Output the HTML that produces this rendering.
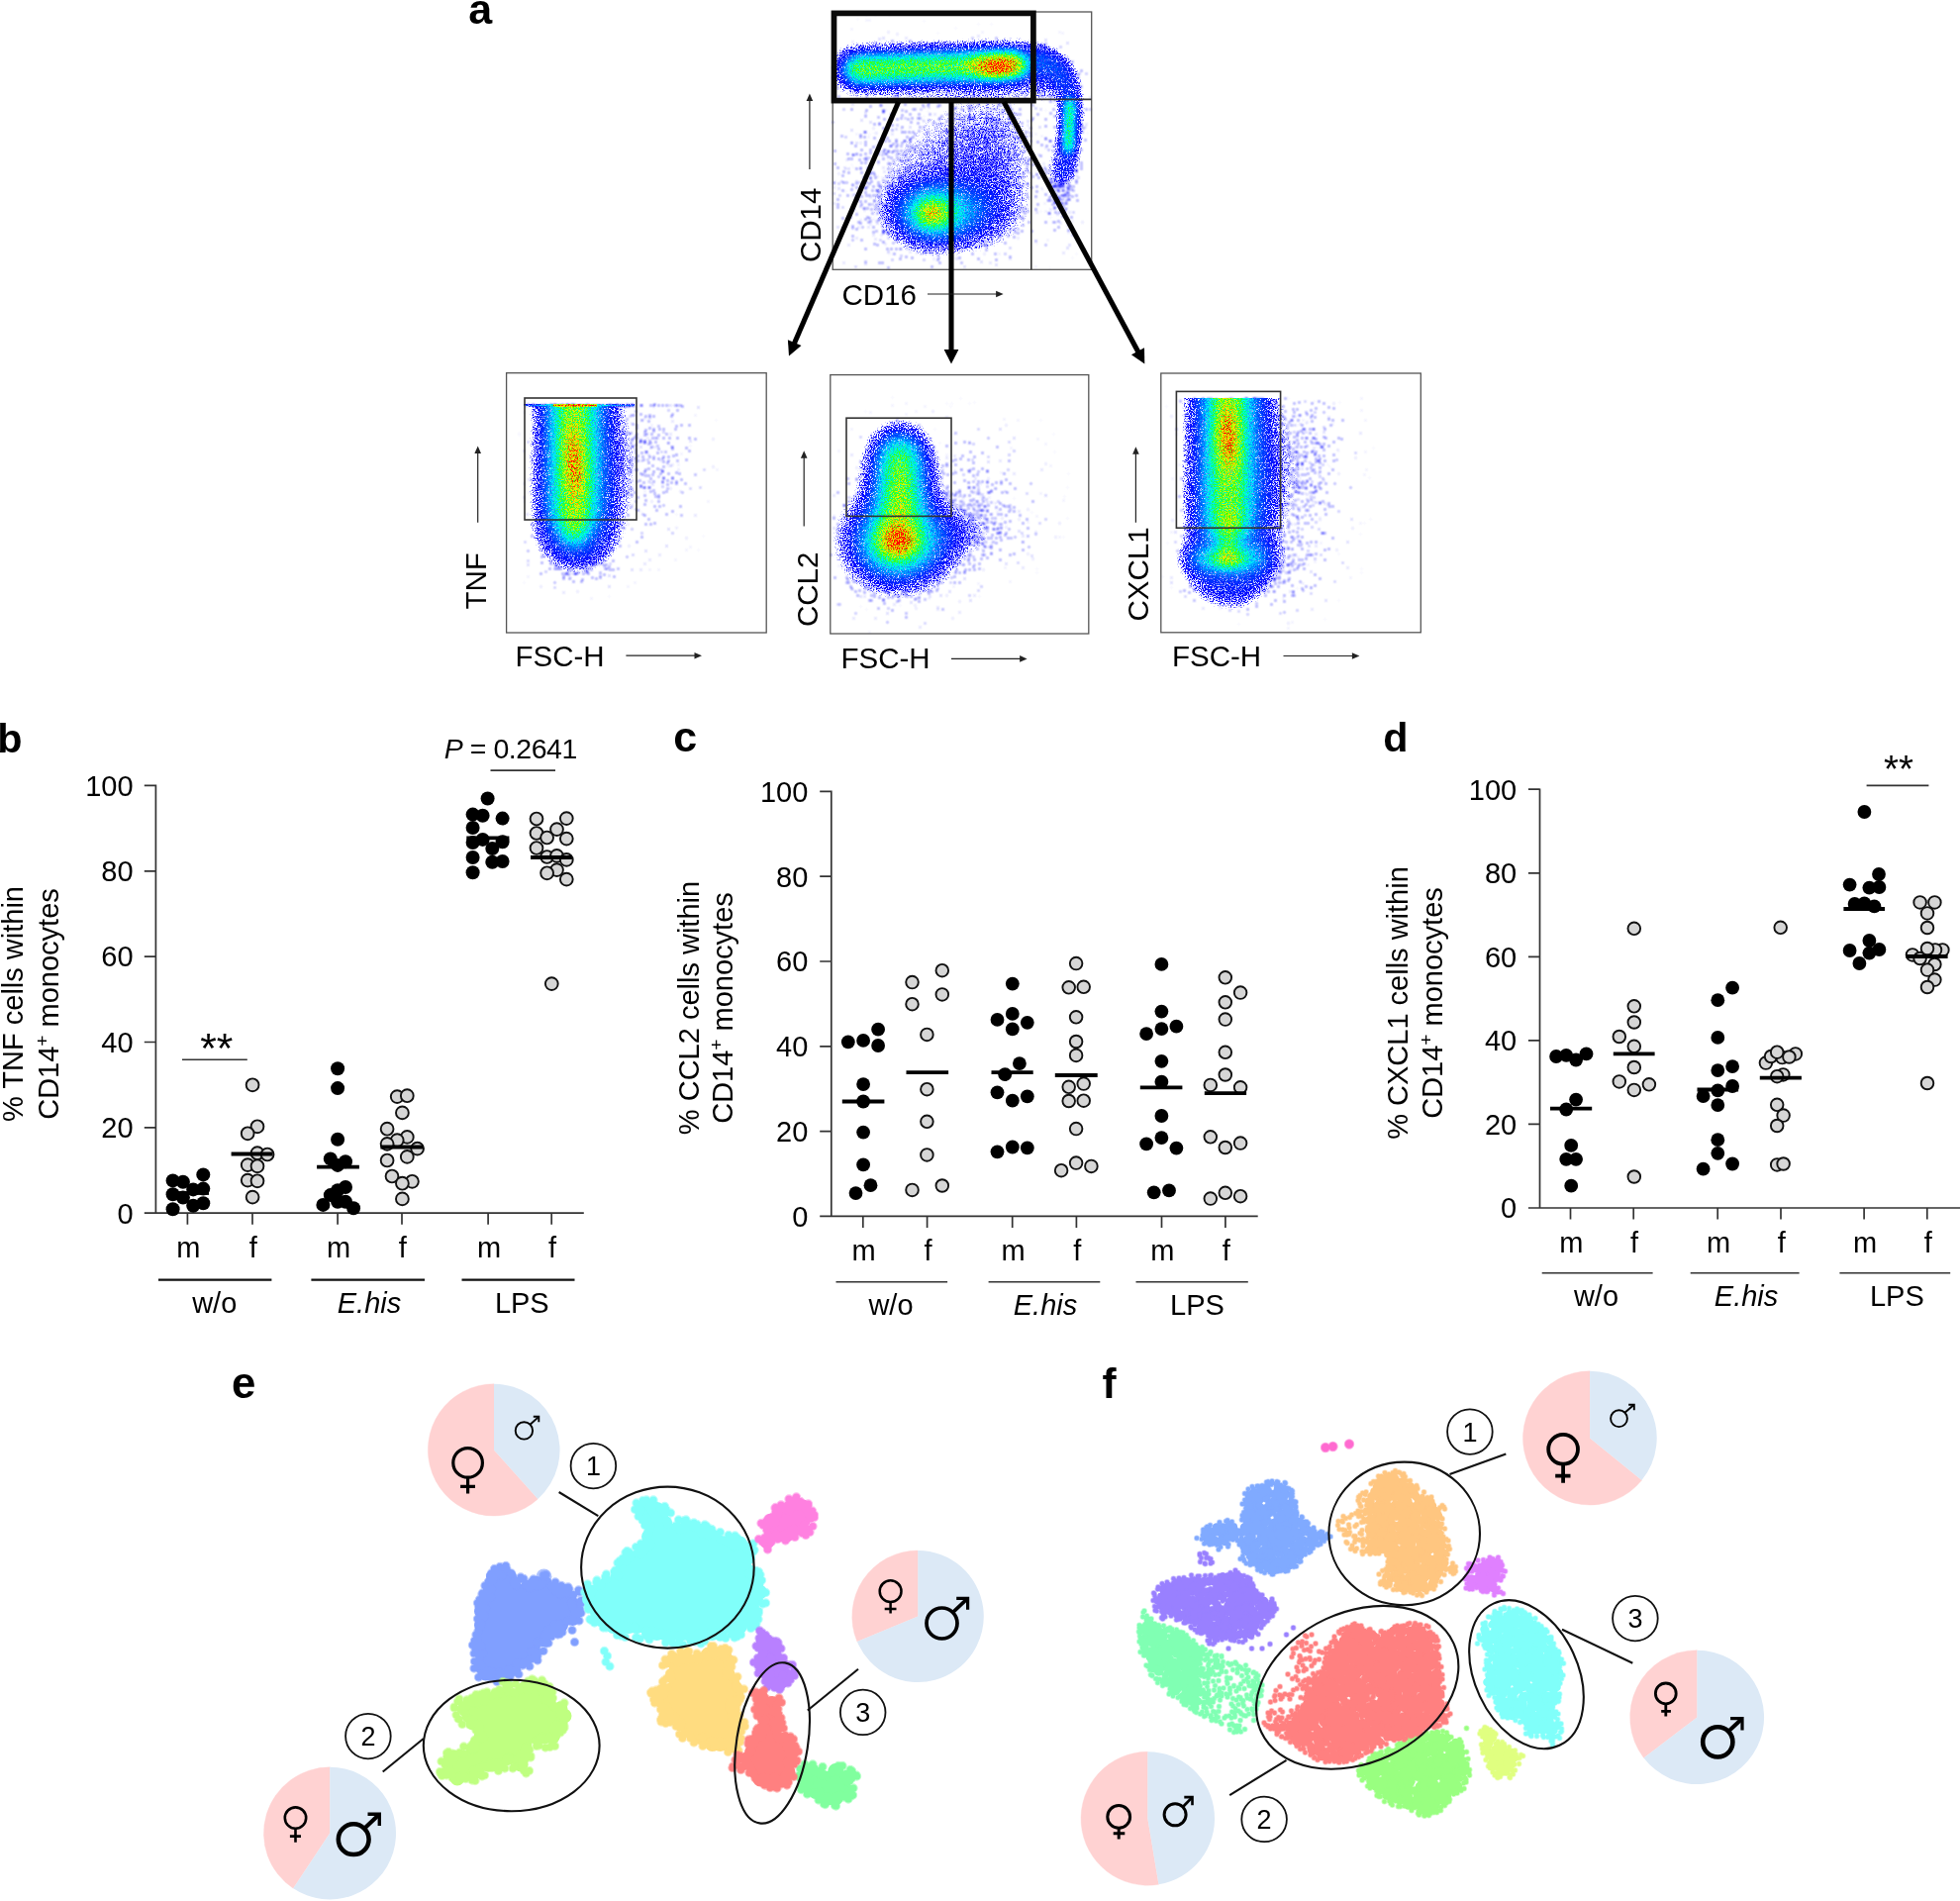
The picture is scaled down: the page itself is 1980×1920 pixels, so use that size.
<!DOCTYPE html>
<html lang="en"><head><meta charset="utf-8"><title>Figure</title>
<style>
html,body{margin:0;padding:0;background:#fff}
body{width:1980px;height:1920px;overflow:hidden}
svg{display:block}
text{font-family:"Liberation Sans", "DejaVu Sans", sans-serif;fill:#000}
.pl{font-weight:bold;font-size:41.3px}
.px{font-size:43px}
.t{font-size:29px}
.fl{font-size:29.5px}
.ax{stroke:#333;stroke-width:1.7;fill:none}
.md{stroke:#000;stroke-width:3.8;fill:none}
.k{fill:#000}
.g{fill:#d6d6d6;stroke:#111;stroke-width:1.9}
</style></head><body>
<svg width="1980" height="1920" viewBox="0 0 1980 1920">
<defs>
<radialGradient id="gg"><stop offset="0" stop-color="#fff" stop-opacity="1.000"/><stop offset=".1" stop-color="#fff" stop-opacity="0.956"/><stop offset=".2" stop-color="#fff" stop-opacity="0.835"/><stop offset=".3" stop-color="#fff" stop-opacity="0.667"/><stop offset=".4" stop-color="#fff" stop-opacity="0.487"/><stop offset=".5" stop-color="#fff" stop-opacity="0.325"/><stop offset=".6" stop-color="#fff" stop-opacity="0.198"/><stop offset=".7" stop-color="#fff" stop-opacity="0.110"/><stop offset=".8" stop-color="#fff" stop-opacity="0.056"/><stop offset=".9" stop-color="#fff" stop-opacity="0.026"/><stop offset="1" stop-color="#fff" stop-opacity="0.000"/></radialGradient>
<filter id="jet" filterUnits="userSpaceOnUse" x="500" y="0" width="950" height="650" color-interpolation-filters="sRGB"><feTurbulence type="fractalNoise" baseFrequency="0.83" numOctaves="2" seed="7" result="n"/><feComponentTransfer in="n" result="n2"><feFuncA type="linear" slope="3" intercept="-1"/></feComponentTransfer><feComposite in="SourceGraphic" in2="n2" operator="arithmetic" k1="0.5" k2="0.75" k3="0" k4="0" result="dC"/><feColorMatrix in="dC" type="matrix" values="0 0 0 1 0 0 0 0 1 0 0 0 0 1 0 0 0 0 0 1" result="g"/><feComponentTransfer in="g" result="col"><feFuncR type="table" tableValues="0 0 0 0 0 0 0.275 0.784 1 1 1"/><feFuncG type="table" tableValues="0 0 0.275 0.627 0.961 1 1 1 0.882 0.471 0"/><feFuncB type="table" tableValues="1 1 1 1 1 0.549 0 0 0 0 0"/></feComponentTransfer><feComposite in="SourceGraphic" in2="n2" operator="arithmetic" k1="1.5" k2="0.22" k3="0" k4="0" result="dA"/><feComponentTransfer in="dA" result="mask"><feFuncA type="table" tableValues="0 0 0 0 .5 1 1 1 1 1 1 1 1 1 1 1 1 1 1 1 1 1 1 1 1 1 1 1 1 1 1 1 1 1 1 1 1 1 1 1 1 1 1 1 1 1 1 1 1 1 1"/></feComponentTransfer><feComposite in="col" in2="mask" operator="in"/></filter>
<filter id="dots" filterUnits="userSpaceOnUse" x="500" y="0" width="950" height="650" color-interpolation-filters="sRGB"><feTurbulence type="fractalNoise" baseFrequency="0.78" numOctaves="1" seed="3" result="n"/><feComponentTransfer in="n" result="n2"><feFuncA type="linear" slope="2" intercept="-.5"/></feComponentTransfer><feComposite in="SourceGraphic" in2="n2" operator="arithmetic" k1="0" k2="1" k3="1" k4="-1" result="d"/><feColorMatrix in="d" type="matrix" values="0 0 0 0 .2 0 0 0 0 .2 0 0 0 0 1 0 0 0 25 0"/><feGaussianBlur stdDeviation="0.8"/><feComponentTransfer><feFuncA type="linear" slope="2.6"/></feComponentTransfer></filter>
<filter id="b2" filterUnits="userSpaceOnUse" x="500" y="0" width="950" height="650"><feGaussianBlur stdDeviation="2"/></filter><filter id="b3" filterUnits="userSpaceOnUse" x="500" y="0" width="950" height="650"><feGaussianBlur stdDeviation="3"/></filter><filter id="b4" filterUnits="userSpaceOnUse" x="500" y="0" width="950" height="650"><feGaussianBlur stdDeviation="4"/></filter><filter id="b6" filterUnits="userSpaceOnUse" x="500" y="0" width="950" height="650"><feGaussianBlur stdDeviation="6"/></filter><filter id="b9" filterUnits="userSpaceOnUse" x="500" y="0" width="950" height="650"><feGaussianBlur stdDeviation="9"/></filter><filter id="b12" filterUnits="userSpaceOnUse" x="500" y="0" width="950" height="650"><feGaussianBlur stdDeviation="12"/></filter><filter id="b16" filterUnits="userSpaceOnUse" x="500" y="0" width="950" height="650"><feGaussianBlur stdDeviation="16"/></filter>
<clipPath id="c0"><rect x="841.5" y="12.5" width="260.5" height="259"/></clipPath><clipPath id="c1"><rect x="512" y="408.6" width="261.5" height="230"/></clipPath><clipPath id="c2"><rect x="839.3" y="379" width="260" height="260.5"/></clipPath><clipPath id="c3"><rect x="1173.3" y="402.3" width="261.5" height="236"/></clipPath></defs>
<g filter="url(#dots)"><g opacity=".5"><g clip-path="url(#c0)"><ellipse cx="960" cy="165" rx="174" ry="150" fill="url(#gg)" fill-opacity=".36"/><ellipse cx="1005" cy="150" rx="90" ry="135" fill="url(#gg)" fill-opacity=".3"/><ellipse cx="948" cy="215" rx="135" ry="84" fill="url(#gg)" fill-opacity=".55"/><ellipse cx="880" cy="150" rx="90" ry="180" fill="url(#gg)" fill-opacity=".15"/><path d="M858 69L1040 65" stroke="#fff" stroke-width="36" stroke-opacity=".7" stroke-linecap="round" stroke-linejoin="round" fill="none" filter="url(#b6)"/><path d="M1046 58Q1088 68 1083 120T1072 195" stroke="#fff" stroke-width="22" stroke-opacity=".5" stroke-linecap="round" stroke-linejoin="round" fill="none" filter="url(#b6)"/><ellipse cx="1060" cy="76" rx="51" ry="51" fill="url(#gg)" fill-opacity=".42"/><ellipse cx="1070" cy="205" rx="30" ry="66" fill="url(#gg)" fill-opacity=".3"/></g><g clip-path="url(#c1)"><path d="M582 400V540" stroke="#fff" stroke-width="70" stroke-opacity=".6" stroke-linecap="round" stroke-linejoin="round" fill="none" filter="url(#b12)"/><ellipse cx="640" cy="470" rx="90" ry="135" fill="url(#gg)" fill-opacity=".3" transform="rotate(-10 640 470)"/><ellipse cx="672" cy="450" rx="75" ry="114" fill="url(#gg)" fill-opacity=".12"/><ellipse cx="586" cy="565" rx="72" ry="48" fill="url(#gg)" fill-opacity=".33"/><rect x="529" y="408.6" width="114" height="1.7" fill="#fff"/><rect x="643" y="408.6" width="48" height="1.5" fill="#fff" fill-opacity=".55"/></g><g clip-path="url(#c2)"><ellipse cx="912" cy="548" rx="120" ry="102" fill="url(#gg)" fill-opacity=".6"/><ellipse cx="909" cy="492" rx="78" ry="96" fill="url(#gg)" fill-opacity=".5"/><ellipse cx="975" cy="535" rx="108" ry="66" fill="url(#gg)" fill-opacity=".42" transform="rotate(-10 975 535)"/><ellipse cx="965" cy="480" rx="84" ry="90" fill="url(#gg)" fill-opacity=".15"/><ellipse cx="1010" cy="500" rx="90" ry="120" fill="url(#gg)" fill-opacity=".1"/><ellipse cx="905" cy="585" rx="90" ry="60" fill="url(#gg)" fill-opacity=".3"/></g><g clip-path="url(#c3)"><path d="M1243 395V566" stroke="#fff" stroke-width="78" stroke-opacity=".6" stroke-linecap="round" stroke-linejoin="round" fill="none" filter="url(#b12)"/><ellipse cx="1300" cy="470" rx="84" ry="180" fill="url(#gg)" fill-opacity=".35"/><ellipse cx="1330" cy="460" rx="75" ry="165" fill="url(#gg)" fill-opacity=".13"/><ellipse cx="1290" cy="570" rx="90" ry="75" fill="url(#gg)" fill-opacity=".3"/><ellipse cx="1240" cy="590" rx="90" ry="30" fill="url(#gg)" fill-opacity=".2"/></g></g></g>
<g filter="url(#jet)"><g clip-path="url(#c0)"><path d="M864 70L1030 65.5" stroke="#fff" stroke-width="46" stroke-opacity=".13" stroke-linecap="round" stroke-linejoin="round" fill="none" filter="url(#b9)"/><path d="M867 70L1025 65.5" stroke="#fff" stroke-width="25" stroke-opacity=".5" stroke-linecap="round" stroke-linejoin="round" fill="none" filter="url(#b6)"/><path d="M985 67L1020 65.5" stroke="#fff" stroke-width="14" stroke-opacity=".35" stroke-linecap="round" stroke-linejoin="round" fill="none" filter="url(#b6)"/><ellipse cx="1009" cy="67" rx="42" ry="21" fill="url(#gg)" fill-opacity=".85" transform="rotate(-3 1009 67)"/><ellipse cx="1060" cy="77" rx="42" ry="45" fill="url(#gg)" fill-opacity=".1"/><path d="M1050 58Q1086 68 1082 118T1074 175" stroke="#fff" stroke-width="21" stroke-opacity=".125" stroke-linecap="round" stroke-linejoin="round" fill="none" filter="url(#b6)"/><ellipse cx="960" cy="165" rx="174" ry="144" fill="url(#gg)" fill-opacity=".055"/><ellipse cx="1005" cy="150" rx="90" ry="135" fill="url(#gg)" fill-opacity=".04"/><path d="M1080.5 104L1079.5 150" stroke="#fff" stroke-width="7" stroke-opacity=".66" stroke-linecap="round" stroke-linejoin="round" fill="none" filter="url(#b4)"/><ellipse cx="956" cy="215" rx="111" ry="72" fill="url(#gg)" fill-opacity=".15"/><ellipse cx="943" cy="215" rx="57" ry="45" fill="url(#gg)" fill-opacity=".55"/><ellipse cx="941" cy="216" rx="24" ry="21" fill="url(#gg)" fill-opacity=".36"/><ellipse cx="980" cy="212" rx="66" ry="45" fill="url(#gg)" fill-opacity=".08"/></g><g clip-path="url(#c1)"><path d="M582 385V533" stroke="#fff" stroke-width="80" stroke-opacity=".135" stroke-linecap="round" stroke-linejoin="round" fill="none" filter="url(#b9)"/><ellipse cx="605" cy="475" rx="114" ry="156" fill="url(#gg)" fill-opacity=".06"/><path d="M580 385V517" stroke="#fff" stroke-width="44" stroke-opacity=".45" stroke-linecap="round" stroke-linejoin="round" fill="none" filter="url(#b9)"/><path d="M580 385V515" stroke="#fff" stroke-width="24" stroke-opacity=".16" stroke-linecap="round" stroke-linejoin="round" fill="none" filter="url(#b6)"/><ellipse cx="580" cy="468" rx="21" ry="78" fill="url(#gg)" fill-opacity=".6" transform="rotate(-3 580 468)"/><ellipse cx="580" cy="538" rx="30" ry="33" fill="url(#gg)" fill-opacity=".3"/><rect x="529" y="408.6" width="112" height="1.6" fill="#fff" fill-opacity=".2"/><rect x="559" y="408.6" width="44" height="1.8" fill="#fff"/></g><g clip-path="url(#c2)"><ellipse cx="908" cy="546" rx="105" ry="90" fill="url(#gg)" fill-opacity=".135"/><ellipse cx="909" cy="488" rx="75" ry="102" fill="url(#gg)" fill-opacity=".12"/><ellipse cx="962" cy="540" rx="102" ry="54" fill="url(#gg)" fill-opacity=".06" transform="rotate(-10 962 540)"/><ellipse cx="907" cy="548" rx="72" ry="63" fill="url(#gg)" fill-opacity=".62"/><ellipse cx="907" cy="545.5" rx="33" ry="30" fill="url(#gg)" fill-opacity=".75"/><ellipse cx="907" cy="545" rx="18" ry="18" fill="url(#gg)" fill-opacity=".4"/><path d="M909 459V520" stroke="#fff" stroke-width="34" stroke-opacity=".62" stroke-linecap="round" stroke-linejoin="round" fill="none" filter="url(#b12)"/><path d="M909 478V520" stroke="#fff" stroke-width="5" stroke-opacity=".15" stroke-linecap="round" stroke-linejoin="round" fill="none" filter="url(#b6)"/></g><g clip-path="url(#c3)"><path d="M1242 385V568" stroke="#fff" stroke-width="86" stroke-opacity=".135" stroke-linecap="round" stroke-linejoin="round" fill="none" filter="url(#b9)"/><ellipse cx="1282" cy="480" rx="102" ry="174" fill="url(#gg)" fill-opacity=".055"/><path d="M1241 385V528" stroke="#fff" stroke-width="44" stroke-opacity=".45" stroke-linecap="round" stroke-linejoin="round" fill="none" filter="url(#b9)"/><path d="M1241 385V522" stroke="#fff" stroke-width="24" stroke-opacity=".15" stroke-linecap="round" stroke-linejoin="round" fill="none" filter="url(#b6)"/><ellipse cx="1240.5" cy="441" rx="22.5" ry="66" fill="url(#gg)" fill-opacity=".66" transform="rotate(-2 1240.5 441)"/><path d="M1241 522V560" stroke="#fff" stroke-width="14" stroke-opacity=".25" stroke-linecap="round" stroke-linejoin="round" fill="none" filter="url(#b6)"/><ellipse cx="1241" cy="564" rx="66" ry="30" fill="url(#gg)" fill-opacity=".46"/><ellipse cx="1241" cy="565" rx="27" ry="18" fill="url(#gg)" fill-opacity=".22"/></g></g>
<g fill="none" stroke="#555" stroke-width="1.3"><rect x="841.2" y="12" width="261.5" height="260.3"/><rect x="511.6" y="376.7" width="262.6" height="262.3"/><rect x="838.8" y="378.6" width="261" height="261.4"/><rect x="1172.8" y="377" width="262.5" height="261.8"/></g>
<g fill="none" stroke="#333" stroke-width="1.6"><path d="M1041.8 103V272.3M1046 100.4H1102.7"/><rect x="530" y="402" width="113" height="123"/><rect x="855" y="422.2" width="106" height="99.2"/><rect x="1188.4" y="395.4" width="105.2" height="137.8"/></g>
<rect x="842.5" y="13.4" width="201.4" height="88.2" fill="none" stroke="#0a0a0a" stroke-width="5.7"/>
<path d="M907.6 103L801.9 348" stroke="#000" stroke-width="5.1" fill="none"/><path d="M797 359.5L795.9 343.3L809.5 349.1Z" fill="#000"/><path d="M961 103L961 355" stroke="#000" stroke-width="5.1" fill="none"/><path d="M961 367.5L953.6 353L968.4 353Z" fill="#000"/><path d="M1014.2 103L1150.4 356.5" stroke="#000" stroke-width="5.1" fill="none"/><path d="M1156.3 367.5L1142.9 358.2L1156 351.2Z" fill="#000"/>
<path d="M817.9 171L817.9 100.1" stroke="#222" stroke-width="1.2" fill="none"/><path d="M817.9 94.6L821.2 102.1L814.6 102.1Z" fill="#222"/><path d="M937 297L1008.1 297" stroke="#222" stroke-width="1.2" fill="none"/><path d="M1013.6 297L1006.1 300.3L1006.1 293.7Z" fill="#222"/><path d="M482.7 527.7L482.7 455.9" stroke="#222" stroke-width="1.2" fill="none"/><path d="M482.7 450.4L486 457.9L479.4 457.9Z" fill="#222"/><path d="M632.4 662.2L703.5 662.2" stroke="#222" stroke-width="1.2" fill="none"/><path d="M709 662.2L701.5 665.5L701.5 658.9Z" fill="#222"/><path d="M812.2 531.4L812.2 460.8" stroke="#222" stroke-width="1.2" fill="none"/><path d="M812.2 455.3L815.5 462.8L808.9 462.8Z" fill="#222"/><path d="M961 665.4L1032.1 665.4" stroke="#222" stroke-width="1.2" fill="none"/><path d="M1037.6 665.4L1030.1 668.7L1030.1 662.1Z" fill="#222"/><path d="M1147.4 527.7L1147.4 456.8" stroke="#222" stroke-width="1.2" fill="none"/><path d="M1147.4 451.3L1150.7 458.8L1144.1 458.8Z" fill="#222"/><path d="M1296.5 662.5L1367.9 662.5" stroke="#222" stroke-width="1.2" fill="none"/><path d="M1373.4 662.5L1365.9 665.8L1365.9 659.2Z" fill="#222"/>
<text class="pl px" x="473.2" y="24">a</text><text class="fl" transform="translate(829.3 265) rotate(-90)">CD14</text><text class="fl" x="850.5" y="308">CD16</text><text class="fl" transform="translate(490.5 615.5) rotate(-90)">TNF</text><text class="fl" x="520.5" y="673.2">FSC-H</text><text class="fl" transform="translate(826 633) rotate(-90)">CCL2</text><text class="fl" x="849.5" y="675.2">FSC-H</text><text class="fl" transform="translate(1159.6 627.5) rotate(-90)">CXCL1</text><text class="fl" x="1184" y="672.7">FSC-H</text>
<text class="pl" x="-2.7" y="760">b</text><path class="ax" d="M157.4 792.6V1225.2M145.8 1225.2H589.8M145.8 793.4H157.4M145.8 879.8H157.4M145.8 966.1H157.4M145.8 1052.5H157.4M145.8 1138.8H157.4M189.4 1225.2V1236.7M255 1225.2V1236.7M341.1 1225.2V1236.7M406 1225.2V1236.7M493.1 1225.2V1236.7M557.2 1225.2V1236.7"/><text class="t" text-anchor="end" x="134.6" y="803.7">100</text><text class="t" text-anchor="end" x="134.6" y="890.1">80</text><text class="t" text-anchor="end" x="134.6" y="976.4">60</text><text class="t" text-anchor="end" x="134.6" y="1062.8">40</text><text class="t" text-anchor="end" x="134.6" y="1149.1">20</text><text class="t" text-anchor="end" x="134.6" y="1235.5">0</text><text class="t" text-anchor="middle" x="190.3" y="1270">m</text><text class="t" text-anchor="middle" x="255.9" y="1270">f</text><text class="t" text-anchor="middle" x="342" y="1270">m</text><text class="t" text-anchor="middle" x="406.9" y="1270">f</text><text class="t" text-anchor="middle" x="494" y="1270">m</text><text class="t" text-anchor="middle" x="558.1" y="1270">f</text><path d="M160 1292.6H274.4M314.4 1292.6H429M466.5 1292.6H580.5" stroke="#111" stroke-width="2.4" fill="none"/><text class="t" text-anchor="middle" x="216.7" y="1325.5">w/o</text><text class="t" text-anchor="middle" x="373" y="1325.5"><tspan font-style="italic">E.his</tspan></text><text class="t" text-anchor="middle" x="527.3" y="1325.5">LPS</text><text class="t" text-anchor="middle" transform="translate(22.6 1014) rotate(-90)">% TNF cells within</text><text class="t" text-anchor="middle" transform="translate(58.8 1014) rotate(-90)">CD14<tspan font-size="19" dy="-10">+</tspan><tspan dy="10"> monocytes</tspan></text>
<circle class="k" cx="174.6" cy="1192.4" r="7"/><circle class="k" cx="184.9" cy="1193.8" r="7"/><circle class="k" cx="205.3" cy="1186.4" r="7"/><circle class="k" cx="174.6" cy="1206.3" r="7"/><circle class="k" cx="184.9" cy="1209.6" r="7"/><circle class="k" cx="195.2" cy="1201.4" r="7"/><circle class="k" cx="205.3" cy="1200.6" r="7"/><circle class="k" cx="195.2" cy="1217.8" r="7"/><circle class="k" cx="205.3" cy="1215.3" r="7"/><circle class="k" cx="174.6" cy="1221.3" r="7"/><circle class="g" cx="255.1" cy="1095.8" r="6.4"/><circle class="g" cx="260" cy="1137.8" r="6.4"/><circle class="g" cx="250.2" cy="1144.8" r="6.4"/><circle class="g" cx="260" cy="1164.7" r="6.4"/><circle class="g" cx="270.1" cy="1166" r="6.4"/><circle class="g" cx="250.2" cy="1176.6" r="6.4"/><circle class="g" cx="260" cy="1177.8" r="6.4"/><circle class="g" cx="250.2" cy="1192.1" r="6.4"/><circle class="g" cx="260" cy="1192.8" r="6.4"/><circle class="g" cx="255.1" cy="1209.1" r="6.4"/><circle class="k" cx="341.1" cy="1079.3" r="7"/><circle class="k" cx="341.1" cy="1099.1" r="7"/><circle class="k" cx="341.1" cy="1150.8" r="7"/><circle class="k" cx="333.8" cy="1170.4" r="7"/><circle class="k" cx="349" cy="1173.3" r="7"/><circle class="k" cx="341.1" cy="1176.9" r="7"/><circle class="k" cx="349" cy="1199" r="7"/><circle class="k" cx="341.1" cy="1202.2" r="7"/><circle class="k" cx="333.8" cy="1207.1" r="7"/><circle class="k" cx="341.1" cy="1213.7" r="7"/><circle class="k" cx="349" cy="1213.7" r="7"/><circle class="k" cx="326.4" cy="1216.9" r="7"/><circle class="k" cx="357.1" cy="1220.2" r="7"/><circle class="g" cx="401.2" cy="1107.6" r="6.4"/><circle class="g" cx="411.3" cy="1106.7" r="6.4"/><circle class="g" cx="406.4" cy="1123.9" r="6.4"/><circle class="g" cx="391.1" cy="1140.2" r="6.4"/><circle class="g" cx="411.3" cy="1148.4" r="6.4"/><circle class="g" cx="401.2" cy="1151.6" r="6.4"/><circle class="g" cx="391.1" cy="1155.4" r="6.4"/><circle class="g" cx="421.6" cy="1160.1" r="6.4"/><circle class="g" cx="411.3" cy="1168.4" r="6.4"/><circle class="g" cx="391.1" cy="1172" r="6.4"/><circle class="g" cx="396" cy="1188" r="6.4"/><circle class="g" cx="416.4" cy="1193.3" r="6.4"/><circle class="g" cx="406.4" cy="1195.2" r="6.4"/><circle class="g" cx="406.4" cy="1210.9" r="6.4"/><circle class="k" cx="492.6" cy="806.5" r="7"/><circle class="k" cx="477.6" cy="822.6" r="7"/><circle class="k" cx="487.6" cy="823.7" r="7"/><circle class="k" cx="507.6" cy="826.6" r="7"/><circle class="k" cx="477.6" cy="836" r="7"/><circle class="k" cx="487.6" cy="847.9" r="7"/><circle class="k" cx="507.6" cy="850.2" r="7"/><circle class="k" cx="477.6" cy="851" r="7"/><circle class="k" cx="497.3" cy="857" r="7"/><circle class="k" cx="477.6" cy="866" r="7"/><circle class="k" cx="497.3" cy="870.7" r="7"/><circle class="k" cx="507.6" cy="870" r="7"/><circle class="k" cx="477.6" cy="881.3" r="7"/><circle class="g" cx="542" cy="827" r="6.4"/><circle class="g" cx="572.3" cy="826.6" r="6.4"/><circle class="g" cx="562.5" cy="837.6" r="6.4"/><circle class="g" cx="542" cy="841.5" r="6.4"/><circle class="g" cx="552.6" cy="846" r="6.4"/><circle class="g" cx="572.3" cy="847.1" r="6.4"/><circle class="g" cx="542" cy="856.5" r="6.4"/><circle class="g" cx="552.6" cy="865.5" r="6.4"/><circle class="g" cx="562.5" cy="864.4" r="6.4"/><circle class="g" cx="572.3" cy="868.4" r="6.4"/><circle class="g" cx="562.5" cy="878.6" r="6.4"/><circle class="g" cx="552.6" cy="881.8" r="6.4"/><circle class="g" cx="572.3" cy="888.1" r="6.4"/><circle class="g" cx="557.3" cy="993.6" r="6.4"/>
<path class="md" d="M179.2 1205H211"/><path class="md" d="M233.6 1165.5H275.5"/><path class="md" d="M320.1 1178.6H362.9"/><path class="md" d="M384.4 1158.5H427.3"/><path class="md" d="M471.3 846.3H514.4"/><path class="md" d="M536 866H577.9"/><path d="M184 1070.3H249.8M495.5 778.1H561" stroke="#333" stroke-width="1.6" fill="none"/><text text-anchor="middle" x="218.7" y="1073.2" font-size="42.5">**</text><text x="448.7" y="766.3" font-size="28.5" letter-spacing="-.45"><tspan font-style="italic">P</tspan> = 0.2641</text>
<text class="pl px" x="680.3" y="759.3">c</text><path class="ax" d="M839.8 798.6V1228.4M828.2 1228.4H1270.7M828.2 799.4H839.8M828.2 885.2H839.8M828.2 971H839.8M828.2 1056.8H839.8M828.2 1142.6H839.8M871.8 1228.4V1239.9M936.6 1228.4V1239.9M1022.7 1228.4V1239.9M1087.4 1228.4V1239.9M1173.5 1228.4V1239.9M1237.9 1228.4V1239.9"/><text class="t" text-anchor="end" x="816.3" y="809.7">100</text><text class="t" text-anchor="end" x="816.3" y="895.5">80</text><text class="t" text-anchor="end" x="816.3" y="981.3">60</text><text class="t" text-anchor="end" x="816.3" y="1067.1">40</text><text class="t" text-anchor="end" x="816.3" y="1152.9">20</text><text class="t" text-anchor="end" x="816.3" y="1238.7">0</text><text class="t" text-anchor="middle" x="872.7" y="1272.8">m</text><text class="t" text-anchor="middle" x="937.5" y="1272.8">f</text><text class="t" text-anchor="middle" x="1023.6" y="1272.8">m</text><text class="t" text-anchor="middle" x="1088.3" y="1272.8">f</text><text class="t" text-anchor="middle" x="1174.4" y="1272.8">m</text><text class="t" text-anchor="middle" x="1238.8" y="1272.8">f</text><path d="M844.5 1294.7H957.1M998.6 1294.7H1111.3M1147.5 1294.7H1260.8" stroke="#333" stroke-width="1.5" fill="none"/><text class="t" text-anchor="middle" x="900" y="1328">w/o</text><text class="t" text-anchor="middle" x="1056" y="1328"><tspan font-style="italic">E.his</tspan></text><text class="t" text-anchor="middle" x="1209.5" y="1328">LPS</text><text class="t" text-anchor="middle" transform="translate(705.7 1018) rotate(-90)">% CCL2 cells within</text><text class="t" text-anchor="middle" transform="translate(740 1018) rotate(-90)">CD14<tspan font-size="19" dy="-10">+</tspan><tspan dy="10"> monocytes</tspan></text>
<circle class="k" cx="887.1" cy="1039.7" r="6.9"/><circle class="k" cx="856.8" cy="1052.3" r="6.9"/><circle class="k" cx="872.1" cy="1050.9" r="6.9"/><circle class="k" cx="887.1" cy="1056" r="6.9"/><circle class="k" cx="872.1" cy="1095.1" r="6.9"/><circle class="k" cx="872.1" cy="1112.5" r="6.9"/><circle class="k" cx="872.1" cy="1143.6" r="6.9"/><circle class="k" cx="872.1" cy="1176.4" r="6.9"/><circle class="k" cx="879.5" cy="1197.2" r="6.9"/><circle class="k" cx="864.5" cy="1205.1" r="6.9"/><circle class="g" cx="951.8" cy="980.2" r="6.3"/><circle class="g" cx="921.5" cy="992.1" r="6.3"/><circle class="g" cx="951.8" cy="1004.4" r="6.3"/><circle class="g" cx="921.5" cy="1014.2" r="6.3"/><circle class="g" cx="936.4" cy="1044.9" r="6.3"/><circle class="g" cx="936.4" cy="1100.2" r="6.3"/><circle class="g" cx="936.4" cy="1132.8" r="6.3"/><circle class="g" cx="936.4" cy="1166.4" r="6.3"/><circle class="g" cx="951.8" cy="1197.5" r="6.3"/><circle class="g" cx="921.5" cy="1201.9" r="6.3"/><circle class="k" cx="1022.8" cy="993.6" r="6.9"/><circle class="k" cx="1022.8" cy="1023.9" r="6.9"/><circle class="k" cx="1007.5" cy="1029.9" r="6.9"/><circle class="k" cx="1037.8" cy="1032.8" r="6.9"/><circle class="k" cx="1022.8" cy="1039.4" r="6.9"/><circle class="k" cx="1029.9" cy="1074.1" r="6.9"/><circle class="k" cx="1015.2" cy="1085.2" r="6.9"/><circle class="k" cx="1007.5" cy="1103.3" r="6.9"/><circle class="k" cx="1037.8" cy="1107.3" r="6.9"/><circle class="k" cx="1022.8" cy="1111.7" r="6.9"/><circle class="k" cx="1022.8" cy="1158.5" r="6.9"/><circle class="k" cx="1037.8" cy="1159.3" r="6.9"/><circle class="k" cx="1007.5" cy="1163.3" r="6.9"/><circle class="g" cx="1087.1" cy="973.1" r="6.3"/><circle class="g" cx="1079.7" cy="997.3" r="6.3"/><circle class="g" cx="1094.7" cy="996.8" r="6.3"/><circle class="g" cx="1087.1" cy="1027.3" r="6.3"/><circle class="g" cx="1087.1" cy="1052" r="6.3"/><circle class="g" cx="1087.1" cy="1065.9" r="6.3"/><circle class="g" cx="1094.7" cy="1094.6" r="6.3"/><circle class="g" cx="1079.7" cy="1097.8" r="6.3"/><circle class="g" cx="1079.7" cy="1112" r="6.3"/><circle class="g" cx="1094.7" cy="1111.7" r="6.3"/><circle class="g" cx="1087.1" cy="1140.1" r="6.3"/><circle class="g" cx="1087.1" cy="1174.6" r="6.3"/><circle class="g" cx="1102.4" cy="1177.9" r="6.3"/><circle class="g" cx="1072.1" cy="1182.2" r="6.3"/><circle class="k" cx="1173.4" cy="973.9" r="6.9"/><circle class="k" cx="1173.4" cy="1021.6" r="6.9"/><circle class="k" cx="1188.4" cy="1036.7" r="6.9"/><circle class="k" cx="1173.4" cy="1039.1" r="6.9"/><circle class="k" cx="1158.1" cy="1044.1" r="6.9"/><circle class="k" cx="1173.4" cy="1071.8" r="6.9"/><circle class="k" cx="1173.4" cy="1092.7" r="6.9"/><circle class="k" cx="1173.4" cy="1127" r="6.9"/><circle class="k" cx="1173.4" cy="1149.1" r="6.9"/><circle class="k" cx="1158.1" cy="1155.4" r="6.9"/><circle class="k" cx="1188.4" cy="1159.6" r="6.9"/><circle class="k" cx="1181" cy="1202.4" r="6.9"/><circle class="k" cx="1165.7" cy="1204.3" r="6.9"/><circle class="g" cx="1237.8" cy="987.3" r="6.3"/><circle class="g" cx="1253.1" cy="1002.6" r="6.3"/><circle class="g" cx="1237.8" cy="1012.3" r="6.3"/><circle class="g" cx="1237.8" cy="1029.6" r="6.3"/><circle class="g" cx="1237.8" cy="1062.8" r="6.3"/><circle class="g" cx="1237.8" cy="1085.5" r="6.3"/><circle class="g" cx="1222.8" cy="1095.9" r="6.3"/><circle class="g" cx="1253.1" cy="1098.3" r="6.3"/><circle class="g" cx="1222.8" cy="1148.3" r="6.3"/><circle class="g" cx="1253.1" cy="1154.6" r="6.3"/><circle class="g" cx="1237.8" cy="1159" r="6.3"/><circle class="g" cx="1237.8" cy="1204.8" r="6.3"/><circle class="g" cx="1253.1" cy="1208.2" r="6.3"/><circle class="g" cx="1222.8" cy="1210.6" r="6.3"/>
<path class="md" d="M850.8 1112.5H893.4"/><path class="md" d="M915.5 1083.1H958.1"/><path class="md" d="M1001.5 1083.1H1043.7"/><path class="md" d="M1065.8 1086H1108.7"/><path class="md" d="M1151.8 1098.3H1194.4"/><path class="md" d="M1216.8 1104.1H1259.1"/>
<text class="pl" x="1397.2" y="759.4">d</text><path class="ax" d="M1555.5 796.4V1220M1543.9 1220H1981M1543.9 797.2H1555.5M1543.9 881.8H1555.5M1543.9 966.3H1555.5M1543.9 1050.9H1555.5M1543.9 1135.4H1555.5M1586.5 1220V1231.5M1650.2 1220V1231.5M1735.2 1220V1231.5M1799 1220V1231.5M1883.1 1220V1231.5M1946.8 1220V1231.5"/><text class="t" text-anchor="end" x="1532.2" y="807.5">100</text><text class="t" text-anchor="end" x="1532.2" y="892.1">80</text><text class="t" text-anchor="end" x="1532.2" y="976.6">60</text><text class="t" text-anchor="end" x="1532.2" y="1061.2">40</text><text class="t" text-anchor="end" x="1532.2" y="1145.7">20</text><text class="t" text-anchor="end" x="1532.2" y="1230.3">0</text><text class="t" text-anchor="middle" x="1587.4" y="1265.2">m</text><text class="t" text-anchor="middle" x="1651.1" y="1265.2">f</text><text class="t" text-anchor="middle" x="1736.1" y="1265.2">m</text><text class="t" text-anchor="middle" x="1799.9" y="1265.2">f</text><text class="t" text-anchor="middle" x="1884" y="1265.2">m</text><text class="t" text-anchor="middle" x="1947.7" y="1265.2">f</text><path d="M1557.7 1285.8H1669.6M1707.7 1285.8H1817.6M1858.4 1285.8H1970.2" stroke="#333" stroke-width="1.5" fill="none"/><text class="t" text-anchor="middle" x="1612.5" y="1319.3">w/o</text><text class="t" text-anchor="middle" x="1764.1" y="1319.3"><tspan font-style="italic">E.his</tspan></text><text class="t" text-anchor="middle" x="1916.4" y="1319.3">LPS</text><text class="t" text-anchor="middle" transform="translate(1422.4 1013) rotate(-90)">% CXCL1 cells within</text><text class="t" text-anchor="middle" transform="translate(1457.3 1013) rotate(-90)">CD14<tspan font-size="19" dy="-10">+</tspan><tspan dy="10"> monocytes</tspan></text>
<circle class="k" cx="1572.1" cy="1067" r="6.9"/><circle class="k" cx="1582.2" cy="1065.8" r="6.9"/><circle class="k" cx="1592.1" cy="1070.5" r="6.9"/><circle class="k" cx="1602.5" cy="1064.4" r="6.9"/><circle class="k" cx="1592.1" cy="1110.6" r="6.9"/><circle class="k" cx="1582.2" cy="1120.5" r="6.9"/><circle class="k" cx="1587.2" cy="1156.9" r="6.9"/><circle class="k" cx="1582.2" cy="1170.8" r="6.9"/><circle class="k" cx="1592.1" cy="1170.8" r="6.9"/><circle class="k" cx="1587.2" cy="1197.7" r="6.9"/><circle class="g" cx="1650.8" cy="937.8" r="6.3"/><circle class="g" cx="1650.8" cy="1016.3" r="6.3"/><circle class="g" cx="1650.8" cy="1032.5" r="6.3"/><circle class="g" cx="1635.8" cy="1047" r="6.3"/><circle class="g" cx="1650.8" cy="1056.8" r="6.3"/><circle class="g" cx="1650.8" cy="1078" r="6.3"/><circle class="g" cx="1635.8" cy="1092.4" r="6.3"/><circle class="g" cx="1665.9" cy="1095.3" r="6.3"/><circle class="g" cx="1650.8" cy="1100.9" r="6.3"/><circle class="g" cx="1650.8" cy="1188.5" r="6.3"/><circle class="k" cx="1750.1" cy="997.7" r="6.9"/><circle class="k" cx="1735.3" cy="1010.2" r="6.9"/><circle class="k" cx="1735.3" cy="1047.9" r="6.9"/><circle class="k" cx="1750.1" cy="1077.1" r="6.9"/><circle class="k" cx="1735.3" cy="1081.1" r="6.9"/><circle class="k" cx="1750.1" cy="1097" r="6.9"/><circle class="k" cx="1735.3" cy="1101.4" r="6.9"/><circle class="k" cx="1720.6" cy="1107.1" r="6.9"/><circle class="k" cx="1735.3" cy="1116.1" r="6.9"/><circle class="k" cx="1735.3" cy="1151.2" r="6.9"/><circle class="k" cx="1735.3" cy="1164.8" r="6.9"/><circle class="k" cx="1750.1" cy="1175.5" r="6.9"/><circle class="k" cx="1720.6" cy="1180.7" r="6.9"/><circle class="g" cx="1798.7" cy="936.8" r="6.3"/><circle class="g" cx="1783.9" cy="1073.6" r="6.3"/><circle class="g" cx="1789.1" cy="1067" r="6.3"/><circle class="g" cx="1813.8" cy="1064.4" r="6.3"/><circle class="g" cx="1800.4" cy="1068.1" r="6.3"/><circle class="g" cx="1795.2" cy="1062.7" r="6.3"/><circle class="g" cx="1807.4" cy="1067.5" r="6.3"/><circle class="g" cx="1801.3" cy="1085.4" r="6.3"/><circle class="g" cx="1795.2" cy="1087.2" r="6.3"/><circle class="g" cx="1795.2" cy="1115.8" r="6.3"/><circle class="g" cx="1801.6" cy="1126.6" r="6.3"/><circle class="g" cx="1795.2" cy="1137" r="6.3"/><circle class="g" cx="1795.2" cy="1176.4" r="6.3"/><circle class="g" cx="1801.6" cy="1175.5" r="6.3"/><circle class="k" cx="1883.4" cy="820" r="6.9"/><circle class="k" cx="1898" cy="883" r="6.9"/><circle class="k" cx="1868.6" cy="893.6" r="6.9"/><circle class="k" cx="1888.4" cy="896.6" r="6.9"/><circle class="k" cx="1898.4" cy="896" r="6.9"/><circle class="k" cx="1873.6" cy="913" r="6.9"/><circle class="k" cx="1883.4" cy="912.4" r="6.9"/><circle class="k" cx="1893.4" cy="915.4" r="6.9"/><circle class="k" cx="1888.4" cy="950" r="6.9"/><circle class="k" cx="1868.6" cy="960" r="6.9"/><circle class="k" cx="1898.4" cy="959" r="6.9"/><circle class="k" cx="1888.4" cy="962.6" r="6.9"/><circle class="k" cx="1878.4" cy="973" r="6.9"/><circle class="g" cx="1939.6" cy="911.4" r="6.3"/><circle class="g" cx="1954.4" cy="911.4" r="6.3"/><circle class="g" cx="1947" cy="922.4" r="6.3"/><circle class="g" cx="1947" cy="937" r="6.3"/><circle class="g" cx="1932" cy="964.4" r="6.3"/><circle class="g" cx="1939.6" cy="968" r="6.3"/><circle class="g" cx="1962.4" cy="959.4" r="6.3"/><circle class="g" cx="1955" cy="959.4" r="6.3"/><circle class="g" cx="1947" cy="958" r="6.3"/><circle class="g" cx="1954.4" cy="974" r="6.3"/><circle class="g" cx="1947" cy="979.6" r="6.3"/><circle class="g" cx="1954.4" cy="989.6" r="6.3"/><circle class="g" cx="1947" cy="997" r="6.3"/><circle class="g" cx="1947" cy="1094" r="6.3"/>
<path class="md" d="M1566 1119.6H1608.2"/><path class="md" d="M1629.8 1064.4H1671.6"/><path class="md" d="M1714.5 1100.5H1756.1"/><path class="md" d="M1777.8 1088.7H1819.9"/><path class="md" d="M1862.4 918H1904"/><path class="md" d="M1925.6 966H1967.6"/><path d="M1885.6 793.4H1948.4" stroke="#333" stroke-width="1.6" fill="none"/><text text-anchor="middle" x="1917.9" y="789.6" font-size="38.5">**</text>
<g><g fill="#809fff" fill-opacity=".62"><circle cx="507.5" cy="1593" r="9.5"/><circle cx="549.5" cy="1592.5" r="8"/><circle cx="497" cy="1600" r="8"/></g><g fill="none" stroke="#809fff" stroke-linecap="round"><path d="M498.5 1592.5h0m8 0h0m8 0h0m-12 7h0m8 0h0m8 0h0m24 0h0m8 0h0m-52 7h0m8 0h0m8 0h0m8 0h0m8 0h0m8 0h0m8 0h0m8 0h0m8 0h0m-68 7h0m8 0h0m8 0h0m8 0h0m8 0h0m8 0h0m8 0h0m8 0h0m8 0h0m8 0h0m8 0h0m-84 7h0m8 0h0m8 0h0m8 0h0m8 0h0m8 0h0m8 0h0m8 0h0m8 0h0m8 0h0m8 0h0m8 0h0m-92 7h0m8 0h0m8 0h0m8 0h0m8 0h0m8 0h0m8 0h0m8 0h0m8 0h0m8 0h0m8 0h0m8 0h0m-84 7h0m8 0h0m8 0h0m8 0h0m8 0h0m8 0h0m8 0h0m8 0h0m8 0h0m8 0h0m8 0h0m8 0h0m-92 7h0m8 0h0m8 0h0m8 0h0m8 0h0m8 0h0m8 0h0m8 0h0m8 0h0m8 0h0m8 0h0m-76 7h0m8 0h0m8 0h0m8 0h0m8 0h0m8 0h0m8 0h0m8 0h0m8 0h0m-68 7h0m8 0h0m8 0h0m8 0h0m8 0h0m8 0h0m8 0h0m8 0h0m-52 7h0m8 0h0m8 0h0m8 0h0m8 0h0m8 0h0m8 0h0m-52 7h0m8 0h0m8 0h0m8 0h0m8 0h0m8 0h0m8 0h0m-44 6.5h0m8 0h0m8 0h0m8 0h0m8 0h0m8 0h0m-44 7h0m8 0h0m8 0h0m8 0h0m8 0h0m-28 7h0m8 0h0m8 0h0" stroke-width="15"/><defs><path id="q1" d="M499.5 1584.5h0m3 2h0m2.5 -4h0m6 -1h0m0.5 2.5h0m0.5 1h0m-16.5 6h0m1 -2h0m1.5 2.5h0m0 0.5h0m5.5 -2h0m3.5 1.5h0m9.5 -2.5h0m32.5 2h0m2.5 -0.5h0m-58 7h0m4.5 -2h0m0.5 -1.5h0m20.5 4h0m3 -1.5h0m4 -3.5h0m0.5 0.5h0m2 2h0m0.5 -1h0m1.5 4h0m6 -0.5h0m1.5 -1.5h0m1 -1.5h0m1 3.5h0m21 -0.5h0m-71 3.5h0m1 1.5h0m1 0.5h0m29.5 -2h0m10 0h0m3.5 2.5h0m2 -4h0m2.5 0h0m3 -0.5h0m0.5 2.5h0m1 -0.5h0m4.5 -2h0m9 2.5h0m3.5 0h0m0.5 -0.5h0m5.5 0h0m0 2.5h0m2.5 0.5h0m1.5 -1h0m3 -0.5h0m0 1h0m-87 6h0m0.5 -1h0m4.5 -2.5h0m4.5 -1.5h0m65 2h0m4.5 0h0m0 2.5h0m0.5 1h0m0.5 -0.5h0m0.5 -3h0m1 0h0m4 2.5h0m1 -4.5h0m1.5 0h0m4.5 5.5h0m5 -4.5h0m1 2h0m0.5 -1h0m-101.5 8.5h0m4.5 -4.5h0m1 5h0m3.5 -2h0m1 -1h0m1.5 0h0m91 3.5h0m-104.5 2.5h0m1 3h0m1 1h0m1 -5h0m1 1.5h0m91 -0.5h0m9.5 0.5h0m-101.5 7h0m0 0.5h0m5 -3h0m88.5 -0.5h0m3 3h0m4 -1h0m-103.5 9.5h0m4.5 -3.5h0m1.5 1h0m0.5 -1h0m0 1h0m91.5 -2h0m1 -0.5h0m2.5 0h0m0.5 -0.5h0m1 0.5h0m1.5 -1h0m-101.5 11.5h0m0.5 -1h0m79 0.5h0m8.5 -2.5h0m5 -1.5h0m6.5 1h0m-100 6h0m68.5 3.5h0m0 0h0m1.5 0h0m5 -5h0m5.5 3.5h0m1.5 1.5h0m11 0h0m-97 4.5h0m2 -3.5h0m67 4.5h0m1 -1.5h0m6 2.5h0m2 -4h0m0.5 -1.5h0m3.5 -0.5h0m0.5 4h0m2 -0.5h0m2.5 -2h0m-88.5 8.5h0m2.5 -2h0m0 3h0m60.5 0.5h0m8 -2.5h0m2 -1h0m28 3.5h0m-103 3h0m3.5 2h0m1 -4.5h0m1 1.5h0m3 2h0m61.5 -3h0m4 0.5h0m2.5 -0.5h0m-75 10.5h0m1 -5h0m8 5h0m48 -2h0m3.5 0h0m1.5 0.5h0m3.5 0h0m4.5 -1h0m-65 7h0m0.5 -3.5h0m53 4.5h0m1.5 -0.5h0m0.5 0h0m3.5 2h0m0 -4.5h0m-63.5 5.5h0m1.5 1h0m4 2h0m37 -0.5h0m6 1.5h0m1 -3h0m5.5 -2h0m0.5 6h0m-56 2h0m7.5 -1.5h0m7 4.5h0m3.5 1h0m17 -3h0m1 3h0m3.5 -0.5h0m4 -1.5h0m-39 7h0m2.5 -3.5h0m0.5 0.5h0m8 2.5h0m9.5 0h0m0.5 -4.5h0m1 4h0m4.5 -2h0m4.5 0h0m0 4h0m1 -2.5h0m3 -3h0m5.5 1.5h0m-22 7.5h0m4.5 -2.5h0"/></defs><use href="#q1" stroke-width="9.4" stroke-opacity=".55"/><use href="#q1" stroke-width="7.2"/></g><g fill="none" stroke="#bfff80" stroke-linecap="round"><path d="M530 1705.5h0m8 0h0m8 0h0m-44 7h0m8 0h0m8 0h0m8 0h0m8 0h0m8 0h0m8 0h0m-68 7h0m8 0h0m8 0h0m8 0h0m8 0h0m8 0h0m8 0h0m8 0h0m8 0h0m8 0h0m-84 6.5h0m8 0h0m8 0h0m8 0h0m8 0h0m8 0h0m8 0h0m8 0h0m8 0h0m8 0h0m8 0h0m8 0h0m8 0h0m-92 7h0m8 0h0m8 0h0m8 0h0m8 0h0m8 0h0m8 0h0m8 0h0m8 0h0m8 0h0m8 0h0m8 0h0m8 0h0m-92 7h0m8 0h0m8 0h0m8 0h0m8 0h0m8 0h0m8 0h0m8 0h0m8 0h0m8 0h0m8 0h0m8 0h0m-76 7h0m8 0h0m8 0h0m8 0h0m8 0h0m8 0h0m8 0h0m8 0h0m8 0h0m-68 7h0m8 0h0m8 0h0m8 0h0m8 0h0m8 0h0m8 0h0m8 0h0m8 0h0m8 0h0m-76 7h0m8 0h0m8 0h0m8 0h0m8 0h0m8 0h0m8 0h0m-52 7h0m8 0h0m8 0h0m8 0h0m8 0h0m8 0h0m8 0h0m-68 7h0m8 0h0m8 0h0m8 0h0m8 0h0m8 0h0m8 0h0m8 0h0m8 0h0m-68 7h0m8 0h0m8 0h0m8 0h0m8 0h0m8 0h0m8 0h0m24 0h0m-68 7h0m8 0h0m8 0h0m8 0h0m-20 7h0" stroke-width="15"/><defs><path id="q2" d="M508 1698.5h0m3.5 1.5h0m0.5 0h0m21.5 -2h0m4 -2h0m0.5 3.5h0m0.5 0.5h0m0 -3.5h0m1 2h0m1 -0.5h0m4.5 2.5h0m2.5 -3.5h0m2.5 3.5h0m-45.5 6h0m6.5 -3.5h0m4.5 -1h0m5.5 -1h0m3 5h0m9 1h0m5.5 -5.5h0m8.5 1h0m0 2.5h0m8 -1.5h0m-75 9.5h0m1 -1.5h0m5 -0.5h0m2.5 -1h0m3.5 -1h0m3 4h0m4.5 -2.5h0m0.5 -1.5h0m2.5 2h0m0.5 0.5h0m0 -1.5h0m10.5 -2h0m0.5 1.5h0m6 0.5h0m4.5 -3h0m23.5 2h0m5 2h0m5 -2h0m-95.5 9.5h0m1.5 -2.5h0m7 3h0m0.5 -2h0m0.5 0h0m4.5 -2h0m4.5 3.5h0m2.5 -4h0m0 3h0m1.5 0h0m1 -0.5h0m0.5 -3.5h0m3 4.5h0m61.5 -1h0m2 -1h0m3 -2.5h0m2.5 1.5h0m-99.5 9h0m7.5 -2.5h0m4.5 2h0m4 -3h0m7.5 0h0m75 0h0m2 3h0m2.5 1.5h0m5 -3h0m3 -2h0m-111 5h0m6 1h0m3.5 3.5h0m1 0.5h0m94.5 -4.5h0m1 0.5h0m1 4h0m0 1h0m1.5 -3h0m-106.5 4h0m2 4h0m1 0.5h0m10.5 0h0m94 -4h0m3.5 2.5h0m-105 6.5h0m7.5 0.5h0m5.5 -1.5h0m0.5 0.5h0m2 0.5h0m80 0.5h0m1 0.5h0m-82.5 5h0m4 -2h0m74 0.5h0m2 0h0m5.5 -0.5h0m0 0h0m2 2h0m1.5 -4h0m0 1.5h0m-84.5 10h0m0 -4h0m3 3.5h0m59 0h0m15 -2h0m2 -3h0m1.5 0.5h0m-87 10h0m0.5 -2.5h0m4.5 -1h0m57.5 2h0m1.5 -0.5h0m0 0h0m11 -3h0m4 2.5h0m0.5 -0.5h0m1 0.5h0m-91 6.5h0m6.5 0h0m2 -2h0m2.5 2.5h0m1 0.5h0m51 -0.5h0m3.5 2.5h0m7 -3.5h0m2.5 -0.5h0m6.5 2h0m4.5 -0.5h0m2.5 -3.5h0m2.5 2.5h0m-109 7h0m1.5 -1h0m3 1.5h0m2.5 0.5h0m4.5 0h0m0 0h0m1.5 -1.5h0m4 1h0m9.5 -3.5h0m48 4.5h0m2.5 -0.5h0m1 -2.5h0m3.5 -1.5h0m0.5 4.5h0m-82 2.5h0m1 0h0m5 -1.5h0m0 5.5h0m55 -2.5h0m2.5 -0.5h0m7.5 2h0m7 0.5h0m1 -1h0m1.5 -2h0m4 -1.5h0m0 1.5h0m-90 4h0m3.5 3h0m0.5 -2.5h0m3 1.5h0m36 2.5h0m6 -3h0m1.5 1h0m4.5 2h0m1.5 -2.5h0m8.5 -1h0m8 4.5h0m9.5 0.5h0m0.5 -3h0m-84.5 7.5h0m3.5 -0.5h0m5 0h0m2.5 0h0m23 -1h0m5 -1.5h0m8.5 -1h0m5 0h0m6.5 3h0m3 -3h0m1.5 0h0m2 0.5h0m8 0h0m11.5 2.5h0m1.5 1.5h0m3.5 -1.5h0m-89.5 2.5h0m1.5 2.5h0m4.5 -0.5h0m6 2.5h0m7.5 -1h0m0.5 0.5h0m4 0h0m1.5 1.5h0m8 -2h0m0.5 -0.5h0m8 0h0m0.5 -1h0m2 0h0m42 -2h0m-54.5 7h0m3 0.5h0"/></defs><use href="#q2" stroke-width="9.4" stroke-opacity=".55"/><use href="#q2" stroke-width="7.2"/></g><g fill="none" stroke="#80fffa" stroke-linecap="round"><path d="M647.5 1524.5h0m8 0h0m8 0h0m-12 7h0m8 0h0m8 0h0m-12 7h0m8 0h0m8 0h0m-12 7h0m8 0h0m8 0h0m8 0h0m8 0h0m8 0h0m-44 6.5h0m8 0h0m8 0h0m8 0h0m8 0h0m8 0h0m8 0h0m8 0h0m8 0h0m-60 7h0m8 0h0m8 0h0m8 0h0m8 0h0m8 0h0m8 0h0m8 0h0m8 0h0m8 0h0m8 0h0m8 0h0m-92 7h0m8 0h0m8 0h0m8 0h0m8 0h0m8 0h0m8 0h0m8 0h0m8 0h0m8 0h0m8 0h0m8 0h0m8 0h0m-116 7h0m8 0h0m8 0h0m8 0h0m8 0h0m8 0h0m8 0h0m8 0h0m8 0h0m8 0h0m8 0h0m8 0h0m8 0h0m8 0h0m8 0h0m8 0h0m-124 7h0m8 0h0m8 0h0m8 0h0m8 0h0m8 0h0m8 0h0m8 0h0m8 0h0m8 0h0m8 0h0m8 0h0m8 0h0m8 0h0m8 0h0m8 0h0m-124 7h0m8 0h0m8 0h0m8 0h0m8 0h0m8 0h0m8 0h0m8 0h0m8 0h0m8 0h0m8 0h0m8 0h0m8 0h0m8 0h0m8 0h0m8 0h0m8 0h0m-132 7h0m8 0h0m8 0h0m8 0h0m8 0h0m8 0h0m8 0h0m8 0h0m8 0h0m8 0h0m8 0h0m8 0h0m8 0h0m8 0h0m8 0h0m8 0h0m8 0h0m8 0h0m-148 7h0m8 0h0m8 0h0m8 0h0m8 0h0m8 0h0m8 0h0m8 0h0m8 0h0m8 0h0m8 0h0m8 0h0m8 0h0m8 0h0m8 0h0m8 0h0m8 0h0m8 0h0m8 0h0m8 0h0m-164 7h0m8 0h0m8 0h0m8 0h0m8 0h0m8 0h0m8 0h0m8 0h0m8 0h0m8 0h0m8 0h0m8 0h0m8 0h0m8 0h0m8 0h0m8 0h0m8 0h0m8 0h0m8 0h0m8 0h0m8 0h0m8 0h0m-172 7h0m8 0h0m8 0h0m8 0h0m8 0h0m8 0h0m8 0h0m8 0h0m8 0h0m8 0h0m8 0h0m8 0h0m8 0h0m8 0h0m8 0h0m8 0h0m8 0h0m8 0h0m8 0h0m8 0h0m8 0h0m8 0h0m-164 7h0m8 0h0m8 0h0m8 0h0m8 0h0m8 0h0m8 0h0m8 0h0m8 0h0m8 0h0m8 0h0m8 0h0m8 0h0m8 0h0m8 0h0m8 0h0m8 0h0m8 0h0m8 0h0m8 0h0m8 0h0m-156 7h0m8 0h0m8 0h0m8 0h0m8 0h0m8 0h0m8 0h0m8 0h0m8 0h0m8 0h0m8 0h0m8 0h0m8 0h0m8 0h0m8 0h0m8 0h0m8 0h0m8 0h0m8 0h0m8 0h0m-148 6.5h0m8 0h0m8 0h0m8 0h0m8 0h0m8 0h0m8 0h0m8 0h0m8 0h0m8 0h0m8 0h0m8 0h0m8 0h0m8 0h0m8 0h0m8 0h0m8 0h0m8 0h0m8 0h0m8 0h0m-140 7h0m8 0h0m8 0h0m8 0h0m8 0h0m8 0h0m8 0h0m8 0h0m8 0h0m8 0h0m8 0h0m8 0h0m8 0h0m8 0h0m8 0h0m8 0h0m8 0h0m-92 7h0m8 0h0m8 0h0m8 0h0m8 0h0m8 0h0m8 0h0m8 0h0m8 0h0m8 0h0" stroke-width="15"/><defs><path id="q3" d="M653 1515h0m7 0h0m-17 3h0m6.5 -1.5h0m0 -1h0m6 1.5h0m2 0h0m3 1.5h0m-19 6h0m2.5 -1.5h0m2 3.5h0m1 -1.5h0m9.5 -2.5h0m1.5 2.5h0m9 -2.5h0m4.5 -1h0m1.5 3h0m-28 7h0m0.5 -4h0m26 1h0m6 -0.5h0m-28.5 7.5h0m4.5 -1.5h0m20.5 1.5h0m1 3h0m10.5 -3.5h0m5.5 1h0m0.5 -0.5h0m1.5 -0.5h0m3 3.5h0m5 -0.5h0m-49.5 2.5h0m3 -1h0m2 3.5h0m0.5 -2h0m17.5 -2h0m8 2h0m4.5 4h0m0 -3.5h0m2.5 2h0m1 -2.5h0m0 3h0m3.5 -3h0m5.5 0.5h0m4.5 1h0m0 -3h0m4 4h0m0.5 -1h0m2 2h0m1.5 -0.5h0m0 -4h0m1.5 1h0m2.5 2.5h0m3 1h0m-64.5 2.5h0m0.5 1.5h0m53.5 -2h0m0.5 2h0m6.5 2h0m1.5 -2.5h0m1.5 0.5h0m7 1.5h0m2 -2.5h0m8.5 3h0m-8.5 3.5h0m1.5 1h0m5 1.5h0m6 -2h0m0 -1.5h0m0.5 0h0m2 -2h0m2 2h0m-102 9.5h0m1 0h0m4 -3.5h0m3 4h0m1.5 -4.5h0m4 3h0m0.5 -2.5h0m1 1h0m79 -2.5h0m1 1.5h0m0.5 -1.5h0m2 1h0m1.5 3h0m2 -2.5h0m2 -1h0m0.5 2.5h0m7.5 0.5h0m7 -1.5h0m0.5 -0.5h0m-129 9h0m1.5 -1.5h0m2 1h0m8.5 0.5h0m2 -4h0m5 1.5h0m103.5 -1.5h0m4 2h0m2.5 0h0m0 1h0m1 -1.5h0m-133 8.5h0m8 -1h0m10.5 -3h0m-23.5 8.5h0m2 -2h0m6 0.5h0m-10.5 9h0m142.5 0.5h0m-152.5 6h0m1 -2.5h0m8 -2.5h0m4 4h0m132 -2h0m10 -2h0m1 3h0m0.5 0h0m-165.5 7.5h0m0.5 -2h0m10 -1.5h0m150.5 0.5h0m4 1.5h0m0.5 1.5h0m1 -2h0m0.5 0h0m-176 4h0m10 1.5h0m3.5 -1h0m157.5 4.5h0m-174 3h0m3 -2.5h0m4 3h0m170.5 1h0m5.5 -1h0m-175.5 8h0m168.5 -5h0m4 8.5h0m3 -1h0m-179.5 4.5h0m0.5 2h0m1 -1.5h0m1.5 1h0m163.5 0h0m0.5 2h0m1 0h0m2 0h0m2.5 1.5h0m0 -1.5h0m-8 5.5h0m7 -2.5h0m0 0.5h0m0.5 -0.5h0m-170 5.5h0m0.5 0.5h0m1.5 1h0m2.5 2h0m6 -0.5h0m1 -3h0m3.5 3.5h0m2 1.5h0m143.5 -1h0m1 -0.5h0m1.5 -3.5h0m5 4h0m2 -4h0m-156.5 8.5h0m0.5 -2.5h0m1.5 2h0m0.5 0.5h0m0.5 0h0m5.5 -1h0m1.5 -1.5h0m3 3h0m2 -1h0m3 2h0m0.5 -3.5h0m2.5 4.5h0m2 -1.5h0m1 -2h0m0 3h0m1.5 -1.5h0m5.5 0.5h0m0.5 -1.5h0m91.5 1.5h0m13.5 -3h0m3 3.5h0m1 -4.5h0m8 2h0m0.5 1.5h0m3.5 -2h0m0.5 0h0m1 -1h0m-140 10h0m1.5 -4.5h0m2 5h0m25.5 0h0m0 -3h0m0.5 -1.5h0m6 0h0m2.5 1h0m0 0.5h0m6.5 0.5h0m0 0.5h0m5.5 1.5h0m6 0h0m8 0h0m16 0.5h0m1.5 -1.5h0m3 1h0m1.5 0.5h0m0 -1h0m1 0h0m5 1h0m0.5 -2h0m0 0.5h0m0.5 2h0m0.5 -3.5h0m5 0h0m16.5 2h0m4 1h0m2.5 -2.5h0m3.5 1.5h0m-117 2.5h0m11 0.5h0m0.5 -0.5h0m3.5 1.5h0m9.5 1h0m16.5 3h0m6 -1.5h0m1 -3.5h0m6 0h0m1 3.5h0m2.5 -4.5h0m0.5 0.5h0m6 0h0m2 4h0m2 -3.5h0m3 4h0m1 -1.5h0m2 0h0m3 0.5h0m1 0.5h0m0.5 0.5h0m2 -0.5h0m15.5 -4h0m5.5 1h0m9 -0.5h0m2.5 -1h0m-65 6.5h0m5 1h0m1 -0.5h0m4.5 1h0m18 -1h0m-97.5 7.5h0m3 5h0m-1.5 6h0m4 4.5h0"/></defs><use href="#q3" stroke-width="9.4" stroke-opacity=".55"/><use href="#q3" stroke-width="7.2"/></g><g fill="none" stroke="#ff80e0" stroke-linecap="round"><path d="M803 1522h0m8 0h0m-20 7h0m8 0h0m8 0h0m8 0h0m-36 7h0m8 0h0m8 0h0m8 0h0m8 0h0m-28 7h0m8 0h0m8 0h0m8 0h0m-28 7h0m8 0h0m8 0h0m-20 7h0" stroke-width="15"/><defs><path id="q4" d="M797 1514h0m6.5 -0.5h0m1 -1.5h0m-15.5 8h0m6.5 0h0m2.5 -3h0m0.5 0h0m1 0h0m2.5 1h0m1 2.5h0m3.5 0.5h0m0.5 -1.5h0m1.5 -3h0m2.5 2.5h0m5.5 0h0m0 1.5h0m-33.5 2.5h0m0.5 -0.5h0m4 2h0m4 -1.5h0m2 1h0m3.5 2h0m1 -3h0m0.5 0h0m1.5 -1.5h0m14 2h0m0.5 0h0m4.5 2.5h0m0.5 0.5h0m1 -0.5h0m-39 5.5h0m2 -4h0m1 1h0m1 1h0m31.5 -0.5h0m1.5 -1.5h0m2 3h0m0.5 0.5h0m0 1.5h0m1.5 -2.5h0m0 2.5h0m-53.5 6h0m5 -2h0m2 -2.5h0m1.5 4h0m0 -0.5h0m3 -3h0m2.5 3h0m36 -3.5h0m-48 6.5h0m3.5 4.5h0m27.5 -0.5h0m10.5 -4h0m3.5 3.5h0m1 0.5h0m4 -3h0m-37 8.5h0m8 0.5h0m3 -2h0m3 -1.5h0m3 3.5h0m2 0h0m0 -4h0m4 -0.5h0m3.5 2.5h0m0 -1h0m3.5 3h0m4 -3h0m-51.5 7h0m3 1.5h0m3 -3h0m1.5 -0.5h0m4 1h0m3.5 -0.5h0m4 1.5h0m6 -2h0m2 3.5h0m9.5 -3.5h0m-33 4.5h0m9.5 0h0m-4 8h0"/></defs><use href="#q4" stroke-width="9.4" stroke-opacity=".55"/><use href="#q4" stroke-width="7.2"/></g><g fill="none" stroke="#ffdc80" stroke-linecap="round"><path d="M715.5 1671h0m8 0h0m8 0h0m-52 7h0m8 0h0m8 0h0m8 0h0m8 0h0m8 0h0m8 0h0m8 0h0m-52 7h0m8 0h0m8 0h0m8 0h0m8 0h0m8 0h0m8 0h0m-52 7h0m8 0h0m8 0h0m8 0h0m8 0h0m8 0h0m8 0h0m8 0h0m-52 7h0m8 0h0m8 0h0m8 0h0m8 0h0m8 0h0m8 0h0m8 0h0m-60 7h0m8 0h0m8 0h0m8 0h0m8 0h0m8 0h0m8 0h0m8 0h0m8 0h0m-76 7h0m8 0h0m8 0h0m8 0h0m8 0h0m8 0h0m8 0h0m8 0h0m8 0h0m8 0h0m-68 7h0m8 0h0m8 0h0m8 0h0m8 0h0m8 0h0m8 0h0m8 0h0m8 0h0m-60 6.5h0m8 0h0m8 0h0m8 0h0m8 0h0m8 0h0m8 0h0m8 0h0m-52 7h0m8 0h0m8 0h0m8 0h0m8 0h0m8 0h0m8 0h0m8 0h0m-44 7h0m8 0h0m8 0h0m8 0h0m8 0h0m8 0h0m8 0h0m-44 7h0m8 0h0m8 0h0m8 0h0m8 0h0m8 0h0m8 0h0m-36 7h0m8 0h0m8 0h0m8 0h0m8 0h0m-20 7h0m8 0h0m8 0h0" stroke-width="15"/><defs><path id="q5" d="M718.5 1662.5h0m2 0h0m12 2h0m-54 6h0m9 -2.5h0m2.5 3h0m4.5 -3.5h0m0 0.5h0m1.5 0h0m8 2h0m16 -2h0m4 2h0m0 -2.5h0m2 -1h0m0.5 4h0m0.5 0.5h0m1.5 -5.5h0m3.5 2h0m1 -1.5h0m3 0.5h0m-64 9.5h0m5 -1.5h0m4.5 -2h0m1 1h0m3 1.5h0m2 1h0m1 -1h0m2.5 0.5h0m5 0.5h0m3.5 -1h0m2 -0.5h0m3.5 1.5h0m2 -4h0m8.5 1h0m5.5 -1.5h0m9.5 2h0m9 3h0m1.5 0h0m-71.5 5.5h0m2.5 -1h0m12.5 -2h0m50 3.5h0m0.5 -2h0m2 -1h0m1.5 0.5h0m-4.5 8h0m3.5 -0.5h0m1.5 -4h0m-62.5 6.5h0m57.5 2h0m2.5 0.5h0m8.5 1h0m-75.5 5h0m1 -1h0m2.5 -2h0m4 -0.5h0m0.5 1h0m66 -1h0m-80.5 12h0m4 -1.5h0m0 0.5h0m1.5 -1.5h0m5 -0.5h0m70.5 -2.5h0m0.5 3.5h0m7 1h0m-94 3.5h0m0.5 1h0m0.5 -2h0m0.5 -0.5h0m7.5 -1h0m4 4.5h0m77 -1h0m-87 6h0m4.5 -1.5h0m1 2.5h0m0.5 -3.5h0m0 -0.5h0m71.5 3.5h0m9.5 -0.5h0m1 -2.5h0m-87 6h0m5 1h0m7.5 3h0m63 -2.5h0m1 -1h0m4 3.5h0m1.5 -4.5h0m0.5 4h0m1.5 -3.5h0m-78 6.5h0m3 2.5h0m3 -1.5h0m0 2.5h0m2.5 -1h0m0 1h0m61 -4.5h0m1 0h0m0.5 1h0m4 -0.5h0m0 0.5h0m1 1.5h0m0.5 -1h0m-76.5 10h0m1 -2h0m1 1h0m0 -4.5h0m1.5 2.5h0m0.5 -1h0m4 0.5h0m1.5 -0.5h0m5 1.5h0m56.5 -1h0m2.5 -1.5h0m6 0.5h0m-79 6.5h0m1 -0.5h0m0 0.5h0m3.5 1.5h0m4.5 -1h0m7 3h0m0.5 -2h0m1.5 1h0m0.5 -2h0m1.5 0.5h0m52.5 -3h0m5.5 4h0m1.5 -3h0m4.5 1.5h0m-69 4h0m1.5 -0.5h0m1 0.5h0m1 1.5h0m57 -1h0m4 -1h0m0.5 6h0m1 -0.5h0m3.5 -5h0m-66 8h0m2.5 1.5h0m2.5 -3h0m5 3h0m13 1.5h0m35 -4.5h0m0.5 2.5h0m0.5 2h0m0.5 0h0m-56.5 1h0m8 0h0m3.5 4.5h0m17.5 -1.5h0m2 2h0m1.5 -0.5h0m5 -0.5h0m3.5 1h0m3.5 0h0m3 0h0m10.5 -1h0m1 -4h0m-38.5 8h0m12 0.5h0m5.5 -1.5h0m12.5 4h0m0 -5.5h0m1.5 0.5h0m1.5 1.5h0m1.5 1.5h0m0 -2.5h0m-9 7.5h0m10.5 -1.5h0"/></defs><use href="#q5" stroke-width="9.4" stroke-opacity=".55"/><use href="#q5" stroke-width="7.2"/></g><g fill="none" stroke="#80ff9e" stroke-linecap="round"><path d="M820 1788.5h0m24 0h0m-28 7h0m8 0h0m8 0h0m8 0h0m8 0h0m8 0h0m-36 7h0m8 0h0m8 0h0m8 0h0m8 0h0m-28 7h0m8 0h0m8 0h0m8 0h0m8 0h0m-20 6.5h0m8 0h0" stroke-width="15"/><defs><path id="q6" d="M813 1782h0m7 1h0m1 -1h0m10 2.5h0m16 -1h0m4 0h0m-42.5 3h0m4.5 3h0m0.5 -4h0m1 -0.5h0m0.5 4h0m1.5 -3h0m1 2.5h0m5 -2.5h0m2.5 4h0m0.5 0h0m4 -2.5h0m11 2.5h0m6 -4h0m0 3h0m1.5 -0.5h0m0.5 -1.5h0m10.5 0.5h0m1.5 1h0m-53 4.5h0m1 3h0m1.5 -2h0m6 0.5h0m12.5 -2h0m1.5 0h0m4.5 1h0m18 -0.5h0m2 -1.5h0m2 1.5h0m1 -0.5h0m1 4h0m1.5 -3h0m0.5 2.5h0m1.5 -4.5h0m3 1.5h0m0.5 1h0m-54 4.5h0m0.5 0.5h0m1 -2h0m0.5 4.5h0m1.5 0h0m0.5 -2h0m2 0h0m39 -2h0m0 2h0m1.5 -0.5h0m-48.5 5h0m0 3.5h0m3 -2h0m49.5 0.5h0m-46.5 6h0m0 -1.5h0m6.5 1h0m3 0h0m2.5 0h0m0.5 -1.5h0m19.5 4h0m2 -1h0m7.5 -2h0m3 3h0m1.5 -1h0m-34.5 5h0m4 0.5h0m1 -1.5h0m2.5 -1.5h0m2 -0.5h0m2 2.5h0m5 -2h0m1.5 0h0m1.5 2.5h0m1 -1h0m5 -2h0m0.5 0h0m4 2h0m-24.5 5h0m1 0.5h0m0 -1h0m10 2h0m1 0.5h0"/></defs><use href="#q6" stroke-width="9.4" stroke-opacity=".55"/><use href="#q6" stroke-width="7.2"/></g><g fill="none" stroke="#b880ff" stroke-linecap="round"><path d="M773 1657h0m4 7h0m-4 7h0m8 0h0m-12 7h0m8 0h0m8 0h0m-12 7h0m8 0h0m8 0h0m-12 7h0m8 0h0m8 0h0m-12 6.5h0m8 0h0" stroke-width="15"/><defs><path id="q7" d="M767.5 1647h0m1 1.5h0m0.5 2h0m1 -1.5h0m1 3.5h0m2.5 -1h0m-6.5 3h0m0.5 3.5h0m3 0h0m2.5 -2.5h0m1 0h0m1.5 0h0m1.5 0h0m2.5 1.5h0m1 1.5h0m3 -1h0m1.5 0.5h0m-21 4.5h0m2 2h0m5.5 -1.5h0m0 0h0m0.5 -3h0m2 3.5h0m5 -1.5h0m2.5 2.5h0m2 0.5h0m2 -3.5h0m0.5 -2.5h0m1 4h0m2 2h0m-17.5 4.5h0m10 -3h0m4 1.5h0m-20 6.5h0m1 1h0m2 -2.5h0m1.5 2h0m17 -2h0m4.5 1.5h0m-30 4.5h0m4 3h0m1.5 -3h0m0.5 0.5h0m4 -2h0m15 3.5h0m4.5 1.5h0m2 -2.5h0m4 2h0m1.5 -0.5h0m2 0h0m-33.5 5h0m2 -1h0m2 3.5h0m0 -4h0m1.5 -1h0m3 0h0m0.5 0.5h0m1 3h0m25 0h0m-36 2.5h0m6.5 2h0m2.5 2.5h0m3 -4.5h0m13 2.5h0m7.5 0.5h0m0.5 -2h0m1.5 2h0m2 -0.5h0m-29.5 5.5h0m7 0h0m6.5 0h0m0 1h0m9.5 1h0m2.5 -3.5h0m-23.5 7.5h0m3 -3h0m2 0.5h0m2.5 0.5h0m0 2.5h0m2.5 0h0m1.5 1h0m1 1h0m1 -3.5h0m0 2h0"/></defs><use href="#q7" stroke-width="9.4" stroke-opacity=".55"/><use href="#q7" stroke-width="7.2"/></g><g fill="none" stroke="#ff8080" stroke-linecap="round"><path d="M768 1713.5h0m4 7h0m8 0h0m-4 6.5h0m-4 7h0m8 0h0m-4 7h0m8 0h0m-12 7h0m8 0h0m-12 7h0m8 0h0m8 0h0m-20 7h0m8 0h0m8 0h0m8 0h0m8 0h0m-36 7h0m8 0h0m8 0h0m8 0h0m8 0h0m8 0h0m-44 7h0m8 0h0m8 0h0m8 0h0m8 0h0m8 0h0m-36 7h0m8 0h0m8 0h0m8 0h0m8 0h0m-28 7h0m8 0h0m8 0h0m8 0h0m8 0h0m-28 7h0m8 0h0m8 0h0m8 0h0" stroke-width="15"/><defs><path id="q8" d="M760.5 1710h0m3 -1h0m2.5 2h0m1 0.5h0m0 -1h0m2 2h0m2 -4.5h0m0.5 -0.5h0m-7.5 8.5h0m5 -0.5h0m4 -0.5h0m4.5 2.5h0m9.5 -2.5h0m-22 6.5h0m2 3.5h0m2.5 -3h0m2.5 3h0m13 -2.5h0m4.5 -3h0m-27 7h0m3.5 0.5h0m2.5 1h0m11.5 0h0m1.5 0.5h0m0.5 0h0m1 0h0m3 -2.5h0m-21 5h0m0 2h0m21.5 -2h0m2.5 4h0m-19.5 3h0m3.5 -0.5h0m9 2h0m0.5 -0.5h0m1 3h0m2.5 -5h0m4 3h0m-25.5 7h0m1 -1.5h0m1.5 1.5h0m0 0.5h0m1 -3.5h0m6 2h0m10 0h0m1 2h0m2.5 -1.5h0m4 -1h0m-29 9h0m1 -4.5h0m2.5 1h0m0 3.5h0m0.5 -4.5h0m1.5 3.5h0m1 0.5h0m1 -3h0m15 1.5h0m4 2h0m2 -1h0m2 -1h0m5.5 1.5h0m-42.5 6h0m0.5 -3h0m2 2h0m0.5 -2.5h0m3 4h0m25 -4.5h0m5.5 -0.5h0m2.5 2h0m6.5 -1h0m-45.5 5h0m39 3.5h0m0.5 -3.5h0m1 4.5h0m1 -2.5h0m1 2h0m4.5 -2.5h0m1 2h0m-59 7.5h0m11.5 -3h0m0.5 1.5h0m2 -3h0m38 3.5h0m4.5 1h0m0.5 -1h0m1 -2.5h0m3.5 0h0m-63.5 8.5h0m3.5 -4h0m1.5 0h0m1.5 3.5h0m2 -1h0m1 1h0m2.5 -2.5h0m46 1h0m1.5 2.5h0m1 -0.5h0m1 1.5h0m0.5 -1h0m-64.5 6h0m3.5 -1.5h0m1 0h0m0 0.5h0m4 1h0m2.5 0.5h0m1 -1.5h0m3 -1.5h0m2 3h0m37.5 -4.5h0m1.5 3h0m5.5 -1h0m-62 3.5h0m8.5 2h0m8.5 3h0m3 -0.5h0m38.5 -2.5h0m-37.5 3.5h0m2 5h0m8 -0.5h0m11.5 -0.5h0m10.5 -1.5h0m3 0h0m1 -2.5h0m4.5 3.5h0m-31 2.5h0m2 6h0m3.5 -5.5h0m11 1h0m2 3.5h0m1 -2h0m0.5 -2.5h0m0.5 -0.5h0m2.5 5h0m1.5 1h0m1.5 -3h0m-18.5 5.5h0m3.5 -2h0m1 1.5h0m2.5 1h0m0.5 -3h0"/></defs><use href="#q8" stroke-width="9.4" stroke-opacity=".55"/><use href="#q8" stroke-width="7.2"/></g></g>
<g><g fill="none" stroke="#80ffb3" stroke-linecap="round"><path d="M1159.5 1640h0m-3 5h0m5.5 0h0m5.5 0h0m-8 4.5h0m5.5 0h0m5.5 0h0m-14 5h0m5.5 0h0m5.5 0h0m6 0h0m11 0h0m5.5 0h0m5.5 0h0m-39 10h0m8.5 -5h0m2.5 5h0m3 -5h0m3 5h0m5.5 0h0m2.5 -5h0m3 5h0m5.5 0h0m3 -5h0m2.5 5h0m3 -5h0m3 5h0m5.5 0h0m-47.5 4.5h0m5.5 0h0m5.5 0h0m5.5 0h0m5.5 0h0m6 0h0m5.5 0h0m5.5 0h0m11 0h0m-47.5 5h0m5.5 0h0m6 0h0m5.5 0h0m16.5 0h0m6 0h0m5.5 0h0m-36.5 5h0m5.5 0h0m5.5 0h0m11.5 0h0m5.5 0h0m5.5 0h0m5.5 0h0m-42 5h0m3 4.5h0m3 -4.5h0m5.5 0h0m2.5 4.5h0m3 -4.5h0m3 4.5h0m8 -4.5h0m3 4.5h0m3 -4.5h0m2.5 4.5h0m3 -4.5h0m2.5 4.5h0m-25 5h0m5.5 0h0m11.5 0h0m5.5 0h0m-31 5h0m5.5 0h0m6 0h0m5.5 0h0m5.5 0h0m5.5 0h0m5.5 0h0m-25 5h0m5.5 0h0m5.5 0h0m6 0h0m5.5 0h0m-19.5 4.5h0m11 0h0m5.5 0h0m5.5 0h0m-14 5h0m3 5h0m3 -5h0m2.5 5h0m3 -5h0m2.5 5h0m-2.5 5h0" stroke-width="8.6"/><defs><path id="q9" d="M1155 1628.5h0m1 -1.5h0m-1.5 6h0m4 -1h0m4.5 3h0m-6.5 6h0m1.5 -5.5h0m1 2.5h0m1.5 -0.5h0m0 -2.5h0m1 0.5h0m1 5h0m0.5 -2h0m2 1.5h0m1.5 0h0m-15.5 1.5h0m0 2.5h0m0.5 2h0m1.5 -1.5h0m0 -1h0m0 0.5h0m1 -1.5h0m1 0.5h0m2 3.5h0m3.5 -2.5h0m1 0h0m0 0.5h0m3 -0.5h0m0.5 0h0m0 -3h0m2.5 1h0m1 4h0m0 -4.5h0m2 0h0m1 1.5h0m1 3h0m3 -4h0m1 4h0m1.5 -0.5h0m1.5 1h0m0 0.5h0m0 0h0m0 -2h0m2.5 -1h0m2 1.5h0m4.5 0.5h0m-38 2h0m1 2h0m0 2.5h0m1 -3h0m0.5 -2h0m3.5 2.5h0m5 -0.5h0m0.5 -2h0m1 1.5h0m0.5 -2h0m4.5 4h0m0 -2.5h0m1 4h0m0.5 0.5h0m0.5 -3.5h0m0.5 1h0m1 2.5h0m0 -2.5h0m1 -2.5h0m0 2.5h0m2 -3h0m0.5 3h0m1.5 -3.5h0m0.5 3h0m3.5 2.5h0m2.5 -5h0m1 3.5h0m0 0.5h0m0.5 -3.5h0m3 2h0m0.5 -1h0m0.5 0.5h0m0 3h0m1.5 -4.5h0m0.5 1.5h0m1 0h0m1.5 -1h0m2 0.5h0m3 3h0m0.5 -0.5h0m-47.5 6.5h0m0.5 0h0m0.5 -3.5h0m2.5 2h0m2 2h0m3 0h0m1 -0.5h0m0 -1.5h0m2 1.5h0m0.5 -4.5h0m1 0.5h0m1 1h0m1 4h0m2 -1.5h0m0.5 -0.5h0m0.5 -2h0m0.5 -0.5h0m0 3h0m1 -4h0m0.5 2.5h0m0.5 -2.5h0m1 4h0m3 0h0m1 0.5h0m0.5 -1h0m0 -3h0m0.5 4h0m0.5 0.5h0m3.5 0.5h0m3 0h0m0.5 -4h0m3 3.5h0m0 -1.5h0m0.5 0.5h0m0.5 -3.5h0m0.5 1.5h0m0 3.5h0m2.5 -1.5h0m0.5 -1h0m3.5 -1h0m2 -0.5h0m0 2.5h0m0 0h0m0 0.5h0m0.5 -4.5h0m1 1.5h0m0.5 -0.5h0m0.5 0.5h0m1 2.5h0m4 -0.5h0m-53 2.5h0m0.5 1h0m1 3.5h0m1.5 0h0m1 -0.5h0m0.5 -4h0m0 3h0m0.5 1.5h0m0.5 -2h0m2 -2.5h0m1.5 1h0m3.5 2h0m0 -0.5h0m8.5 -3h0m2 3h0m0 0h0m1 -0.5h0m1 -0.5h0m0 -0.5h0m0 1.5h0m0.5 2h0m2.5 -2h0m0 -0.5h0m0.5 -2h0m5.5 1.5h0m0.5 1h0m1 0h0m1 2.5h0m0 -0.5h0m2.5 0.5h0m0.5 0h0m0 -2h0m0.5 0.5h0m1 -2h0m3.5 0h0m1.5 1.5h0m1.5 1.5h0m0 -2h0m4 -3h0m1.5 0.5h0m2 4.5h0m0.5 -3h0m2 3h0m3.5 1h0m1 -1.5h0m-62.5 5h0m3.5 1.5h0m2 -0.5h0m0.5 -0.5h0m0.5 1.5h0m1.5 -3.5h0m1 -0.5h0m1.5 -1h0m0.5 3.5h0m2.5 -2h0m0.5 2h0m0 0.5h0m1 -3h0m0.5 4h0m4 -2.5h0m0.5 -1h0m0 -0.5h0m0.5 0h0m1 1.5h0m1 -2.5h0m0 4.5h0m0.5 -2.5h0m1 -0.5h0m0.5 2h0m0 -0.5h0m1 -1h0m0 -2.5h0m1 4h0m1 2h0m1.5 -3.5h0m0.5 -2.5h0m0.5 5.5h0m2 -3.5h0m4 -0.5h0m0.5 0.5h0m0.5 1h0m1.5 3h0m2.5 -3h0m1 -1h0m1.5 -1h0m1 2h0m0.5 3h0m2 -1h0m1 -1h0m0.5 -3h0m0.5 -0.5h0m0.5 3.5h0m1.5 1h0m1 -2h0m0.5 0.5h0m1.5 -2.5h0m0.5 0h0m1 4.5h0m1.5 -2.5h0m0.5 -0.5h0m0 1.5h0m1 -1.5h0m2 3.5h0m0.5 -2.5h0m1.5 -1h0m0.5 1.5h0m0.5 1h0m2 -4h0m5 3h0m0 1.5h0m0.5 -2h0m-67.5 3.5h0m1 0h0m5 2.5h0m1 2.5h0m1 -0.5h0m0 -5.5h0m1 0.5h0m1 5h0m0 -2.5h0m0.5 3h0m2 -4.5h0m2.5 1.5h0m1 -1h0m0.5 -1.5h0m4 2h0m0.5 2h0m0 -4h0m0.5 4h0m0 -2h0m0 -2h0m0.5 2h0m3.5 0h0m1 3h0m0.5 0h0m1 -2h0m1.5 2.5h0m1.5 0h0m1 -5h0m3 3h0m0 -1h0m0.5 0.5h0m1 2.5h0m0 -0.5h0m0 -3.5h0m1 2.5h0m0.5 1h0m0.5 -1h0m2.5 -2.5h0m2.5 -0.5h0m0 3.5h0m1 0.5h0m3.5 0h0m3 -4.5h0m1.5 1.5h0m0.5 1h0m1 2h0m0.5 -0.5h0m0.5 -2.5h0m0 0.5h0m1.5 -2.5h0m1.5 4h0m0.5 -4h0m3.5 5h0m0.5 -0.5h0m0 -4.5h0m2 3h0m0 -3.5h0m7 1.5h0m0 4h0m1.5 -2h0m1 -2.5h0m0.5 5h0m4 -3.5h0m0 -1h0m-76 9.5h0m1.5 1h0m2 -1.5h0m0.5 -3.5h0m0 3.5h0m2 -4h0m0.5 1h0m1 4h0m1 -4h0m0.5 0h0m1 0.5h0m4.5 0h0m0.5 2.5h0m2.5 -1.5h0m1 -2h0m4.5 3.5h0m0 1.5h0m2.5 -5.5h0m0.5 2h0m2 -1.5h0m1.5 2.5h0m0 0.5h0m0.5 1.5h0m1 -4.5h0m0.5 4.5h0m0.5 -2h0m1.5 -1h0m1 2h0m0 -1.5h0m0.5 -2.5h0m0.5 3.5h0m2 1.5h0m1 -3.5h0m0 -1h0m1.5 0h0m2.5 3h0m0 -3h0m0.5 0h0m1 2.5h0m4 2h0m1 -1.5h0m2.5 -3.5h0m0 1h0m1 1.5h0m2 0.5h0m8 2h0m0.5 -2h0m1 -2.5h0m1.5 -0.5h0m4.5 1.5h0m0 1.5h0m1 1h0m1 -2.5h0m3 3h0m1.5 -0.5h0m1 -3h0m5 1.5h0m2 1.5h0m2 -1h0m3.5 -1.5h0m1 1.5h0m2.5 2.5h0m7 -1h0m-97 4.5h0m2 -3h0m0.5 3.5h0m1 0h0m1.5 0h0m1.5 0.5h0m0.5 -2.5h0m0.5 3.5h0m4 -2h0m5.5 0.5h0m0.5 1.5h0m1.5 -4.5h0m2 -1h0m1 2h0m0 1.5h0m1.5 0h0m0.5 -2.5h0m4.5 5h0m0 -4h0m0.5 0.5h0m1 3.5h0m4.5 -5h0m0.5 2h0m0 2.5h0m0.5 -0.5h0m0.5 0.5h0m0 -4h0m1 0.5h0m0 -0.5h0m0.5 4h0m0.5 -2.5h0m5 1h0m1 1h0m1 -0.5h0m0.5 1.5h0m0 -4h0m2.5 0.5h0m0.5 0h0m3 1.5h0m0.5 -2h0m1 3h0m1 -2.5h0m5.5 1h0m0.5 2h0m2 -2.5h0m1.5 2.5h0m1 -4.5h0m3.5 0h0m4 1.5h0m0.5 1.5h0m0 1.5h0m1 -5.5h0m3.5 5.5h0m7 -2h0m4.5 -0.5h0m3.5 -2h0m1 1.5h0m3.5 1h0m3.5 0.5h0m5 2h0m-104 2.5h0m1.5 0.5h0m0 0.5h0m4.5 -3.5h0m0 0h0m4.5 0.5h0m3 5h0m0 0h0m0 -3h0m1 0h0m0.5 -2h0m0.5 3.5h0m1.5 -3h0m0.5 0h0m2.5 2h0m1 0.5h0m0.5 -2.5h0m0.5 -1h0m0.5 2.5h0m0.5 -2h0m0.5 3h0m0 -0.5h0m1.5 2.5h0m0.5 -2.5h0m1.5 2h0m0.5 -3h0m0.5 4h0m3.5 -4h0m0.5 3h0m0.5 -1.5h0m0 -3h0m0 3.5h0m2 1.5h0m0.5 -1.5h0m0.5 -1h0m2 -1h0m3 -1h0m1.5 -0.5h0m0 0h0m2 4.5h0m0 -3h0m0.5 4h0m0 -3h0m0.5 3h0m1 -5.5h0m0.5 0h0m0.5 0h0m1.5 0h0m0 -0.5h0m2 3.5h0m1 -0.5h0m1.5 -1.5h0m1 3h0m2.5 -3.5h0m1 3.5h0m1 -1.5h0m2 -1h0m0 -1h0m4.5 1.5h0m4 -0.5h0m8 3.5h0m3.5 0.5h0m7 -5.5h0m4.5 3h0m5 -2.5h0m1.5 4h0m5 -4.5h0m2.5 5h0m0.5 -4h0m2 2h0m-103.5 3h0m1 0h0m1 4h0m2 -3.5h0m4 -0.5h0m1 2h0m1 -2h0m0 3.5h0m1 -3h0m3 4h0m0.5 -4.5h0m2 4.5h0m2.5 -4h0m0 3h0m1.5 -3h0m0.5 4.5h0m2.5 -5h0m0 0h0m1.5 0.5h0m1.5 -0.5h0m0 3.5h0m2 1.5h0m5 -4h0m0.5 2.5h0m0 -3h0m2.5 2.5h0m2 0.5h0m0 0.5h0m1.5 1h0m0 -2h0m0.5 -2h0m1 0h0m0.5 3.5h0m7 0h0m3.5 -0.5h0m0.5 -4.5h0m5 3h0m5.5 -0.5h0m8.5 0.5h0m0.5 2.5h0m13.5 0.5h0m3 -3h0m3 -2h0m1.5 3h0m4.5 -1h0m1.5 1h0m3.5 -2.5h0m1.5 3.5h0m-97.5 2.5h0m1.5 -1h0m0 0h0m3 0h0m3 4.5h0m1 -3.5h0m1 -1h0m3 4h0m2 1.5h0m0.5 -6h0m1.5 4.5h0m0.5 1h0m4 -4h0m0.5 4.5h0m0 -3.5h0m6 1h0m5.5 2h0m2 -5h0m3 1h0m0 3.5h0m3 1h0m4 -3.5h0m7 3.5h0m1 -4.5h0m4.5 3h0m4 -0.5h0m6.5 2h0m0 -2h0m4 -2.5h0m0 0.5h0m4.5 1.5h0m1 1h0m5 0h0m5 -3h0m2.5 0.5h0m0.5 -1h0m1 1.5h0m0.5 -2.5h0m1.5 3.5h0m0 2.5h0m1 -4.5h0m1 3h0m1.5 -3h0m0.5 2.5h0m0.5 1h0m2.5 -4h0m-94 9h0m0.5 -1h0m1.5 -1h0m2 1.5h0m1.5 -3h0m3 1.5h0m4.5 3.5h0m4.5 -5h0m1.5 3.5h0m1 -1.5h0m0 2.5h0m0.5 -5h0m0.5 1.5h0m3.5 0.5h0m0 -0.5h0m0.5 1h0m1 1.5h0m1 -2.5h0m1.5 2.5h0m1.5 -4h0m0 0.5h0m0.5 -0.5h0m0.5 4h0m1 0h0m0 -2.5h0m2.5 2h0m0.5 -2h0m3 1.5h0m2 1h0m0 -3.5h0m8 5.5h0m0.5 -1h0m1.5 -1h0m0.5 1.5h0m0.5 -4h0m2 1.5h0m4.5 1h0m1.5 0.5h0m2.5 -1h0m6.5 -2.5h0m10.5 4h0m4.5 0h0m1 -2.5h0m1.5 -2h0m3 4h0m2.5 -4h0m1 3h0m0.5 -2h0m0.5 4h0m0.5 -5h0m-89.5 5.5h0m5 1.5h0m2 -1.5h0m2 4.5h0m0 1h0m0.5 -2.5h0m1.5 -2h0m1.5 0.5h0m1 0.5h0m3 -2h0m0.5 5.5h0m1.5 -1h0m0.5 -0.5h0m1 -1h0m3 1h0m0 1h0m3 -0.5h0m5.5 -3.5h0m1.5 -1h0m1 1h0m0.5 3h0m0.5 -2h0m2 2.5h0m0 0h0m1.5 -0.5h0m0.5 1.5h0m2.5 -3h0m6 1.5h0m1.5 -4h0m6 1h0m5.5 1.5h0m3.5 1.5h0m2.5 -3h0m1.5 0.5h0m0.5 1.5h0m2.5 1.5h0m4 -2.5h0m3 1h0m1 0h0m2.5 2h0m2.5 -2.5h0m3 -2.5h0m-76 8.5h0m2.5 0.5h0m4.5 -1.5h0m3.5 1.5h0m0.5 1.5h0m0.5 0h0m1.5 -3h0m2 -1h0m0.5 0h0m1.5 -0.5h0m3 3.5h0m0 2h0m0.5 -4.5h0m0 -1h0m2.5 0.5h0m0.5 -0.5h0m0.5 0.5h0m2 1.5h0m0 -1.5h0m1.5 4h0m2 -4.5h0m6 4.5h0m12.5 -2.5h0m1.5 2h0m5.5 -1.5h0m4.5 -2h0m0 1h0m1 2.5h0m11 -1.5h0m2.5 -1h0m0 1.5h0m1 -2.5h0m-68.5 6h0m3.5 1.5h0m1 1.5h0m1.5 1h0m0.5 -4h0m5 4.5h0m0.5 -1h0m4 -3.5h0m0.5 3.5h0m6.5 -0.5h0m1.5 0.5h0m0.5 0.5h0m3.5 -1h0m13.5 0.5h0m2 1h0m1 -0.5h0m0.5 -4h0m3 2.5h0m2 1.5h0m1 1.5h0m6 -4.5h0m4.5 -0.5h0m1 1.5h0m1 -1.5h0m2.5 0h0m-56.5 5h0m4 2h0m0 0.5h0m1 -0.5h0m2 -2h0m3.5 3h0m0.5 -1.5h0m2 3.5h0m0 0.5h0m1 0h0m0.5 -0.5h0m1.5 -3.5h0m2 2h0m6.5 0.5h0m1.5 -1.5h0m3.5 -0.5h0m2 2h0m3.5 -1.5h0m0 -1h0m0 1.5h0m9 -1.5h0m2 0.5h0m3 -2h0m5 0.5h0m-42.5 6h0m4 0h0m0.5 0.5h0m4 1h0m1.5 2h0m8 1h0m2.5 -1h0m1.5 1.5h0m7 -5h0m13.5 0h0m-24 9.5h0m4 -4h0m1.5 5.5h0m0.5 -3h0m1 -2.5h0m2 3h0m0.5 -3h0m1.5 6h0m4 -2.5h0m-11 3h0m3 -0.5h0"/></defs><use href="#q9" stroke-width="6" stroke-opacity=".5"/><use href="#q9" stroke-width="4.4"/></g><g fill="none" stroke="#80aaff" stroke-linecap="round"><path d="M1265.5 1508.5h0m5.5 0h0m3 -5h0m5.5 0h0m3 5h0m5.5 0h0m3 -5h0m2.5 5h0m3 -5h0m2.5 5h0m-36 5h0m5.5 0h0m5.5 0h0m5.5 0h0m11.5 0h0m5.5 0h0m-36.5 4.5h0m5.5 0h0m5.5 0h0m11.5 0h0m5.5 0h0m5.5 0h0m5.5 0h0m6 0h0m-42 5h0m5.5 0h0m5.5 0h0m5.5 0h0m5.5 0h0m6 0h0m11 0h0m-42 5h0m3 5h0m2.5 -5h0m5.5 0h0m3 5h0m5.5 0h0m3 -5h0m8.5 5h0m2.5 -5h0m3 5h0m2.5 -5h0m3 5h0m3 -5h0m2.5 5h0m-47.5 4.5h0m5.5 0h0m5.5 0h0m6 0h0m11 0h0m5.5 0h0m5.5 0h0m6 0h0m5.5 0h0m-81.5 5h0m6 0h0m5.5 0h0m5.5 0h0m11 0h0m6 0h0m5.5 0h0m5.5 0h0m11 0h0m6 0h0m5.5 0h0m5.5 0h0m5.5 0h0m11.5 0h0m-98 5h0m5.5 0h0m5.5 0h0m5.5 0h0m11.5 0h0m5.5 0h0m5.5 0h0m5.5 0h0m11.5 0h0m5.5 0h0m5.5 0h0m5.5 0h0m5.5 0h0m6 0h0m5.5 0h0m5.5 0h0m5.5 0h0m-103.5 4.5h0m5.5 0h0m11.5 0h0m5.5 0h0m5.5 0h0m17 0h0m11 0h0m5.5 0h0m11.5 0h0m11 0h0m5.5 0h0m5.5 0h0m11.5 0h0m5.5 0h0m5.5 0h0m-109 5h0m5.5 0h0m5.5 0h0m17 0h0m2.5 5h0m3 -5h0m3 5h0m2.5 -5h0m3 5h0m2.5 -5h0m6 0h0m2.5 5h0m3 -5h0m2.5 5h0m3 -5h0m3 5h0m2.5 -5h0m3 5h0m2.5 -5h0m6 0h0m2.5 5h0m5.5 0h0m3 -5h0m5.5 0h0m5.5 0h0m-67 10h0m5.5 0h0m11.5 0h0m5.5 0h0m5.5 0h0m5.5 0h0m5.5 0h0m6 0h0m5.5 0h0m5.5 0h0m-53 4.5h0m5.5 0h0m5.5 0h0m5.5 0h0m5.5 0h0m17 0h0m5.5 0h0m5.5 0h0m-47.5 5h0m5.5 0h0m6 0h0m5.5 0h0m5.5 0h0m5.5 0h0m5.5 0h0m-25 5h0m5.5 0h0m5.5 0h0m6 0h0m5.5 0h0m5.5 0h0" stroke-width="8.6"/><defs><path id="q10" d="M1281 1496.5h0m4 -0.5h0m5 0.5h0m1 0.5h0m-26 4.5h0m5 -0.5h0m1 0h0m4 -0.5h0m3 0h0m1.5 -3.5h0m0.5 3h0m3.5 -1h0m0.5 0.5h0m2 -1.5h0m3 2h0m3.5 0.5h0m1.5 -0.5h0m3 2h0m1 -4.5h0m0.5 0.5h0m-41 10.5h0m3 -0.5h0m0.5 -4h0m3.5 5h0m1 -5.5h0m1 2.5h0m0 -2.5h0m1.5 3h0m1.5 -1h0m0.5 -0.5h0m1.5 -0.5h0m1 1h0m3 2.5h0m0.5 -2h0m1.5 2.5h0m1 -2h0m1 -2.5h0m1 2.5h0m2 -1h0m1.5 3h0m3.5 0.5h0m1 -1.5h0m2 -2h0m0 1.5h0m0.5 0h0m1 1.5h0m0 0.5h0m4.5 -2.5h0m0 -0.5h0m1.5 -2.5h0m2 -0.5h0m2 0.5h0m2.5 2.5h0m0 -1h0m0 3.5h0m1 -2.5h0m0 2.5h0m-48 6.5h0m2.5 -3h0m2 -3h0m0 5h0m2 -3.5h0m2 4h0m1 -4.5h0m1.5 -0.5h0m0 3.5h0m2 -3.5h0m0.5 1h0m0.5 4.5h0m1.5 -3.5h0m0 1h0m13 1.5h0m1 -2h0m4 -1.5h0m1.5 3h0m1 -2h0m1.5 0h0m1.5 -1h0m3 0.5h0m3 -0.5h0m1 0.5h0m0.5 3.5h0m0.5 -1h0m1 -2h0m-50.5 7.5h0m2.5 -0.5h0m0.5 1h0m2 -2h0m1 -1h0m0.5 2h0m1 -0.5h0m8.5 2.5h0m2 -4h0m8 3h0m1 -0.5h0m1 -1.5h0m5 0.5h0m1 2h0m0 -2.5h0m5 -1h0m1.5 -0.5h0m2 -0.5h0m0.5 0h0m8 3h0m2 -2h0m0.5 1.5h0m0.5 -1h0m-50.5 6.5h0m3 3h0m0.5 0h0m1 -4.5h0m1 -0.5h0m1 5h0m6 0.5h0m5.5 -2h0m1 -1h0m10 2.5h0m0.5 -0.5h0m2 -2.5h0m6 -1h0m1.5 1.5h0m0.5 -3h0m0.5 1h0m0.5 0.5h0m1.5 1.5h0m0 -1.5h0m0.5 3.5h0m0 -2h0m0 -1h0m4 -2h0m2.5 4.5h0m0.5 -3.5h0m1 -0.5h0m0 1h0m0.5 4h0m-54.5 4h0m1.5 -3h0m2 2.5h0m0 -0.5h0m1 -1h0m0.5 2.5h0m1 -0.5h0m2.5 0h0m0 -1.5h0m2 1.5h0m1 -1h0m0 2h0m2 0.5h0m2 -1.5h0m0 2h0m0.5 -4h0m1 4.5h0m0.5 -6h0m2 1.5h0m1.5 0h0m3 3.5h0m0.5 -2h0m0 -2.5h0m4.5 -0.5h0m3.5 1.5h0m0.5 1.5h0m4 3h0m1 -4.5h0m3 -0.5h0m1 5h0m1.5 -6h0m2.5 1h0m0 4h0m1.5 -2h0m0 -1h0m3.5 4h0m4 -3h0m0 -2h0m5 5h0m0 -1h0m0.5 0.5h0m-83.5 5h0m6.5 -1h0m1.5 -1h0m1 2h0m2.5 0h0m1 -0.5h0m10 -2h0m0.5 -1h0m1.5 -1h0m2 5h0m0 -3.5h0m1 1.5h0m0 -1h0m1.5 2.5h0m5 -4.5h0m2.5 5h0m0.5 -4.5h0m0.5 2.5h0m1.5 2h0m5.5 -0.5h0m1.5 0h0m1 -2h0m0.5 3.5h0m3 -1h0m1 -1.5h0m4.5 0.5h0m4.5 -1h0m1 -0.5h0m4.5 -2h0m6 2.5h0m3 -1.5h0m1 3.5h0m0 -1h0m0.5 -4h0m3 2h0m1.5 4h0m1.5 -2.5h0m2 0.5h0m0 0h0m2 0h0m1.5 0h0m1.5 1.5h0m-103 4.5h0m1 -1h0m0 1h0m0.5 0.5h0m1.5 -1h0m1 -2h0m5.5 1.5h0m0 2h0m2.5 -2h0m3 2.5h0m6.5 -4h0m0.5 -1h0m3 4.5h0m3.5 -3h0m8.5 3.5h0m0.5 -1.5h0m1 -1.5h0m1 0.5h0m3.5 1.5h0m3 -1.5h0m0 -2h0m1 4.5h0m1 -2h0m0 -0.5h0m2 0.5h0m0 -3.5h0m2 1.5h0m0.5 -0.5h0m1 2.5h0m1.5 -0.5h0m1.5 2h0m3.5 -4.5h0m0 2h0m0.5 1h0m1 -3.5h0m4 4.5h0m0 -4h0m7 1.5h0m0 0h0m1 1h0m1.5 2h0m2 -1h0m5 1.5h0m6.5 -3h0m0 0h0m1.5 -2h0m1 0.5h0m3 0.5h0m2 0.5h0m0 1h0m0 1h0m1.5 -2.5h0m1.5 4h0m4.5 0h0m0.5 -0.5h0m0.5 0h0m4 -1h0m0 1h0m-112 6.5h0m0.5 -1.5h0m0 -2h0m0 -2h0m0.5 4.5h0m2 -2h0m1.5 1.5h0m3 -2.5h0m2 -0.5h0m0.5 -1h0m2 4.5h0m1.5 -3.5h0m0.5 2.5h0m4.5 -2.5h0m1.5 1h0m4.5 4h0m3.5 -3.5h0m0.5 3h0m2 -1.5h0m1.5 -3h0m2 -0.5h0m1.5 2.5h0m0 1.5h0m1 -3.5h0m0.5 1.5h0m3.5 -2h0m0.5 2h0m1.5 -1.5h0m0.5 0h0m2.5 0.5h0m1.5 -1h0m4 2.5h0m3 -3h0m1 3h0m0.5 -2.5h0m1 2.5h0m1.5 -1h0m1 -0.5h0m2 1.5h0m0.5 -1h0m0.5 4h0m2 -2.5h0m1 -3h0m1.5 5h0m0.5 -4h0m2 3.5h0m1 1h0m0.5 -2.5h0m1 1.5h0m2.5 -1h0m1 -1.5h0m0.5 0h0m0.5 -1h0m1.5 3.5h0m1 -1.5h0m0.5 -1h0m0.5 3.5h0m0.5 -2.5h0m2.5 -2h0m1 3.5h0m3.5 -2h0m3.5 1h0m1 -1h0m0.5 -3h0m2 2h0m0.5 4h0m0.5 -1.5h0m3.5 1.5h0m10.5 -0.5h0m0 -4h0m0.5 -0.5h0m0.5 0.5h0m1.5 4h0m1.5 -4h0m1 2h0m0.5 2h0m3 -1h0m0.5 -1.5h0m1.5 -1h0m1 4h0m0 -1h0m0 -2h0m0.5 -0.5h0m4.5 2h0m-131.5 4h0m5 1h0m4 1.5h0m2 -2h0m0.5 2h0m2.5 -2.5h0m1 -1.5h0m0.5 0h0m0 4h0m2 -3h0m1 1.5h0m0.5 -0.5h0m3 1.5h0m2 -1.5h0m5.5 -1h0m1.5 0h0m1.5 -1.5h0m1 3h0m0.5 -2h0m2.5 2.5h0m1.5 -3.5h0m2 1h0m0.5 2.5h0m0.5 1h0m3.5 -1.5h0m0 1h0m0 0h0m0.5 -2h0m0 -0.5h0m4.5 0.5h0m0.5 1h0m2 -3h0m2 2h0m0 -1.5h0m0 4h0m3.5 -3.5h0m6 1h0m1.5 2.5h0m1 0.5h0m0 -2.5h0m0.5 -0.5h0m1 -2h0m1 3.5h0m0.5 -1h0m6 -1.5h0m0 0.5h0m0.5 1.5h0m0.5 1h0m1 1h0m0 -2.5h0m3.5 2.5h0m2.5 -4h0m3.5 2.5h0m1 -4h0m1.5 1h0m0 1.5h0m0.5 3h0m0.5 -1h0m0 0.5h0m1.5 -4.5h0m0.5 3.5h0m1.5 -4h0m2 2h0m2.5 0.5h0m0.5 -0.5h0m1.5 -1h0m2 4.5h0m3.5 -1.5h0m0 0.5h0m0 -3h0m0.5 3.5h0m2.5 -2h0m4 1.5h0m5 0.5h0m0.5 -1.5h0m0.5 -1.5h0m1.5 0.5h0m1.5 1h0m4 2.5h0m1.5 -1h0m1.5 0.5h0m2.5 -3h0m4 -1.5h0m-127.5 7h0m3.5 -1h0m0 0.5h0m1 -1.5h0m1 3h0m0 -2h0m1 0h0m0 0.5h0m1 1h0m0.5 0h0m4 -0.5h0m1 1.5h0m0.5 -3.5h0m3 5.5h0m7.5 -0.5h0m0.5 -2h0m11 0h0m2 -1.5h0m0.5 2h0m0.5 2h0m0.5 -0.5h0m5.5 -4.5h0m4 4h0m1 1h0m1 -3h0m0 3.5h0m4 -4h0m0.5 2h0m1 -2h0m0.5 0.5h0m4 3h0m1 -3h0m8.5 0.5h0m4.5 -0.5h0m0.5 -1.5h0m2 0h0m0 3h0m1 -2h0m2 -0.5h0m1 0.5h0m0.5 3h0m2 -0.5h0m0.5 -1.5h0m0.5 -0.5h0m2.5 1.5h0m3.5 1.5h0m2 -3.5h0m1.5 2.5h0m1.5 -2.5h0m2.5 -1.5h0m0 4h0m1.5 -1.5h0m3.5 0.5h0m2 -1h0m0 -1.5h0m1.5 1.5h0m0.5 2h0m0 -3h0m1.5 4h0m0.5 -2h0m1.5 -1.5h0m0.5 -1h0m1.5 2h0m0.5 0h0m0.5 -2h0m0.5 0.5h0m1 2h0m2.5 -1h0m-103 5.5h0m25 0.5h0m0 0h0m0 1.5h0m0.5 0.5h0m2.5 -4h0m0.5 4.5h0m6 -3h0m3.5 2h0m3 -1h0m2.5 -1.5h0m0 1.5h0m2.5 -1h0m1 -2h0m2 4h0m2.5 -0.5h0m2.5 1.5h0m1 0h0m2 -4h0m3 4.5h0m0.5 -4.5h0m3 1.5h0m4 3h0m1.5 -2.5h0m4 1.5h0m1.5 0.5h0m4.5 -3h0m0.5 3.5h0m0.5 -5h0m0 2.5h0m2.5 2.5h0m1 -0.5h0m1 1h0m0.5 -2h0m0 1h0m0.5 -2.5h0m1.5 -1.5h0m1 2h0m2 -1.5h0m1.5 3.5h0m1.5 -1h0m0 -2.5h0m1.5 -0.5h0m1 -0.5h0m-73.5 11h0m2.5 -3h0m7.5 0.5h0m1 -0.5h0m0.5 2h0m0.5 -3h0m0.5 1.5h0m0 2h0m0.5 -4h0m1 3h0m4.5 -2h0m2 1.5h0m1.5 -0.5h0m3.5 -1.5h0m5 2.5h0m0 -3h0m1 1h0m0.5 -1.5h0m6 5h0m0 -3.5h0m3.5 -0.5h0m1 1.5h0m3.5 1h0m0.5 -2h0m2 1h0m1.5 1.5h0m0.5 -3.5h0m1.5 -0.5h0m0 4h0m1.5 -0.5h0m0 -0.5h0m9 -3.5h0m0 0.5h0m3 0.5h0m-62 5h0m0.5 1.5h0m2 2.5h0m4 -2.5h0m0 1.5h0m0 2.5h0m0.5 -0.5h0m0.5 -4h0m2.5 3.5h0m0.5 -1.5h0m0.5 -1.5h0m0.5 3h0m4 1.5h0m3 0h0m3 -1h0m0 -2h0m2 1h0m6.5 0.5h0m2 -1.5h0m0.5 2h0m2 -4h0m1 0.5h0m1 1.5h0m0.5 2.5h0m2.5 -0.5h0m0 -4.5h0m2.5 4.5h0m0.5 -3h0m2.5 2h0m1.5 -1.5h0m2 -1.5h0m1 3.5h0m0.5 0.5h0m0.5 0.5h0m1 -2.5h0m0 -2h0m2.5 1h0m2.5 0.5h0m1 -0.5h0m-44 5h0m0.5 3.5h0m1 -3.5h0m2 2h0m0.5 -1h0m0.5 2.5h0m0.5 -1.5h0m4 1h0m1 1h0m1 -2h0m0.5 -2h0m0.5 0h0m1 4h0m1 -3h0m1 4h0m1.5 -3h0m1.5 1.5h0m3 1.5h0m1.5 -0.5h0m1.5 0h0m0.5 -4.5h0m3 3h0m0 -3h0m0 4h0m3.5 0.5h0m6 -4h0m2.5 -0.5h0m-35.5 5h0m3.5 1.5h0m5.5 -0.5h0m2 2h0m1 0h0m1.5 -2h0m1 -0.5h0m10 -0.5h0"/></defs><use href="#q10" stroke-width="6" stroke-opacity=".5"/><use href="#q10" stroke-width="4.4"/></g><g fill="none" stroke="#9980ff" stroke-linecap="round"><path d="M1235 1592.5h0m5.5 0h0m5.5 0h0m6 0h0m-59 5h0m5.5 0h0m5.5 0h0m6 0h0m5.5 0h0m5.5 0h0m5.5 0h0m5.5 0h0m6 0h0m5.5 0h0m5.5 0h0m5.5 0h0m5.5 0h0m-81 5h0m5.5 0h0m5.5 0h0m6 0h0m5.5 0h0m5.5 0h0m5.5 0h0m17 0h0m5.5 0h0m5.5 0h0m5.5 0h0m6 0h0m5.5 0h0m5.5 0h0m-87 5h0m6 0h0m5.5 0h0m5.5 0h0m5.5 0h0m5.5 0h0m6 0h0m5.5 0h0m5.5 0h0m5.5 0h0m5.5 0h0m17 0h0m5.5 0h0m5.5 0h0m6 0h0m-92.5 4.5h0m5.5 0h0m5.5 0h0m5.5 0h0m6 0h0m16.5 0h0m11.5 0h0m5.5 0h0m5.5 0h0m11 0h0m6 0h0m5.5 0h0m5.5 0h0m5.5 0h0m-98 5h0m3 5h0m2.5 -5h0m3 5h0m3 -5h0m2.5 5h0m3 -5h0m2.5 5h0m3 -5h0m3 5h0m2.5 -5h0m3 5h0m2.5 -5h0m3 5h0m3 -5h0m2.5 5h0m3 -5h0m2.5 5h0m3 -5h0m5.5 0h0m3 5h0m11 0h0m3 -5h0m2.5 5h0m3 -5h0m3 5h0m2.5 -5h0m3 5h0m2.5 -5h0m3 5h0m3 -5h0m5.5 0h0m2.5 5h0m3 -5h0m3 5h0m5.5 0h0m-109.5 5h0m6 0h0m5.5 0h0m11 0h0m5.5 0h0m6 0h0m5.5 0h0m5.5 0h0m5.5 0h0m5.5 0h0m6 0h0m5.5 0h0m5.5 0h0m5.5 0h0m5.5 0h0m6 0h0m11 0h0m5.5 0h0m-92.5 4.5h0m6 0h0m5.5 0h0m5.5 0h0m5.5 0h0m5.5 0h0m6 0h0m5.5 0h0m5.5 0h0m11 0h0m6 0h0m5.5 0h0m5.5 0h0m5.5 0h0m5.5 0h0m6 0h0m-76 5h0m6 0h0m5.5 0h0m5.5 0h0m11 0h0m6 0h0m5.5 0h0m5.5 0h0m5.5 0h0m5.5 0h0m6 0h0m5.5 0h0m-56 10h0m2.5 -5h0m3 5h0m3 -5h0m2.5 5h0m3 -5h0m2.5 5h0m3 -5h0m3 5h0m2.5 -5h0m3 5h0m2.5 -5h0m6 0h0m5.5 0h0m2.5 5h0m3 -5h0m3 5h0m2.5 -5h0m-44.5 9.5h0m5.5 0h0m5.5 0h0m5.5 0h0m5.5 0h0m6 0h0m5.5 0h0m5.5 0h0" stroke-width="8.6"/><defs><path id="q11" d="M1216.5 1568.5h0m-4.5 2h0m0 -1h0m1.5 4h0m5 -4h0m0 4h0m2 0h0m2 1.5h0m0.5 -0.5h0m-10.5 3h0m4.5 1.5h0m0.5 0.5h0m5.5 -0.5h0m1.5 -1h0m23.5 8h0m-44.5 5h0m6.5 1h0m1.5 0h0m6 -0.5h0m5 0h0m0.5 1.5h0m0.5 -2h0m8 0.5h0m4 -0.5h0m1 1h0m0 0h0m2 -0.5h0m4.5 -3h0m0.5 1h0m0.5 0h0m2 3h0m1.5 -1h0m0.5 -4h0m2 4.5h0m0.5 -3.5h0m0 3h0m0.5 0.5h0m5.5 -0.5h0m-77.5 6.5h0m6.5 0.5h0m0 -4h0m2 2.5h0m0.5 -0.5h0m0.5 0.5h0m2.5 -3h0m0.5 4h0m4 -3.5h0m0 4h0m0.5 -5h0m1.5 3h0m1 0.5h0m0.5 -1h0m1 2h0m1 -2h0m1 1.5h0m1.5 -2.5h0m3 -0.5h0m1 1h0m2.5 0h0m1 -2h0m0.5 3h0m5 -1.5h0m3 2h0m1 -2h0m4.5 3h0m0.5 -0.5h0m2 -2.5h0m0 -1.5h0m1 0h0m5 5h0m0.5 -2.5h0m5 -1.5h0m0 2.5h0m4.5 1h0m2.5 -5h0m4 2h0m2.5 -2h0m1 0.5h0m1.5 4h0m1 -1.5h0m1.5 1.5h0m2 -0.5h0m0.5 -4h0m1 0.5h0m1.5 2.5h0m0.5 -1.5h0m0 2h0m-93.5 8.5h0m0.5 -2h0m1 0.5h0m1.5 0.5h0m1.5 -4.5h0m0.5 3.5h0m6 -3h0m0.5 4.5h0m0.5 -2.5h0m6.5 0.5h0m1.5 -1.5h0m0.5 2h0m0 -0.5h0m1.5 -2.5h0m2 4h0m2 -1h0m2.5 -1h0m0 -1h0m5.5 1.5h0m2 2h0m1 -3.5h0m1 -1h0m3.5 2.5h0m0 1.5h0m0.5 -3h0m0.5 -0.5h0m3 -1h0m0 0h0m0 1.5h0m1.5 -0.5h0m6.5 4h0m4.5 -1h0m1.5 -2.5h0m0.5 -2h0m0.5 2h0m0.5 3.5h0m0.5 0h0m1 -2.5h0m0.5 2h0m3 -1.5h0m2 1.5h0m3 -5h0m1 2h0m5 1.5h0m0 1.5h0m1.5 -4.5h0m1 4.5h0m0.5 -1h0m6 -2h0m0.5 0.5h0m0 -0.5h0m7 -0.5h0m2 -1h0m1 2h0m0 2.5h0m-100.5 5h0m0.5 0.5h0m7 -4.5h0m4 3.5h0m0.5 0h0m1.5 2.5h0m1 -3.5h0m1 -1.5h0m1 3.5h0m1 -2h0m3 3.5h0m0 -3h0m0 -3h0m4.5 4.5h0m3.5 -2.5h0m0.5 -2h0m1.5 4.5h0m2.5 1h0m0 -2.5h0m2 2.5h0m0 -0.5h0m1.5 -3.5h0m6 2h0m0 -2.5h0m0.5 4.5h0m0 -3h0m3 -2h0m1.5 5h0m2 0.5h0m1.5 -5h0m0 1.5h0m0.5 2h0m1 -3.5h0m4.5 4.5h0m3.5 -0.5h0m0 -2.5h0m1.5 -1h0m1.5 -1h0m0.5 1.5h0m2.5 -1.5h0m2.5 1.5h0m1 0h0m2 2.5h0m1.5 -4.5h0m1.5 2.5h0m1.5 3.5h0m0.5 -3.5h0m1 1.5h0m0.5 -2.5h0m1 -1.5h0m4.5 5h0m2.5 -0.5h0m2 -3h0m3 -1.5h0m3 6h0m0 -4.5h0m1 3h0m0 -4h0m2 1h0m1 2h0m2.5 -2.5h0m2 4.5h0m0 -1h0m0.5 -2.5h0m0.5 3h0m1 -0.5h0m1.5 1h0m3 0.5h0m-110 5.5h0m1.5 -5h0m0.5 3.5h0m0.5 1.5h0m0 0h0m1 -2h0m1 0.5h0m0.5 1.5h0m0 -1.5h0m4.5 -1.5h0m1 0.5h0m0 1h0m0.5 -2h0m0.5 0h0m1 1.5h0m0.5 -3.5h0m3 1h0m0 4h0m0.5 1h0m0.5 -2h0m0 1h0m0.5 -1h0m0 -1h0m0.5 0h0m3.5 1.5h0m1.5 0.5h0m2 1h0m3.5 -3.5h0m1.5 -0.5h0m2 0.5h0m1 2.5h0m3 -3h0m2.5 1.5h0m1 0.5h0m0.5 0.5h0m0 -2h0m4 0.5h0m1.5 -1.5h0m1 0h0m1 1h0m0 -1h0m2 1.5h0m2.5 2h0m2 -3.5h0m0 4.5h0m3 -0.5h0m0 -4.5h0m1.5 3h0m2 1.5h0m2 -4h0m5.5 1.5h0m3 0.5h0m0.5 1h0m1 0h0m2 -4.5h0m2 5h0m1 -2h0m0.5 -1h0m1 1h0m0 -2h0m2 0.5h0m0 3.5h0m1 -3.5h0m2 0.5h0m0 2.5h0m0 -2.5h0m2.5 3.5h0m0.5 -5h0m1 0.5h0m0.5 2h0m1 0.5h0m1 -2h0m3 3h0m0 -1.5h0m0.5 1.5h0m1 -1h0m0.5 0h0m1 -2h0m0.5 2h0m0.5 1.5h0m2.5 -2.5h0m0.5 1h0m0.5 -2h0m2 -0.5h0m0.5 5h0m3.5 -5.5h0m1 1.5h0m3.5 2.5h0m8.5 0.5h0m0 -1h0m0 1.5h0m-118.5 6h0m1.5 -5h0m1 5.5h0m4.5 -5.5h0m2 4h0m0 1.5h0m1 -5.5h0m2.5 5.5h0m1.5 -5h0m0 2h0m3.5 -1.5h0m1 1h0m1 0.5h0m2.5 2h0m0.5 -1h0m1 -2h0m1.5 2h0m0 -1.5h0m2 0h0m0.5 -1h0m0 -1.5h0m2.5 2.5h0m1 2h0m0 0h0m2.5 -4h0m0 2h0m0 -2.5h0m1 2h0m0 -1h0m0.5 -0.5h0m2 0.5h0m1.5 4h0m0 -1.5h0m1.5 2.5h0m1.5 -1.5h0m1 -2h0m5 -1.5h0m3 0h0m0.5 1h0m0.5 1h0m1.5 0.5h0m1 -2.5h0m1.5 0h0m0.5 -0.5h0m4.5 0h0m0.5 1.5h0m0.5 3h0m1 -3.5h0m0 4.5h0m0 -1.5h0m2 -2h0m4 -2.5h0m5 1.5h0m2.5 1.5h0m2.5 2h0m1 -0.5h0m0 -2h0m5.5 0h0m0.5 -1h0m2.5 -1h0m4.5 4.5h0m0.5 -1h0m7.5 -1.5h0m3 3h0m2 -2.5h0m0.5 0.5h0m0 2h0m3.5 -1h0m2 1.5h0m0.5 -4h0m0.5 2.5h0m4 0h0m0.5 -3.5h0m1.5 4h0m2 -2.5h0m0 0.5h0m-120 6.5h0m1.5 0.5h0m5 0.5h0m1 -0.5h0m2 -1.5h0m0 0.5h0m0.5 -0.5h0m3 2.5h0m2 -0.5h0m0.5 -1h0m2 2h0m2 -2.5h0m2.5 0.5h0m2 0.5h0m7.5 1.5h0m8.5 -4.5h0m0 3.5h0m1 -4h0m1.5 3h0m2 -1h0m4.5 1h0m3 -1.5h0m5.5 -0.5h0m5 -1h0m0.5 1h0m3.5 -1h0m1.5 0.5h0m0 3h0m4 -2h0m3.5 0.5h0m1 2h0m2 -4h0m1.5 5h0m3 0h0m1 -0.5h0m0.5 -3.5h0m0.5 1h0m4 -1.5h0m0.5 -0.5h0m1.5 1.5h0m2 -1h0m3 2.5h0m1.5 -1h0m0.5 2.5h0m0.5 -0.5h0m0.5 1.5h0m1.5 -0.5h0m1 0.5h0m2 -5h0m2 3.5h0m2 0.5h0m1 -3h0m2.5 -0.5h0m0.5 2.5h0m2.5 -2.5h0m5 4h0m0.5 -0.5h0m1 -1h0m2 -2h0m-116 9h0m0.5 -0.5h0m0.5 1h0m0 0.5h0m0.5 -0.5h0m0 -3h0m0 1h0m0 0.5h0m1.5 -3.5h0m0.5 3.5h0m0 0h0m6 -1h0m0.5 -1h0m3 -0.5h0m3 4h0m1.5 -1h0m0.5 1.5h0m3 -6h0m0 4.5h0m9.5 0h0m1 -3.5h0m1.5 1.5h0m0.5 -1h0m0.5 2h0m8.5 -1h0m0.5 2.5h0m3 0h0m1.5 -2.5h0m6.5 2.5h0m5 -3.5h0m1.5 0.5h0m0 2h0m5.5 1h0m1 -4h0m3.5 0h0m5 3h0m2.5 -0.5h0m0.5 -0.5h0m1 -1.5h0m0.5 -1h0m5 3.5h0m4 2h0m4 -1h0m1.5 -1h0m3 2h0m0.5 -2.5h0m3 0h0m0 1h0m1 -3.5h0m1.5 2h0m1.5 -3h0m1.5 3.5h0m1.5 -2h0m1 3h0m3 -1.5h0m-97 4h0m2 -0.5h0m2 -0.5h0m3.5 4h0m1 -2h0m0.5 2h0m0.5 -2h0m1 0h0m0 0.5h0m0.5 -2.5h0m0 3h0m8 2h0m0.5 -3.5h0m1.5 2h0m1.5 0.5h0m2 1.5h0m0.5 -2h0m1.5 1.5h0m0.5 -2.5h0m2 0h0m0.5 0h0m1 2h0m1 -0.5h0m2.5 0.5h0m0 0.5h0m0.5 -3.5h0m3.5 -1.5h0m3 4h0m0 -2.5h0m1 2h0m6 -1.5h0m2.5 2h0m0.5 -1.5h0m5 0h0m3.5 -2.5h0m0.5 4.5h0m1.5 -0.5h0m4.5 -0.5h0m2 -1.5h0m2 2.5h0m0.5 -4h0m0 1h0m8 0h0m0 4.5h0m0.5 -3h0m3.5 1h0m4 -1.5h0m1 2.5h0m0.5 0.5h0m1.5 -2h0m2.5 -1.5h0m-77.5 6h0m0.5 1h0m3.5 -3h0m0 5h0m3.5 0h0m0.5 -3h0m1 -1.5h0m1.5 0h0m0 1h0m1.5 -1h0m0 5.5h0m1.5 -0.5h0m1 -3.5h0m2 2h0m1.5 1h0m2 -4h0m1 2h0m1 0.5h0m2 1.5h0m1 0.5h0m1 -1.5h0m5 -3h0m2 1h0m0 1h0m1.5 -3h0m0 0.5h0m0.5 2.5h0m9.5 -3h0m0 6h0m0.5 -1.5h0m0 0.5h0m0.5 -3h0m2 -1.5h0m0.5 1.5h0m1.5 -1h0m1 5h0m5 -6h0m1 1h0m2 0.5h0m2 -0.5h0m1 2h0m0.5 2.5h0m2.5 -1.5h0m0.5 -1.5h0m0 -2h0m6 2.5h0m1 -2.5h0m31.5 2.5h0m-97 4.5h0m3 0.5h0m0.5 0.5h0m1 0h0m3 -1.5h0m2.5 1h0m1 3h0m0.5 -3h0m1 -1h0m1 4.5h0m1.5 -0.5h0m1.5 -3h0m5.5 0.5h0m1.5 0h0m1.5 3h0m2.5 0h0m4 -5h0m0.5 4.5h0m1 -1.5h0m2.5 0h0m2 0.5h0m0 -0.5h0m0 0h0m0.5 -1.5h0m3 1h0m0 1h0m1.5 -0.5h0m1.5 -2.5h0m3.5 1.5h0m0.5 -1.5h0m0.5 3h0m3.5 0h0m2 -0.5h0m1 0h0m4.5 -1.5h0m2 1.5h0m28.5 0.5h0m-79.5 6h0m2.5 -1.5h0m4.5 0.5h0m0 3h0m1 -4h0m0.5 -1h0m0.5 1h0m1 1.5h0m3.5 -2.5h0m1 2h0m2 -2.5h0m2 1h0m4.5 1.5h0m0.5 -1.5h0m0.5 2h0m1 -0.5h0m2 1h0m1 -4h0m1 1h0m2.5 4h0m4 0.5h0m2.5 -2h0m6.5 -3h0m-43 6.5h0m1 -0.5h0m3 1h0m57.5 0h0m-42 4.5h0m23.5 0h0m10.5 0h0"/></defs><use href="#q11" stroke-width="6" stroke-opacity=".5"/><use href="#q11" stroke-width="4.4"/></g><g fill="none" stroke="#ffc680" stroke-linecap="round"><path d="M1394 1496.5h0m5.5 0h0m3 -4.5h0m2.5 4.5h0m3 -4.5h0m3 4.5h0m5.5 0h0m-25.5 5h0m6 0h0m5.5 0h0m5.5 0h0m5.5 0h0m5.5 0h0m6 0h0m-36.5 5h0m5.5 0h0m5.5 0h0m5.5 0h0m6 0h0m5.5 0h0m5.5 0h0m5.5 0h0m-42 5h0m5.5 0h0m6 0h0m5.5 0h0m5.5 0h0m5.5 0h0m5.5 0h0m11.5 0h0m-47.5 4.5h0m11 0h0m5.5 0h0m17 0h0m5.5 0h0m11 0h0m6 0h0m5.5 0h0m-61.5 10h0m2.5 -5h0m3 5h0m2.5 -5h0m3 5h0m3 -5h0m2.5 5h0m3 -5h0m2.5 5h0m3 -5h0m3 5h0m5.5 0h0m2.5 -5h0m3 5h0m3 -5h0m2.5 5h0m3 -5h0m2.5 5h0m6 0h0m2.5 -5h0m3 5h0m2.5 -5h0m3 5h0m-59 5h0m6 0h0m5.5 0h0m5.5 0h0m5.5 0h0m5.5 0h0m6 0h0m5.5 0h0m11 0h0m11.5 0h0m-70 4.5h0m5.5 0h0m11 0h0m5.5 0h0m11.5 0h0m5.5 0h0m5.5 0h0m5.5 0h0m6 0h0m5.5 0h0m-59 5h0m5.5 0h0m6 0h0m5.5 0h0m5.5 0h0m5.5 0h0m5.5 0h0m6 0h0m5.5 0h0m11 0h0m5.5 0h0m6 0h0m-70 5h0m8 4.5h0m3 -4.5h0m3 4.5h0m2.5 -4.5h0m3 4.5h0m2.5 -4.5h0m3 4.5h0m5.5 0h0m3 -4.5h0m2.5 4.5h0m3 -4.5h0m3 4.5h0m2.5 -4.5h0m3 4.5h0m2.5 -4.5h0m3 4.5h0m5.5 0h0m3 -4.5h0m2.5 4.5h0m3 -4.5h0m3 4.5h0m-64.5 5h0m5.5 0h0m5.5 0h0m5.5 0h0m6 0h0m5.5 0h0m5.5 0h0m5.5 0h0m5.5 0h0m6 0h0m5.5 0h0m5.5 0h0m5.5 0h0m-70 5h0m5.5 0h0m6 0h0m5.5 0h0m5.5 0h0m17 0h0m11 0h0m5.5 0h0m5.5 0h0m6 0h0m-70 5h0m5.5 0h0m5.5 0h0m5.5 0h0m5.5 0h0m6 0h0m5.5 0h0m5.5 0h0m5.5 0h0m5.5 0h0m6 0h0m5.5 0h0m5.5 0h0m5.5 0h0m-53 4.5h0m2.5 5h0m3 -5h0m3 5h0m2.5 -5h0m3 5h0m5.5 0h0m3 -5h0m2.5 5h0m3 -5h0m2.5 5h0m3 -5h0m5.5 0h0m3 5h0m5.5 0h0m3 -5h0m2.5 5h0m3 -5h0m-50.5 10h0m5.5 0h0m5.5 0h0m6 0h0m5.5 0h0m11 0h0m5.5 0h0m6 0h0m5.5 0h0m-53.5 5h0m6 0h0m5.5 0h0m11 0h0m5.5 0h0m6 0h0m5.5 0h0m5.5 0h0m17 0h0m-53.5 4.5h0m11.5 0h0m5.5 0h0m5.5 0h0m5.5 0h0m5.5 0h0m6 0h0m-50.5 10h0m2.5 -5h0m6 0h0m2.5 5h0m3 -5h0m2.5 5h0m3 -5h0m3 5h0m2.5 -5h0m3 5h0m2.5 -5h0m3 5h0m3 -5h0m8 5h0m3 -5h0m-33.5 10h0m5.5 0h0m5.5 0h0m5.5 0h0m6 0h0" stroke-width="8.6"/><defs><path id="q12" d="M1395.5 1491h0m3.5 -3.5h0m1 3h0m1 -0.5h0m2 -1h0m3.5 1h0m0.5 -2.5h0m2.5 -2h0m0 3.5h0m3.5 -2h0m1 0.5h0m2.5 2.5h0m0 -1h0m1.5 -0.5h0m-30.5 8h0m2 0h0m1 0h0m2 -5.5h0m0.5 6h0m2.5 -2h0m0 -3.5h0m0 5.5h0m0.5 -5.5h0m1 2h0m1.5 -2h0m1 2.5h0m0 -1h0m1.5 3h0m4 -3h0m0 1h0m0 -2h0m1 -0.5h0m0.5 -0.5h0m0.5 0h0m0 5.5h0m2.5 -1.5h0m0.5 -1.5h0m0 0.5h0m1 -1h0m0.5 3h0m6 -1.5h0m2 -3h0m1.5 4h0m3.5 0h0m-39.5 3h0m5 0.5h0m1 2.5h0m2 0h0m2 -0.5h0m1.5 -3h0m1.5 2h0m1.5 -2.5h0m0.5 2h0m0.5 -1.5h0m1.5 1.5h0m1 -2h0m4 2.5h0m1 -2h0m0 5h0m0.5 -1.5h0m0.5 -1h0m0 1.5h0m0 -2.5h0m0 1.5h0m0.5 -1h0m5.5 0h0m1 -1.5h0m2 -1h0m2 3h0m0 0h0m3 -1h0m6 3h0m2 -2h0m0.5 1.5h0m-55 6h0m2.5 0.5h0m1 -1.5h0m7.5 -1.5h0m0.5 1h0m0.5 -1.5h0m1 2.5h0m0.5 -3h0m1.5 0.5h0m1 3.5h0m3 -0.5h0m0.5 -1.5h0m1 -1.5h0m2.5 0.5h0m1 -2h0m1 0.5h0m0.5 3h0m0.5 -1h0m1 -2h0m1 2h0m6.5 -1h0m0.5 3h0m1.5 -4.5h0m0.5 3.5h0m1 -1.5h0m4.5 -1h0m0.5 3.5h0m3.5 -3.5h0m1.5 0.5h0m2.5 -0.5h0m3.5 3h0m1.5 -4h0m6.5 3.5h0m-66 7.5h0m0 -2.5h0m1 0.5h0m0.5 -2h0m4.5 -1.5h0m1 0.5h0m0 0h0m0 0h0m5 5h0m1 -4.5h0m0 -0.5h0m0 4h0m2.5 -1.5h0m0.5 -0.5h0m7 2h0m0.5 -3.5h0m2 0.5h0m1 -0.5h0m0.5 3h0m3.5 2h0m0 -5h0m0.5 4.5h0m0.5 -0.5h0m4.5 -2h0m1.5 1h0m1.5 0h0m1.5 -3.5h0m1 4.5h0m1.5 -3.5h0m0.5 4h0m3.5 -2h0m1.5 -0.5h0m1.5 -1h0m0 3h0m1 1h0m2 -4h0m4.5 1h0m0.5 1h0m1 -2h0m1.5 1h0m2.5 2h0m1.5 -3h0m1.5 2.5h0m3.5 -1h0m1.5 2h0m2.5 -2.5h0m-74 3.5h0m1.5 3h0m4 -3.5h0m3 5.5h0m1 -2h0m0 -3h0m0 0.5h0m0.5 1.5h0m3 0.5h0m1.5 -2h0m4 5h0m6.5 0h0m4.5 -2.5h0m7.5 -2h0m2.5 3h0m1.5 -2.5h0m0.5 0.5h0m0.5 -2h0m1 4h0m4 -0.5h0m0.5 -0.5h0m0.5 -2.5h0m2 -1h0m0 3.5h0m1 0h0m1 -2h0m12.5 2h0m2 -0.5h0m1.5 -2h0m1 3h0m0.5 0h0m2 -2h0m1.5 -1h0m0.5 1.5h0m1.5 -1h0m0.5 2.5h0m9.5 1.5h0m-85 5.5h0m2.5 -4.5h0m0.5 5h0m0 -5h0m3.5 4.5h0m1 -1h0m2.5 1.5h0m1 -1h0m0.5 -3h0m0.5 1h0m2.5 1.5h0m2 0h0m3.5 0.5h0m2.5 -2.5h0m1.5 1h0m0 -2.5h0m2 2.5h0m1.5 0h0m1.5 -2.5h0m1.5 3.5h0m0.5 -0.5h0m0.5 -2.5h0m0 4h0m2 -2h0m3.5 2.5h0m3 -4h0m0.5 0.5h0m1 -2h0m0.5 5.5h0m0.5 -0.5h0m2.5 -4h0m2 0h0m0.5 2.5h0m1.5 1h0m0.5 -1h0m1 2.5h0m7.5 -5.5h0m2 0.5h0m1 -0.5h0m0.5 2h0m1 1h0m0 1h0m0 -3h0m2 -1h0m2.5 5h0m5.5 -1.5h0m0.5 -1h0m1 0h0m2 1.5h0m3 -0.5h0m2.5 -0.5h0m1 -1.5h0m0.5 -0.5h0m3.5 -0.5h0m1 2h0m-102.5 7.5h0m6.5 1h0m2 -2.5h0m4 -1.5h0m1.5 0h0m1.5 3h0m0.5 -4.5h0m0.5 3h0m1 1h0m1.5 0.5h0m3 -2.5h0m1 -1h0m3.5 0h0m0 2.5h0m0.5 -1h0m2.5 2.5h0m6.5 0h0m0 -3h0m2 3.5h0m3 -0.5h0m1 0.5h0m2 -4h0m0.5 -0.5h0m3.5 5h0m1 -5h0m0.5 3h0m1 -2h0m1 3.5h0m1.5 -1.5h0m2 -2.5h0m1.5 3.5h0m2 -4.5h0m1 1h0m0 1h0m0.5 -2h0m0.5 0.5h0m0.5 3.5h0m0 -2h0m3 -2.5h0m0 3.5h0m6.5 1.5h0m2 -4.5h0m0.5 2h0m0.5 -1h0m2 0h0m1 1h0m2.5 -2.5h0m1.5 5h0m0.5 0h0m0 -3h0m3 -2h0m1.5 2.5h0m0.5 -2.5h0m0.5 1h0m1.5 2h0m2 -1.5h0m1.5 3.5h0m1 -3h0m2.5 -0.5h0m1 4h0m0.5 -4.5h0m-101.5 8.5h0m3.5 0h0m0.5 -0.5h0m0.5 1h0m3 -3.5h0m16 4h0m2 -3.5h0m0.5 3h0m0 -1.5h0m0.5 -1h0m0.5 1h0m3 1.5h0m1.5 -1.5h0m1.5 3h0m1.5 -3h0m5 1h0m0.5 -2h0m2 2.5h0m0.5 -1h0m0 -0.5h0m1.5 2h0m0.5 -2h0m0 -2.5h0m4 5h0m4 -2h0m0 0h0m6 -2.5h0m5 3.5h0m0.5 -3h0m1.5 2h0m3 1h0m0.5 -1h0m1.5 0h0m1 2.5h0m0.5 -1.5h0m1 0.5h0m2 1h0m0.5 -1h0m1 -1h0m0 2.5h0m0 -2h0m1.5 -3h0m3.5 2h0m0.5 -2.5h0m0.5 0.5h0m1 3.5h0m1.5 1.5h0m0 -2h0m1.5 -3h0m0.5 -0.5h0m6 4.5h0m1.5 -1h0m2 -3h0m1 4h0m3 -3.5h0m1 4h0m3 0.5h0m0 -5.5h0m0.5 0.5h0m-105.5 6.5h0m1.5 4h0m9.5 -4.5h0m0.5 3h0m6 -1.5h0m1.5 -1.5h0m11 2.5h0m2.5 1.5h0m0.5 -1h0m0.5 -1h0m1.5 2h0m0 1h0m1 -4.5h0m1 2.5h0m0 0h0m0.5 -0.5h0m1.5 0.5h0m0.5 -1.5h0m7 -1.5h0m6 4.5h0m1 -1h0m1.5 -1.5h0m1 2h0m2.5 -0.5h0m1.5 1h0m0 -2h0m2 -0.5h0m0.5 -1.5h0m0.5 4h0m0.5 -0.5h0m1 0h0m3 -4.5h0m0.5 1.5h0m0.5 4h0m5 -6h0m0.5 2.5h0m3 2.5h0m2 -3.5h0m4 3.5h0m2 -1h0m0 -3h0m6 1h0m3 3.5h0m1 -0.5h0m1 -2h0m1 2.5h0m2.5 0h0m0 -1.5h0m1 -1.5h0m4 1.5h0m3.5 1h0m-103 1h0m1.5 5h0m1 -4.5h0m1.5 2.5h0m0 2h0m0.5 0h0m2 -0.5h0m0.5 -2h0m10.5 1h0m1.5 1h0m0.5 -4h0m6.5 4.5h0m1.5 -5h0m2.5 4.5h0m1.5 -4.5h0m0 1h0m5.5 1.5h0m0 0.5h0m1 1h0m0.5 0.5h0m1.5 -4h0m0 3.5h0m1 -0.5h0m0.5 0h0m6 1.5h0m2.5 -4h0m0.5 3h0m1 -1h0m0.5 2.5h0m7 0.5h0m0 -0.5h0m1 -2.5h0m1 0.5h0m0 -3h0m1 5h0m4.5 -0.5h0m0 -3.5h0m2 -1.5h0m0 0h0m1.5 1h0m2 0.5h0m1.5 0h0m4 0h0m1.5 0h0m2 -0.5h0m0.5 2h0m0.5 -1.5h0m1.5 3h0m2 -1.5h0m0.5 -3h0m1 4.5h0m5 0.5h0m0.5 -2h0m6 -1h0m1 1.5h0m0.5 0h0m-89 3h0m1 0.5h0m0.5 1.5h0m0 -0.5h0m0 -1.5h0m0 4.5h0m1 -1h0m2.5 0h0m1 0.5h0m0.5 0h0m3 -1h0m2.5 1.5h0m2 -2.5h0m0 3h0m3 0h0m0.5 -4.5h0m2.5 4.5h0m6 -0.5h0m0.5 -2h0m0.5 1h0m0.5 -1h0m6 -2h0m0 3h0m1 -2h0m2 1h0m1.5 -3h0m0.5 0.5h0m0.5 1.5h0m0.5 -1h0m2.5 0.5h0m5.5 3.5h0m0.5 0h0m1.5 0.5h0m0.5 -3.5h0m1 -1h0m2 3.5h0m0.5 -2.5h0m3.5 0.5h0m0.5 2.5h0m0.5 0h0m3 -0.5h0m0.5 -2.5h0m0 3.5h0m1.5 -5.5h0m3.5 1h0m1.5 0.5h0m2 2.5h0m1 -1.5h0m0.5 3h0m4.5 -1.5h0m0.5 0.5h0m1 -3h0m1 0.5h0m0.5 -1.5h0m2.5 3.5h0m0 1h0m1 -1h0m0.5 -3.5h0m2 3.5h0m3 -3h0m1 0h0m1.5 0h0m0.5 5h0m2.5 -2.5h0m2 1.5h0m-103 1.5h0m1 1h0m5 2.5h0m2.5 -3.5h0m8.5 1h0m0 3h0m1 -4.5h0m2.5 0.5h0m3 1.5h0m3.5 -0.5h0m1 1h0m1 -1.5h0m1 2h0m0 -2h0m2 -1h0m1 3.5h0m0.5 -0.5h0m0 -0.5h0m1.5 -2.5h0m1 2.5h0m0.5 -1.5h0m0.5 2.5h0m1 -1.5h0m2 3.5h0m0.5 -5h0m1 2.5h0m0 1.5h0m1 -3h0m4 1h0m1 -0.5h0m0 1.5h0m1.5 -0.5h0m3.5 -2.5h0m3 1h0m2 3h0m1 -1h0m1.5 -3.5h0m0 4.5h0m1 -3.5h0m1 4h0m0.5 -2.5h0m0.5 2.5h0m3 -2.5h0m0 0h0m1 3.5h0m0.5 -2h0m0.5 -1.5h0m4.5 3h0m0.5 -3.5h0m0.5 2h0m2.5 -1h0m3 0.5h0m1.5 1h0m0.5 -1h0m2.5 1.5h0m1 -1h0m0 -3h0m1 3h0m0 -3h0m2.5 1h0m0.5 -1h0m0.5 4h0m0 -5h0m1 5h0m0 -2.5h0m4 0h0m0.5 -0.5h0m0 0.5h0m1.5 2h0m0.5 -4h0m2 4h0m1 -0.5h0m0.5 0.5h0m1 0.5h0m2.5 -0.5h0m0 0h0m-99 3h0m2 -0.5h0m2.5 2.5h0m1.5 -2.5h0m5.5 3h0m3 0h0m4.5 1h0m2.5 -4h0m0.5 4h0m1 0h0m0 -4.5h0m1 4h0m2 -1.5h0m0 2h0m0.5 0.5h0m0.5 -2.5h0m1.5 2.5h0m2.5 -5h0m1 2.5h0m0.5 0.5h0m2 -2h0m3 4.5h0m1 -5h0m2 1h0m1 0.5h0m0 -1h0m0.5 2h0m1 2.5h0m0.5 -2.5h0m2.5 -3.5h0m1.5 1.5h0m2.5 2h0m0.5 -2h0m1 3.5h0m0 1h0m0.5 -2.5h0m3 2.5h0m0.5 -3h0m1 0h0m2 1h0m0 -1h0m2 -0.5h0m2.5 3.5h0m1.5 -1.5h0m1 0.5h0m0 0.5h0m0 -3.5h0m0 3h0m3.5 -4.5h0m0.5 4h0m1 -2.5h0m1.5 3h0m4 -5h0m1.5 2h0m1.5 -1h0m0.5 0.5h0m0.5 2h0m1 -1.5h0m0.5 -1.5h0m2 0.5h0m1 0.5h0m2.5 -1.5h0m4 2.5h0m3 1.5h0m3 0h0m1.5 -2h0m1.5 -0.5h0m-88 5h0m7.5 0h0m5.5 -0.5h0m3.5 0h0m8 1.5h0m4 1h0m1 -2h0m2 0.5h0m0 1h0m2.5 0.5h0m0.5 0h0m0 0.5h0m0.5 -2.5h0m3.5 4.5h0m0.5 -4.5h0m0.5 1.5h0m0.5 -0.5h0m0 1h0m2.5 1h0m0 0.5h0m3 -0.5h0m0.5 -1.5h0m2 4h0m2 -5.5h0m1 2h0m0.5 1.5h0m2 1h0m0.5 -4.5h0m0 3h0m0.5 0.5h0m2 2h0m4.5 -1.5h0m1 1h0m3 -3h0m1 -1.5h0m2.5 4h0m5.5 -3h0m1.5 0.5h0m1.5 1h0m0 -3.5h0m1 2.5h0m0.5 2h0m1 -2.5h0m5 4h0m1.5 -5h0m-60.5 7.5h0m1 -1.5h0m1 4h0m0 -1.5h0m2 -0.5h0m0.5 -1.5h0m1.5 0h0m1.5 1.5h0m0 0.5h0m1 0.5h0m0 0.5h0m0.5 1h0m1.5 -1.5h0m1 -3.5h0m3.5 0h0m1.5 5.5h0m1 -4h0m1 -1h0m0.5 -0.5h0m1 1h0m2 2h0m0.5 -2.5h0m0 4h0m0.5 -2.5h0m6 0h0m5 -1h0m0.5 -1h0m1.5 4.5h0m0.5 -3.5h0m0.5 1h0m2.5 -2.5h0m2 3h0m0 -1.5h0m1 2.5h0m2 1.5h0m2 -3.5h0m0.5 3h0m4 -4h0m1 -0.5h0m0.5 2.5h0m5 0h0m0.5 -0.5h0m1 1h0m6.5 0.5h0m-71 7.5h0m3 -1h0m1 -1h0m1.5 -3h0m1 0h0m1.5 2h0m0.5 2h0m8.5 -2.5h0m1.5 1.5h0m0.5 1h0m4 0h0m3 -1.5h0m1.5 -1.5h0m2.5 -0.5h0m1.5 1.5h0m1 -0.5h0m2 -1h0m0 -0.5h0m0.5 4h0m2 -1h0m2 1h0m0.5 -0.5h0m0.5 -3.5h0m0.5 2h0m2.5 3h0m0 -3h0m7.5 1h0m0 2.5h0m1.5 -4h0m5 0.5h0m1 0.5h0m0.5 -1.5h0m1 3.5h0m1 -1.5h0m2 -1h0m0.5 -1h0m1 3h0m2.5 -1h0m3.5 1.5h0m3 0h0m0 0h0m0.5 -0.5h0m0.5 -3h0m-77.5 7.5h0m5.5 3h0m0.5 -1.5h0m1.5 -2.5h0m1.5 -1.5h0m0.5 5h0m0.5 -1.5h0m3.5 -1h0m3 -1h0m5 -1h0m1.5 1h0m3 -1.5h0m1.5 5.5h0m0.5 -5.5h0m1.5 4.5h0m3 -1h0m2 -1.5h0m0 1h0m5 -2h0m4 0h0m2 1h0m0 1.5h0m1 -1h0m0.5 -1.5h0m2.5 3h0m0 1.5h0m1 -2h0m1.5 -3.5h0m1.5 4h0m1 -3h0m1 2.5h0m4.5 1h0m0.5 -2h0m1 -0.5h0m1.5 -0.5h0m3 1.5h0m6.5 -3h0m2.5 2h0m1 -0.5h0m1.5 -2h0m-76 11.5h0m1 -1h0m1.5 1h0m1 -2.5h0m0 1.5h0m0.5 0h0m5.5 1.5h0m5 -3.5h0m2 2h0m0 -0.5h0m0.5 -2h0m1 3.5h0m5 -5h0m2.5 5.5h0m7.5 -5h0m0 3.5h0m2.5 0h0m0.5 -3.5h0m0.5 1h0m2 0h0m2 -1.5h0m0.5 2.5h0m1 0.5h0m1.5 -1h0m1 2.5h0m0 -2h0m5.5 -3h0m1.5 2h0m0.5 3h0m3 -3h0m1.5 2.5h0m4.5 0h0m-61 2.5h0m3.5 0h0m0.5 1h0m2 2h0m3 -2.5h0m0.5 1h0m6 0h0m2 3h0m0 -3h0m5 0.5h0m0.5 0.5h0m1 -3h0m0.5 0h0m4 4h0m5 -0.5h0m2 -2h0m0.5 3.5h0m0.5 -4h0m0 1h0m1 2h0m0.5 0.5h0m0.5 0.5h0m1.5 -3.5h0m0 -0.5h0m0.5 1.5h0m0.5 1.5h0m0.5 1h0m1 -4.5h0m1.5 3h0m0.5 -3h0m1 -0.5h0m1 1.5h0m1.5 4h0m0.5 -0.5h0m0 -2.5h0m2.5 2h0m3 1h0m1 -4h0m0.5 0.5h0m-42.5 4h0m3.5 0h0m2 -0.5h0m5 3.5h0m1.5 -0.5h0m0 -2h0m0 2h0m3.5 -2h0m1.5 1.5h0m0.5 0.5h0m0.5 -3h0m2 4h0m2 -2.5h0m2 4.5h0m2.5 -2h0m1 1h0m6 -2h0m0.5 -1.5h0m-5 5h0"/></defs><use href="#q12" stroke-width="6" stroke-opacity=".5"/><use href="#q12" stroke-width="4.4"/></g><g fill="none" stroke="#e080ff" stroke-linecap="round"><path d="M1500.5 1580h0m5.5 0h0m5.5 0h0m-25 4.5h0m5.5 0h0m5.5 0h0m5.5 0h0m5.5 0h0m6 0h0m-20 5h0m6 0h0m5.5 0h0m5.5 0h0m-25 5h0m5.5 0h0m5.5 0h0m5.5 0h0m5.5 0h0m-19.5 5h0m5.5 0h0m3 4.5h0m3 -4.5h0m2.5 4.5h0m3 -4.5h0m2.5 4.5h0" stroke-width="8.6"/><defs><path id="q13" d="M1505 1573h0m1 1h0m2 0.5h0m5 -0.5h0m0 0h0m0.5 -1h0m0 1.5h0m0 0.5h0m-30 4.5h0m1 0h0m3.5 0.5h0m0.5 0.5h0m4.5 -4.5h0m1.5 5h0m4 -5.5h0m0 4h0m0 -3.5h0m3.5 5h0m1 -5h0m0 2.5h0m2.5 -3h0m0.5 3.5h0m2 0h0m1 -1.5h0m1.5 -1.5h0m3.5 0.5h0m0.5 1h0m0.5 1.5h0m1 -1.5h0m1 2.5h0m-35.5 4h0m1 -0.5h0m1 1h0m1.5 -1.5h0m1 -1h0m0 3.5h0m1 1.5h0m1 -4h0m0.5 1.5h0m1.5 -1.5h0m0 -1.5h0m4.5 2h0m2 0.5h0m0 -3h0m0.5 4.5h0m0 -3.5h0m0.5 -0.5h0m2.5 4h0m3 -1h0m0 -0.5h0m2.5 2h0m4.5 -3h0m0 -1h0m0 -0.5h0m2 1h0m0.5 0h0m1.5 3h0m0 -1.5h0m2.5 -2.5h0m1 -0.5h0m0.5 5.5h0m1 0h0m-37 5.5h0m1.5 1h0m0 -5.5h0m3 -0.5h0m8.5 5h0m3.5 -1h0m0 0.5h0m8 1h0m0.5 -3.5h0m1 -1h0m0.5 2.5h0m1.5 -1.5h0m1.5 2.5h0m6 0h0m1 0.5h0m2 -5h0m-40 8h0m0.5 -1h0m0.5 0.5h0m2.5 3.5h0m0.5 0.5h0m2 -2.5h0m2.5 -2h0m2.5 2h0m1.5 -1h0m1 2h0m0.5 -1h0m0.5 -2.5h0m1 3h0m3.5 -1.5h0m1.5 -0.5h0m0.5 3h0m0.5 1.5h0m1.5 -5h0m2 0.5h0m0 3.5h0m0.5 -1h0m3.5 1.5h0m2.5 -3h0m0.5 0h0m2 -0.5h0m0.5 -1h0m1 2h0m0.5 -2h0m-35.5 10h0m1 -4.5h0m1.5 3.5h0m0 -3h0m1.5 0.5h0m0.5 3.5h0m1.5 -2.5h0m0.5 0h0m0 3.5h0m4 -1.5h0m3 -1.5h0m0.5 0.5h0m0.5 -1.5h0m3 2.5h0m0.5 -3h0m3.5 -1h0m0.5 0.5h0m2 1.5h0m2 1.5h0m0.5 1h0m0.5 -1.5h0m2 -2h0m1 3.5h0m2.5 0h0m-29 1h0m12 1.5h0m1.5 1h0m3.5 0h0m1 0h0m7 2.5h0m0 1h0m1.5 -4.5h0m2 1.5h0m3 0h0m2.5 1.5h0"/></defs><use href="#q13" stroke-width="6" stroke-opacity=".5"/><use href="#q13" stroke-width="4.4"/></g><g fill="none" stroke="#99ff80" stroke-linecap="round"><path d="M1425.5 1760h0m5.5 0h0m5.5 0h0m3 -5h0m5.5 0h0m3 5h0m2.5 -5h0m3 5h0m3 -5h0m2.5 5h0m3 -5h0m8.5 5h0m-53.5 5h0m5.5 0h0m6 0h0m5.5 0h0m5.5 0h0m5.5 0h0m5.5 0h0m6 0h0m5.5 0h0m5.5 0h0m5.5 0h0m-64.5 5h0m6 0h0m11 0h0m5.5 0h0m5.5 0h0m6 0h0m5.5 0h0m16.5 0h0m6 0h0m5.5 0h0m-81.5 4.5h0m6 0h0m5.5 0h0m5.5 0h0m5.5 0h0m5.5 0h0m6 0h0m5.5 0h0m16.5 0h0m6 0h0m5.5 0h0m11 0h0m-89.5 10h0m5.5 0h0m3 -5h0m2.5 5h0m3 -5h0m3 5h0m5.5 0h0m2.5 -5h0m3 5h0m3 -5h0m2.5 5h0m3 -5h0m2.5 5h0m3 -5h0m3 5h0m2.5 -5h0m3 5h0m2.5 -5h0m3 5h0m3 -5h0m2.5 5h0m3 -5h0m2.5 5h0m6 0h0m2.5 -5h0m3 5h0m2.5 -5h0m3 5h0m5.5 0h0m3 -5h0m2.5 5h0m-103.5 5h0m5.5 0h0m6 0h0m5.5 0h0m5.5 0h0m5.5 0h0m5.5 0h0m11.5 0h0m5.5 0h0m5.5 0h0m5.5 0h0m11.5 0h0m5.5 0h0m5.5 0h0m5.5 0h0m6 0h0m5.5 0h0m-92.5 4.5h0m5.5 0h0m11.5 0h0m5.5 0h0m5.5 0h0m5.5 0h0m5.5 0h0m6 0h0m5.5 0h0m5.5 0h0m5.5 0h0m5.5 0h0m6 0h0m5.5 0h0m5.5 0h0m5.5 0h0m-86.5 5h0m5.5 0h0m5.5 0h0m5.5 0h0m5.5 0h0m6 0h0m5.5 0h0m5.5 0h0m11 0h0m6 0h0m5.5 0h0m11 0h0m5.5 0h0m6 0h0m-81.5 5h0m5.5 0h0m3 4.5h0m3 -4.5h0m2.5 4.5h0m3 -4.5h0m2.5 4.5h0m3 -4.5h0m3 4.5h0m2.5 -4.5h0m3 4.5h0m2.5 -4.5h0m3 4.5h0m5.5 0h0m3 -4.5h0m2.5 4.5h0m3 -4.5h0m3 4.5h0m2.5 -4.5h0m5.5 0h0m3 4.5h0m3 -4.5h0m2.5 4.5h0m3 -4.5h0m2.5 4.5h0m3 -4.5h0m3 4.5h0m2.5 -4.5h0m-72.5 9.5h0m5.5 0h0m5.5 0h0m5.5 0h0m5.5 0h0m11.5 0h0m5.5 0h0m5.5 0h0m5.5 0h0m6 0h0m5.5 0h0m-47.5 5h0m5.5 0h0m5.5 0h0m5.5 0h0m5.5 0h0m6 0h0m5.5 0h0m5.5 0h0m5.5 0h0m-36.5 5h0m6 0h0m5.5 0h0m5.5 0h0m5.5 0h0m5.5 0h0m-14 4.5h0m6 0h0m5.5 0h0" stroke-width="8.6"/><defs><path id="q14" d="M1451.5 1749h0m6 -0.5h0m24 -3h0m-52 9.5h0m0 0h0m0 0h0m2.5 -2h0m0 0.5h0m0 1h0m1.5 -2h0m1 -1.5h0m1 3h0m1 0h0m1 -1h0m0 0h0m2 0.5h0m2 -3h0m3.5 4h0m1 -0.5h0m0.5 -3h0m0 -1h0m1 1.5h0m0.5 0.5h0m0.5 -1.5h0m0 0h0m1 3.5h0m2.5 -1h0m0.5 1h0m0.5 -4.5h0m1.5 3.5h0m2 0h0m0.5 0h0m4.5 -3h0m4.5 4.5h0m-49.5 6h0m1 0.5h0m2 -1h0m1 -4h0m2 0h0m2 -1h0m4 1.5h0m1 1h0m2 0h0m1 0h0m2.5 -1.5h0m2 1h0m0 0h0m0.5 -0.5h0m2.5 0.5h0m2.5 4h0m5.5 -5h0m2.5 0.5h0m3.5 0h0m0.5 1h0m1.5 2h0m2 0.5h0m1 -3h0m3.5 -1.5h0m3.5 5.5h0m4 -2h0m3 0h0m1 -1h0m0.5 2h0m0 -3h0m1.5 2.5h0m-73.5 7h0m8.5 0h0m0.5 -4h0m1 0.5h0m0.5 0h0m0.5 -2h0m1 5h0m3.5 0h0m2 -0.5h0m0 0.5h0m1.5 0h0m0 1h0m2 -2.5h0m0 -2.5h0m4.5 -0.5h0m0.5 4.5h0m0.5 -4h0m3 -0.5h0m3 4.5h0m1 -2.5h0m2.5 2h0m0 -4h0m1 2h0m1.5 0h0m0.5 0.5h0m1 -2h0m0.5 5h0m0 -6h0m4 5h0m3 -4h0m0.5 0h0m1.5 2h0m1.5 1.5h0m1.5 -4h0m0.5 3h0m2 0h0m1 -1h0m1.5 -1h0m1 4.5h0m1 -1.5h0m0.5 -3.5h0m5 3h0m0.5 -1h0m0.5 1.5h0m1.5 -0.5h0m0.5 0.5h0m0.5 -4h0m1.5 1h0m0.5 1.5h0m2 -2.5h0m2 2h0m0 1h0m-90 8h0m0.5 -0.5h0m1.5 -0.5h0m3 0h0m2.5 -1.5h0m0 0.5h0m1 -1h0m5 -1h0m1 1.5h0m4 -1.5h0m4.5 1.5h0m2 2h0m6 -5h0m1.5 2h0m1 -0.5h0m1 -0.5h0m1.5 5h0m2 -0.5h0m2 -3h0m2 -0.5h0m1 -0.5h0m1 3.5h0m3 -2h0m0.5 2h0m1 0.5h0m3.5 -5h0m0.5 4h0m0 -4h0m3.5 4h0m0.5 -4.5h0m0 1h0m1.5 2h0m0.5 -2h0m3 3.5h0m0.5 -0.5h0m0.5 0.5h0m0 -4h0m0.5 2.5h0m0 -1h0m0 2h0m4 0h0m0 -2.5h0m1.5 1.5h0m0.5 -1h0m7.5 1.5h0m2.5 -2h0m0 3h0m0.5 -4h0m1.5 3.5h0m2 -2h0m0.5 0.5h0m0 2.5h0m2 0h0m2 -4.5h0m1.5 3.5h0m1 0.5h0m0.5 -2h0m4 0h0m-98 6.5h0m0 2h0m2 -1.5h0m0.5 -0.5h0m0.5 -1.5h0m1 2.5h0m0.5 -3.5h0m0.5 0.5h0m0 2.5h0m0.5 -2.5h0m1.5 3.5h0m0.5 1h0m1 -0.5h0m0.5 -1.5h0m0.5 0h0m0.5 1.5h0m0.5 0h0m0 -2.5h0m2.5 2.5h0m4 1h0m3 -3.5h0m1 -0.5h0m0.5 0.5h0m2 -1h0m1.5 -0.5h0m1.5 3.5h0m0.5 -1h0m1 0h0m2 0h0m1 -3h0m0 3.5h0m4.5 1h0m3.5 -4h0m0 1.5h0m5 -2h0m4 4.5h0m1 -3.5h0m0.5 3.5h0m1.5 -3.5h0m0.5 -1h0m0 5.5h0m1 -1h0m2.5 -3.5h0m0 2.5h0m1.5 -1.5h0m0.5 -1.5h0m4.5 2h0m0.5 1h0m6 1.5h0m2.5 -1h0m0 -4.5h0m0.5 2h0m4.5 -0.5h0m6.5 3h0m1 -2h0m0.5 -2.5h0m0.5 2.5h0m0 3.5h0m0.5 -3h0m0.5 1.5h0m1 0.5h0m0 -0.5h0m1.5 1.5h0m0 -1h0m1.5 -1.5h0m1 -1h0m2.5 -1h0m1 -1h0m2.5 3.5h0m3.5 -0.5h0m-108 6h0m1 1.5h0m4 0.5h0m0 -0.5h0m1.5 1h0m1 -3h0m0 -3h0m1.5 3h0m2.5 -1.5h0m4.5 -1.5h0m2.5 3h0m7 1.5h0m0.5 -2h0m2 0.5h0m1 0.5h0m0.5 0.5h0m7 -3h0m1 0.5h0m0.5 4.5h0m0.5 -4.5h0m0 0h0m0 -1h0m0.5 4h0m0 -4h0m0 1h0m1 -0.5h0m0.5 3.5h0m1 0h0m0.5 0h0m0.5 -4.5h0m3 2h0m2.5 -0.5h0m0.5 4.5h0m1.5 -1.5h0m1.5 -1h0m1 0h0m0 -2h0m4.5 -0.5h0m0.5 0.5h0m1.5 0h0m2 -1h0m3.5 4.5h0m1 -4.5h0m4 1.5h0m0.5 0.5h0m4 2h0m3.5 -1h0m2 -1h0m4 -2.5h0m0.5 3.5h0m0.5 1.5h0m3 -1.5h0m2 0.5h0m1 1h0m0 -1.5h0m1 0.5h0m0 -2.5h0m0 0.5h0m2 1.5h0m0 -2h0m6 -1h0m1.5 2h0m1.5 -0.5h0m1 -1.5h0m1 1.5h0m1.5 3.5h0m0.5 -3.5h0m0.5 3.5h0m0 -3h0m0 2.5h0m0 -2h0m-109.5 6h0m0.5 0.5h0m4 1.5h0m1 -3h0m1.5 3h0m0 -2h0m2 2.5h0m1.5 -3h0m1 0.5h0m2 2h0m1 0.5h0m2 -0.5h0m0 0h0m0 0.5h0m0.5 -3h0m1 -2h0m3 5.5h0m2.5 -1.5h0m2 -2h0m3.5 -1.5h0m0 0.5h0m1.5 3h0m1.5 -1h0m2.5 1.5h0m1 0.5h0m0.5 -2h0m2 -3h0m1.5 5h0m3.5 -1.5h0m0.5 -0.5h0m1 1.5h0m1.5 -1.5h0m0.5 0h0m2 0.5h0m1.5 0.5h0m0.5 -1.5h0m0 2.5h0m2.5 -5h0m2.5 2.5h0m8 -2h0m0.5 3h0m1.5 0h0m0 0h0m2 1h0m1 -0.5h0m2.5 -0.5h0m1.5 -2.5h0m0.5 4.5h0m0 -4.5h0m3 3h0m0 1.5h0m3.5 -1.5h0m1 -1.5h0m1 1h0m0 -1.5h0m1 0.5h0m3.5 2h0m0.5 0h0m1.5 -2h0m0 2.5h0m2.5 -5.5h0m1 3.5h0m6 0.5h0m1.5 -0.5h0m4.5 -2h0m0 2.5h0m1 -0.5h0m0.5 2h0m1 -0.5h0m2 0.5h0m0.5 0h0m0 -2.5h0m0 -1.5h0m0 0h0m3.5 1h0m-111.5 5.5h0m1.5 -2h0m2 2.5h0m0 -1.5h0m2 4h0m2.5 -3h0m2 0h0m0.5 -1h0m0.5 -0.5h0m2.5 3.5h0m0 -4h0m0 0.5h0m1 3.5h0m0.5 -2.5h0m0.5 4h0m1 -5.5h0m0 5h0m1 -4h0m1.5 0.5h0m3.5 4.5h0m2 -2h0m2 1.5h0m0 -1.5h0m2 0.5h0m4 -1.5h0m0.5 2.5h0m0 -5.5h0m0.5 1h0m4 2.5h0m1 -3.5h0m4 2.5h0m2.5 1h0m0.5 -0.5h0m2 -1h0m0.5 2h0m0 1h0m2.5 -1h0m0.5 -3.5h0m0 3h0m3 -2.5h0m0 0h0m1 1.5h0m1.5 0.5h0m0 -1.5h0m2 -1h0m0.5 1h0m0 4h0m0.5 -0.5h0m0.5 -4.5h0m2.5 3h0m0 0h0m0.5 -1.5h0m3 2.5h0m3 -4.5h0m3 0.5h0m0 0h0m6.5 3.5h0m1 0h0m7 -0.5h0m3.5 0h0m1 2.5h0m2 -3.5h0m1.5 1.5h0m4 1.5h0m1.5 -1.5h0m0 -4h0m2 5.5h0m2 0h0m2 -4h0m1.5 3.5h0m3.5 -5h0m0.5 2h0m-108.5 5h0m6.5 0.5h0m0.5 2.5h0m1 -2.5h0m2.5 1h0m0 0h0m0 2.5h0m1 -0.5h0m3 -2h0m0 0h0m0.5 -1h0m1.5 4h0m0.5 -2h0m3.5 -2.5h0m0.5 3h0m1.5 -1h0m1 2h0m0.5 -1.5h0m4.5 2h0m0.5 -1.5h0m0.5 1h0m2.5 -1.5h0m0.5 0.5h0m0.5 -1.5h0m1 0h0m2 -2.5h0m3.5 5h0m2.5 -3.5h0m2 2h0m0.5 -3h0m0.5 3.5h0m0.5 0h0m4 1.5h0m0.5 -0.5h0m11 -0.5h0m0.5 -2.5h0m2.5 2.5h0m1 -2.5h0m3.5 2.5h0m0.5 -4h0m0 0h0m1 2h0m0.5 0.5h0m2 0.5h0m0 -2.5h0m2 3h0m4.5 1.5h0m2 -3.5h0m1.5 2h0m0 1h0m1.5 -2h0m1 -0.5h0m1.5 -1h0m2 0h0m1 1.5h0m0 3h0m2.5 -5h0m0.5 4.5h0m0.5 -0.5h0m0 -4.5h0m3 0.5h0m1.5 4h0m1.5 -4.5h0m3.5 3.5h0m2 -1.5h0m0.5 -2h0m0 2h0m0 0.5h0m-99.5 4h0m2.5 2h0m0.5 -2.5h0m6 5h0m2 -2h0m0.5 -3h0m2 0h0m1 2h0m0.5 3.5h0m0.5 -3.5h0m5 3h0m3 0.5h0m1.5 -1h0m0.5 -3h0m0.5 1.5h0m0.5 0.5h0m0 -1.5h0m0 -0.5h0m0.5 0.5h0m8 0h0m1 2.5h0m5 0h0m0 0h0m0 -2h0m0.5 0.5h0m5.5 0.5h0m7.5 0.5h0m0 1h0m0 -5h0m2 1h0m0 1h0m1 2.5h0m1 -2.5h0m4.5 2.5h0m0.5 -0.5h0m3 0h0m0 -4.5h0m3 2h0m5.5 2.5h0m0.5 -4.5h0m2 3.5h0m1 -3.5h0m0 3.5h0m1.5 -1.5h0m1 2h0m2.5 -2h0m1.5 0.5h0m0 -0.5h0m1 0h0m0 0h0m1 0h0m2 3.5h0m2 -4h0m0.5 1h0m1.5 -1h0m0.5 2h0m0 0.5h0m0.5 0h0m0.5 1.5h0m3 -2h0m-88 7h0m0.5 -0.5h0m0 -1h0m1.5 2.5h0m0.5 -1.5h0m0 -1.5h0m0.5 -2.5h0m0.5 1h0m0 4.5h0m5.5 -5h0m0 3.5h0m1.5 0.5h0m4 -4h0m0 5.5h0m1.5 -3.5h0m0 3h0m0.5 -3.5h0m8 -2h0m0.5 1h0m2 2.5h0m1.5 -0.5h0m0 -3h0m1 6h0m0 -5h0m0 4.5h0m0.5 -3h0m1 0.5h0m0.5 -2h0m1.5 4.5h0m5.5 -2.5h0m0.5 2h0m0.5 -2h0m2.5 1h0m4.5 -2h0m1 1h0m2.5 2.5h0m0 -3h0m2 2h0m0 -3h0m2 -1h0m0 -0.5h0m0.5 0.5h0m3.5 4h0m0 -2h0m1.5 1.5h0m1 -2.5h0m2 1.5h0m2.5 -1h0m0.5 3h0m2 -4.5h0m0 3h0m1.5 -3.5h0m3.5 2.5h0m0 -1h0m2 0h0m3 1.5h0m3.5 -1h0m-73.5 8.5h0m3.5 -4h0m1.5 3.5h0m2.5 0h0m1.5 -0.5h0m2 -3.5h0m0.5 4h0m3 1h0m0.5 0.5h0m0.5 0.5h0m0.5 -4.5h0m2 1h0m3 -2h0m2 5h0m0 -0.5h0m0.5 0h0m0.5 -3h0m1 2.5h0m5.5 -2.5h0m1 2h0m1.5 -2.5h0m0 1.5h0m2 2.5h0m0 -4h0m2 1h0m0.5 0h0m0.5 -2h0m0.5 1h0m1.5 3.5h0m1 -2h0m1 -1h0m2.5 -2h0m0.5 0.5h0m0 1h0m0.5 3h0m1 0h0m2 -2.5h0m0 3h0m4.5 -4.5h0m0.5 0h0m1 0.5h0m0.5 4h0m0.5 0h0m1 -2.5h0m1 2.5h0m1 0.5h0m1 -2.5h0m1.5 1h0m0.5 -1h0m0 -2.5h0m1.5 5h0m0.5 -1.5h0m2 0.5h0m0.5 -2h0m-59.5 4h0m1.5 1.5h0m6 1.5h0m1 -2.5h0m1 2.5h0m4 -0.5h0m1 -2.5h0m2.5 2.5h0m5 0h0m0.5 0.5h0m2 1h0m0 -1.5h0m1.5 1h0m2 -3.5h0m2 2.5h0m2.5 2.5h0m0 -1.5h0m0.5 1.5h0m1 -1h0m1 -1.5h0m1 -3h0m0.5 5.5h0m2 -4h0m0.5 -0.5h0m3 1.5h0m0.5 0.5h0m3 2h0m0 -3h0m0.5 0.5h0m4.5 2.5h0m0.5 -1h0m2 -2.5h0m1.5 1h0m1.5 -2.5h0m-35 7h0m0 0.5h0m6.5 3h0m0.5 -2.5h0m0.5 3h0m0.5 0h0m0.5 -4.5h0m2 1h0m2 1.5h0m0.5 3h0m0.5 -2.5h0m0 -0.5h0m0.5 -0.5h0m0.5 -1.5h0m1 4.5h0m0.5 -5h0m0.5 5.5h0m0 -2.5h0m1.5 -1.5h0m0.5 -1.5h0m0.5 4h0m2 -4h0m1.5 3h0m2 -1.5h0m0 0h0m1 1.5h0m2.5 -2h0m1.5 0h0m-22 4.5h0m5 0.5h0m0.5 0.5h0m4.5 -0.5h0"/></defs><use href="#q14" stroke-width="6" stroke-opacity=".5"/><use href="#q14" stroke-width="4.4"/></g><g fill="none" stroke="#e0ff80" stroke-linecap="round"><path d="M1504.5 1750.5h0m-2.5 5h0m2.5 4.5h0m3 -4.5h0m-5.5 9.5h0m11 0h0m5.5 0h0m-14 5h0m6 0h0m5.5 0h0m5.5 0h0m5.5 0h0m-19.5 5h0m5.5 0h0m5.5 0h0m6 0h0m5.5 0h0m-22.5 9.5h0m3 -5h0m2.5 5h0m3 -5h0m2.5 5h0m3 -5h0m3 5h0m2.5 -5h0m-11 10h0m5.5 0h0" stroke-width="8.6"/><defs><path id="q15" d="M1496 1748.5h0m3 -2h0m1 -2h0m0.5 4.5h0m1 -0.5h0m0.5 -3h0m3.5 1.5h0m0.5 2h0m2 0h0m-13 2h0m2 0.5h0m0.5 2.5h0m1 -0.5h0m0 -3h0m1 4h0m0.5 0.5h0m0 -4h0m7 -1.5h0m1.5 2.5h0m1 2.5h0m0.5 -4h0m1 1h0m-11 9h0m1.5 -2h0m0 -2h0m2 -0.5h0m0.5 4h0m0 -4h0m0.5 -1h0m0 0.5h0m0.5 2.5h0m2 -1h0m4 4h0m2 -2h0m0 0h0m1 2h0m3.5 -1.5h0m-21 2.5h0m1 4.5h0m0 -1.5h0m2 1.5h0m1.5 -5.5h0m0.5 0.5h0m1 3.5h0m0.5 -2.5h0m1.5 0h0m0.5 1.5h0m4 1.5h0m3 -3h0m0.5 0h0m0 -1h0m0.5 2.5h0m0 1.5h0m4 0.5h0m1 -3h0m0.5 2.5h0m0 1h0m1 -5h0m0 0h0m5 3h0m0 0h0m-26.5 6h0m1 -2h0m2.5 0.5h0m0.5 2.5h0m1 -1.5h0m1 1h0m1 1.5h0m0.5 -0.5h0m2.5 -4h0m0 1h0m3.5 -1.5h0m0.5 3h0m4 0h0m5.5 1.5h0m0.5 -1.5h0m0.5 2h0m1 -4.5h0m4.5 2h0m2.5 -2h0m1 4h0m5 0.5h0m-35.5 5h0m1.5 -2.5h0m3 3h0m4 -2h0m0.5 -1h0m0 0h0m2 0.5h0m3.5 -0.5h0m4.5 0.5h0m1.5 1h0m0.5 -3.5h0m5 5h0m5 -2.5h0m0.5 0h0m1 0h0m1.5 0h0m3.5 -2h0m-35 10.5h0m1 -3.5h0m0.5 1h0m0 0h0m0 0.5h0m3.5 -1.5h0m1 1h0m6.5 3.5h0m5.5 -4h0m0 -0.5h0m1 2h0m2 -0.5h0m2 -3h0m0 2.5h0m1 -2h0m1 4h0m1.5 -1.5h0m4.5 -0.5h0m-29.5 4h0m3 4.5h0m0.5 -4.5h0m2.5 5h0m2 -4.5h0m1.5 3h0m1 2h0m1.5 -1h0m3 -2h0m0.5 -2h0m2.5 1h0m3.5 -0.5h0m0.5 -1h0m1 3.5h0m2.5 -1h0m0 0h0m-20.5 5h0m0.5 -1.5h0m1 0h0m0.5 1h0m0.5 2.5h0m0 0h0m0.5 0.5h0m1.5 -3h0m0.5 -1h0m0.5 3h0m2 -3h0m7.5 3.5h0m0.5 0.5h0m0.5 -2.5h0m2.5 -1h0"/></defs><use href="#q15" stroke-width="6" stroke-opacity=".5"/><use href="#q15" stroke-width="4.4"/></g><g fill="none" stroke="#ff8080" stroke-linecap="round"><path d="M1359.5 1652h0m3 -5h0m3 5h0m2.5 -5h0m3 5h0m2.5 -5h0m3 5h0m5.5 0h0m5.5 0h0m11.5 0h0m5.5 0h0m3 -5h0m5.5 0h0m2.5 5h0m3 -5h0m5.5 0h0m3 5h0m2.5 -5h0m3 5h0m3 -5h0m2.5 5h0m5.5 0h0m-86.5 5h0m5.5 0h0m5.5 0h0m5.5 0h0m6 0h0m11 0h0m5.5 0h0m5.5 0h0m6 0h0m5.5 0h0m5.5 0h0m5.5 0h0m11.5 0h0m5.5 0h0m-87 5h0m5.5 0h0m6 0h0m5.5 0h0m5.5 0h0m5.5 0h0m11.5 0h0m5.5 0h0m5.5 0h0m5.5 0h0m5.5 0h0m6 0h0m5.5 0h0m5.5 0h0m5.5 0h0m5.5 0h0m-92 4.5h0m5.5 0h0m5.5 0h0m5.5 0h0m5.5 0h0m6 0h0m5.5 0h0m5.5 0h0m5.5 0h0m5.5 0h0m6 0h0m11 0h0m5.5 0h0m11.5 0h0m-90 10h0m3 -5h0m3 5h0m2.5 -5h0m5.5 0h0m3 5h0m3 -5h0m2.5 5h0m3 -5h0m2.5 5h0m3 -5h0m3 5h0m2.5 -5h0m3 5h0m2.5 -5h0m3 5h0m3 -5h0m2.5 5h0m3 -5h0m2.5 5h0m6 0h0m2.5 -5h0m3 5h0m2.5 -5h0m3 5h0m3 -5h0m2.5 5h0m3 -5h0m5.5 0h0m3 5h0m2.5 -5h0m3 5h0m2.5 -5h0m3 5h0m3 -5h0m-106.5 10h0m5.5 0h0m5.5 0h0m5.5 0h0m11.5 0h0m5.5 0h0m5.5 0h0m5.5 0h0m6 0h0m5.5 0h0m5.5 0h0m11 0h0m6 0h0m5.5 0h0m5.5 0h0m5.5 0h0m5.5 0h0m6 0h0m-104 4.5h0m6 0h0m5.5 0h0m5.5 0h0m5.5 0h0m5.5 0h0m6 0h0m5.5 0h0m5.5 0h0m5.5 0h0m5.5 0h0m6 0h0m11 0h0m5.5 0h0m5.5 0h0m6 0h0m5.5 0h0m-103.5 5h0m5.5 0h0m11 0h0m11.5 0h0m5.5 0h0m11 0h0m5.5 0h0m6 0h0m5.5 0h0m5.5 0h0m11 0h0m6 0h0m11 0h0m5.5 0h0m5.5 0h0m6 0h0m-118 10h0m3 -5h0m3 5h0m2.5 -5h0m3 5h0m2.5 -5h0m3 5h0m3 -5h0m5.5 0h0m2.5 5h0m3 -5h0m3 5h0m2.5 -5h0m3 5h0m5.5 0h0m3 -5h0m5.5 0h0m2.5 5h0m3 -5h0m3 5h0m2.5 -5h0m3 5h0m2.5 -5h0m3 5h0m3 -5h0m2.5 5h0m3 -5h0m2.5 5h0m3 -5h0m3 5h0m2.5 -5h0m3 5h0m2.5 -5h0m3 5h0m3 -5h0m2.5 5h0m3 -5h0m2.5 5h0m3 -5h0m3 5h0m2.5 -5h0m-123 9.5h0m5.5 0h0m5.5 0h0m5.5 0h0m6 0h0m5.5 0h0m5.5 0h0m11 0h0m6 0h0m5.5 0h0m5.5 0h0m5.5 0h0m5.5 0h0m6 0h0m5.5 0h0m5.5 0h0m5.5 0h0m5.5 0h0m6 0h0m5.5 0h0m5.5 0h0m5.5 0h0m-126 5h0m5.5 0h0m6 0h0m5.5 0h0m5.5 0h0m5.5 0h0m5.5 0h0m6 0h0m5.5 0h0m5.5 0h0m17 0h0m5.5 0h0m5.5 0h0m5.5 0h0m11.5 0h0m5.5 0h0m11 0h0m5.5 0h0m6 0h0m5.5 0h0m-131.5 5h0m5.5 0h0m5.5 0h0m5.5 0h0m5.5 0h0m11.5 0h0m11 0h0m5.5 0h0m6 0h0m16.5 0h0m5.5 0h0m6 0h0m5.5 0h0m5.5 0h0m5.5 0h0m5.5 0h0m6 0h0m5.5 0h0m5.5 0h0m5.5 0h0m-131.5 5h0m5.5 0h0m5.5 0h0m6 0h0m5.5 0h0m5.5 0h0m11 0h0m6 0h0m5.5 0h0m5.5 0h0m11 0h0m6 0h0m5.5 0h0m5.5 0h0m5.5 0h0m5.5 0h0m6 0h0m5.5 0h0m5.5 0h0m5.5 0h0m5.5 0h0m6 0h0m5.5 0h0m-140 9.5h0m2.5 -5h0m3 5h0m3 -5h0m5.5 0h0m2.5 5h0m6 0h0m2.5 -5h0m3 5h0m2.5 -5h0m3 5h0m3 -5h0m2.5 5h0m5.5 0h0m3 -5h0m3 5h0m2.5 -5h0m5.5 0h0m3 5h0m3 -5h0m5.5 0h0m2.5 5h0m3 -5h0m3 5h0m2.5 -5h0m3 5h0m2.5 -5h0m3 5h0m3 -5h0m2.5 5h0m3 -5h0m5.5 0h0m3 5h0m2.5 -5h0m3 5h0m2.5 -5h0m3 5h0m8.5 -5h0m5.5 0h0m3 5h0m2.5 -5h0m3 5h0m2.5 -5h0m-145.5 10h0m5.5 0h0m6 0h0m5.5 0h0m5.5 0h0m5.5 0h0m5.5 0h0m6 0h0m5.5 0h0m5.5 0h0m5.5 0h0m17 0h0m5.5 0h0m5.5 0h0m5.5 0h0m6 0h0m5.5 0h0m5.5 0h0m5.5 0h0m5.5 0h0m6 0h0m5.5 0h0m5.5 0h0m5.5 0h0m5.5 0h0m-148 5h0m5.5 0h0m5.5 0h0m5.5 0h0m11.5 0h0m5.5 0h0m5.5 0h0m5.5 0h0m5.5 0h0m6 0h0m5.5 0h0m5.5 0h0m5.5 0h0m5.5 0h0m6 0h0m5.5 0h0m5.5 0h0m5.5 0h0m5.5 0h0m6 0h0m5.5 0h0m5.5 0h0m5.5 0h0m5.5 0h0m-154 4.5h0m6 0h0m5.5 0h0m5.5 0h0m5.5 0h0m5.5 0h0m6 0h0m5.5 0h0m11 0h0m5.5 0h0m6 0h0m5.5 0h0m5.5 0h0m5.5 0h0m5.5 0h0m6 0h0m11 0h0m5.5 0h0m5.5 0h0m6 0h0m5.5 0h0m5.5 0h0m5.5 0h0m5.5 0h0m6 0h0m-132 5h0m3 5h0m3 -5h0m2.5 5h0m3 -5h0m2.5 5h0m3 -5h0m3 5h0m5.5 0h0m2.5 -5h0m3 5h0m3 -5h0m2.5 5h0m3 -5h0m2.5 5h0m3 -5h0m3 5h0m2.5 -5h0m3 5h0m2.5 -5h0m8.5 5h0m3 -5h0m2.5 5h0m3 -5h0m3 5h0m2.5 -5h0m3 5h0m2.5 -5h0m3 5h0m3 -5h0m5.5 0h0m2.5 5h0m3 -5h0m3 5h0m2.5 -5h0m3 5h0m2.5 -5h0m6 0h0m-112 9.5h0m5.5 0h0m5.5 0h0m11 0h0m6 0h0m11 0h0m5.5 0h0m5.5 0h0m6 0h0m5.5 0h0m5.5 0h0m5.5 0h0m5.5 0h0m6 0h0m-59 5h0m11 0h0m6 0h0m5.5 0h0m5.5 0h0m5.5 0h0m5.5 0h0m6 0h0m-53.5 5h0m5.5 0h0m6 0h0m16.5 0h0m5.5 0h0m6 0h0m5.5 0h0m-36.5 5h0m5.5 0h0m11.5 0h0m5.5 0h0m5.5 0h0" stroke-width="8.6"/><defs><path id="q16" d="M1366.5 1641h0m2 -1h0m54 0h0m1.5 -0.5h0m5.5 0h0m0.5 1h0m5 0.5h0m-80 5h0m1.5 0h0m1 -1h0m0 0h0m3 0.5h0m0 -1h0m0 2h0m0.5 -3h0m0.5 2.5h0m3.5 -3h0m1 -0.5h0m0 3.5h0m1 -2h0m0 1.5h0m0.5 -3h0m0.5 0h0m2 2.5h0m1.5 -3h0m2 1.5h0m1.5 -1.5h0m0 4h0m0 -1h0m1 -0.5h0m7 1.5h0m0 0.5h0m1 -1h0m24.5 1h0m0.5 -3.5h0m1 2.5h0m0.5 -2.5h0m1 -1h0m1 1h0m1 2.5h0m2 -3h0m2 2.5h0m0.5 -3h0m3.5 -1h0m6.5 2h0m0.5 -1.5h0m2.5 4h0m1.5 -4h0m0 3.5h0m2.5 1h0m3 -1h0m3 -3h0m2 1h0m-124.5 9h0m1.5 1h0m5 -2h0m23 2h0m4.5 -5h0m0 0.5h0m1 1h0m4 1.5h0m0 1h0m1.5 -1h0m0.5 0h0m0.5 -1.5h0m1 1h0m6.5 1.5h0m0.5 -3h0m2.5 0h0m3 -1.5h0m0.5 0h0m1 1.5h0m1.5 0.5h0m0.5 -0.5h0m1.5 -2h0m1 0.5h0m0.5 1h0m1.5 1h0m2 3.5h0m1 -0.5h0m0.5 -4.5h0m1.5 1h0m0.5 0h0m0 3h0m0.5 0.5h0m4.5 0h0m3 -4.5h0m0.5 -0.5h0m2 3.5h0m1.5 -1h0m0 -1h0m4 -1h0m2.5 -1h0m6 5h0m0.5 0.5h0m1 -3h0m2 -2.5h0m1.5 4.5h0m0.5 -0.5h0m1.5 -3.5h0m4 0.5h0m0.5 0h0m0 3h0m2.5 1.5h0m1 -1.5h0m0 -2.5h0m1 0.5h0m2 2.5h0m0.5 1h0m1 -3h0m0.5 1h0m0 0.5h0m5 -2.5h0m0 -1.5h0m3 1.5h0m0.5 2h0m3.5 -0.5h0m0 -1h0m1.5 -0.5h0m0.5 3.5h0m2 -1.5h0m0.5 1h0m-136.5 7.5h0m4 -1h0m29.5 1h0m2.5 -2h0m1.5 0h0m7 -1h0m1 1.5h0m0 1h0m1.5 -3h0m0.5 -0.5h0m0.5 -1.5h0m0.5 2h0m0.5 2.5h0m3 -1.5h0m1.5 1.5h0m1.5 0h0m1 0h0m0.5 1h0m4 -3.5h0m1 -1.5h0m1 2h0m1.5 0h0m1 -0.5h0m0.5 -2h0m0.5 0.5h0m0 5h0m0.5 -2h0m0 2h0m1 -4h0m1.5 1.5h0m1.5 -0.5h0m2 0.5h0m0 1.5h0m0.5 -3h0m11.5 1.5h0m1 2h0m1.5 -4.5h0m0.5 0.5h0m2.5 2h0m0.5 -1h0m1 1.5h0m0.5 -2h0m0.5 4h0m0 -1.5h0m0.5 -2.5h0m1 2h0m2.5 -1.5h0m0.5 2h0m1 -2h0m1.5 -0.5h0m0.5 0h0m0 1.5h0m1 1.5h0m4.5 -3.5h0m1.5 3.5h0m1 -0.5h0m0.5 -2h0m1.5 -1.5h0m4.5 2h0m3.5 2h0m0.5 -2.5h0m0 3.5h0m3.5 -4.5h0m2.5 -1h0m0 2.5h0m1 -2h0m1 3.5h0m1.5 0.5h0m2 0h0m0.5 -1h0m1 1.5h0m3.5 -1.5h0m2 -3.5h0m1.5 4h0m0.5 -4.5h0m0.5 1h0m0.5 1.5h0m1 1.5h0m-143.5 7.5h0m0.5 0h0m5.5 -3.5h0m0 1.5h0m4.5 -3h0m5 3.5h0m4.5 -3h0m10.5 5h0m3 -1h0m1 -1h0m5.5 -3.5h0m0.5 3h0m1 1h0m0 -4.5h0m0.5 4.5h0m1.5 -2.5h0m0.5 0h0m1 1h0m2 -2h0m0.5 4h0m1 -4.5h0m1.5 0.5h0m1 3.5h0m4 -3.5h0m0 4.5h0m1.5 -2h0m0 0.5h0m3.5 -3.5h0m0.5 2h0m0.5 0.5h0m2 1h0m6.5 -1.5h0m2 2.5h0m1 -4.5h0m0.5 4h0m1 0.5h0m2.5 -3.5h0m0.5 4.5h0m0 -4h0m0 1h0m1.5 -2h0m4 -0.5h0m1.5 2.5h0m0.5 -2.5h0m2 1h0m3 0.5h0m4.5 -0.5h0m1 3h0m1 -4h0m1.5 4h0m0.5 -1h0m1 1h0m1.5 -4h0m0.5 0.5h0m0 4h0m2 -1h0m0.5 0h0m2 2h0m0.5 -4h0m0.5 -1h0m2 3.5h0m1 -4.5h0m3 0h0m1.5 1h0m3.5 3.5h0m1 1h0m0.5 0.5h0m3 0h0m1 -1.5h0m0 -1h0m0.5 -3.5h0m1 1h0m0.5 3h0m1 -0.5h0m1 1h0m1.5 1.5h0m0.5 -2h0m0 -2h0m0.5 2h0m3 -0.5h0m0.5 -1h0m1.5 0h0m0.5 -1h0m0.5 -1h0m2 5.5h0m1.5 -2.5h0m1 0h0m2 2.5h0m1 -0.5h0m0.5 -2h0m1 0.5h0m-147.5 2.5h0m0.5 4.5h0m11 -3.5h0m3.5 -0.5h0m2.5 1.5h0m9 0.5h0m3 1h0m3.5 0.5h0m3.5 0h0m1 -3h0m0.5 1.5h0m3 -1h0m5 3.5h0m0.5 -5h0m2 4h0m0 0h0m0.5 -1.5h0m1.5 -1.5h0m1 4.5h0m1 -4h0m3 1h0m0 -1h0m1.5 -1.5h0m1 2h0m1 1h0m0 0h0m2.5 -2.5h0m1 3h0m1 -3.5h0m2 -0.5h0m0.5 3h0m1.5 -0.5h0m0.5 0.5h0m0 -1h0m0.5 -2h0m0.5 0h0m0 0.5h0m2 -0.5h0m1 2.5h0m1 -2h0m2.5 3h0m0.5 -1.5h0m4.5 4h0m0.5 -3.5h0m0.5 0.5h0m1 -1h0m1 -1.5h0m0.5 1.5h0m4 1.5h0m0 -1h0m2 3h0m2 -3h0m0.5 2.5h0m1 -0.5h0m2.5 0.5h0m2 0.5h0m0.5 -1h0m0.5 -3h0m0 3h0m2.5 1h0m0 -0.5h0m1.5 -2h0m0.5 0.5h0m3 0.5h0m1 -3.5h0m2 5h0m4 -4.5h0m0.5 3.5h0m1 1.5h0m1 -0.5h0m1 -4h0m3 3h0m5 0h0m1 -4.5h0m0 1h0m1 -0.5h0m0.5 2h0m2 -0.5h0m0 -1h0m0.5 1h0m0.5 -1h0m3.5 1.5h0m0 0.5h0m1 -2h0m1.5 1.5h0m0 3h0m0.5 -5h0m0 1h0m2 -1h0m2.5 3h0m3.5 0.5h0m0.5 -3.5h0m1 5h0m-147.5 3h0m8 -1h0m0.5 1h0m2 3h0m3.5 -1h0m4 -1h0m0.5 1.5h0m9 0h0m6.5 -1h0m1 0.5h0m0 -2h0m3.5 -1.5h0m1 1h0m0 2h0m0.5 -0.5h0m2.5 2h0m0 -0.5h0m0.5 -4h0m0.5 3.5h0m2.5 -0.5h0m1 -3h0m0 0h0m1.5 3.5h0m0.5 -3.5h0m0.5 -0.5h0m0 4h0m1.5 -2.5h0m0.5 0.5h0m2.5 2h0m1.5 -1h0m0 0h0m0.5 1h0m3 -3h0m1 1.5h0m1 -2.5h0m0.5 2.5h0m1 -2.5h0m1.5 4.5h0m3 -5h0m2.5 3.5h0m1 0h0m0 0h0m1.5 -3h0m1.5 3.5h0m0 -1h0m1 2.5h0m0 -2.5h0m4.5 0h0m1 -2h0m0 4.5h0m5.5 -2h0m1 -3h0m1.5 3.5h0m1 -2h0m0.5 3h0m1.5 -1h0m2 0.5h0m0 1.5h0m0.5 -0.5h0m3.5 -4.5h0m0.5 3.5h0m2 -1h0m0.5 -1h0m1 -2h0m1.5 0h0m0.5 2h0m2 2h0m0 -2h0m4 3h0m2.5 -3h0m7.5 -2h0m1.5 3h0m1.5 2h0m1 -2.5h0m1 1h0m2 -1.5h0m0.5 -1.5h0m1.5 4.5h0m0 -1h0m1 -2h0m2.5 3h0m4 -0.5h0m0 -2h0m4.5 2h0m0 -3h0m0.5 -1.5h0m1 -0.5h0m1.5 2h0m2 -1h0m1 4.5h0m0.5 -1h0m2 -3.5h0m0.5 3h0m-141.5 4h0m0.5 -1.5h0m3 4.5h0m9 0.5h0m2.5 -3h0m1 -2.5h0m9.5 2h0m0.5 0.5h0m0 1h0m1.5 -2h0m1 4h0m0.5 -1h0m3.5 -2.5h0m2.5 -1h0m0.5 3.5h0m1 -2h0m2 2h0m0.5 -2h0m0.5 2h0m0.5 -2.5h0m1 0h0m2 1h0m0.5 -3h0m1 4.5h0m1 1.5h0m0.5 -5.5h0m1.5 2.5h0m1.5 -3h0m3 5.5h0m1 0h0m0 -3.5h0m0.5 3.5h0m4 -3h0m0.5 -2h0m0 1.5h0m0.5 1h0m5 -0.5h0m0 -1.5h0m4 2h0m2 -1h0m1.5 -1.5h0m0.5 2.5h0m0.5 0.5h0m8 2h0m2 -0.5h0m2.5 -2.5h0m1.5 2h0m2.5 -2h0m1 -0.5h0m3.5 1.5h0m0.5 -3h0m0 0h0m1 4h0m0.5 -3.5h0m0 3h0m0.5 1h0m2 -3h0m1 0h0m0.5 3.5h0m1.5 -2.5h0m1.5 2.5h0m3.5 -1h0m2 -2.5h0m0.5 3.5h0m2 -4h0m0 -1.5h0m2 1h0m1 2h0m3.5 -2.5h0m2 -0.5h0m1 1.5h0m1 -1h0m2.5 5h0m1.5 -5h0m1.5 5h0m1 -1h0m0.5 -2h0m0.5 2h0m1 -0.5h0m1.5 -2h0m1.5 -1h0m1 -1h0m0.5 3.5h0m3 -2h0m0.5 4h0m3.5 -2h0m0.5 2h0m0.5 0.5h0m-144 1h0m1 3.5h0m0.5 0.5h0m5.5 -0.5h0m1 -2.5h0m1.5 1h0m15 2.5h0m2.5 -4h0m0.5 1h0m1.5 -1h0m2.5 2.5h0m2 -2.5h0m1 3.5h0m1 -1.5h0m0.5 -2h0m2.5 -0.5h0m0 0.5h0m2 -1h0m1.5 2h0m3 1.5h0m2 -4h0m0 2h0m2.5 3.5h0m0.5 0h0m0 -2h0m2.5 0h0m0 -1h0m2 2.5h0m3.5 -1h0m0.5 0.5h0m2 0.5h0m3 -2h0m1 -3h0m0.5 6h0m2 -2.5h0m2.5 -1.5h0m1 2.5h0m1 -3h0m1 3h0m0.5 -4.5h0m3.5 2.5h0m1 2.5h0m1.5 -1.5h0m1 -3.5h0m1 3h0m2 -2.5h0m0.5 2.5h0m2.5 0.5h0m1.5 2h0m1.5 -2.5h0m1 2.5h0m0 -1h0m2.5 -3h0m2.5 3h0m0 -0.5h0m2 1.5h0m1 -3.5h0m1 2.5h0m0.5 0h0m2 -4.5h0m0 2.5h0m8 0h0m1 1.5h0m1 -3.5h0m0 3h0m0 0.5h0m1 -0.5h0m2 -1.5h0m2 -0.5h0m1 0h0m1.5 1h0m0.5 0h0m0.5 -1h0m1.5 4h0m0 -3.5h0m1 3h0m1.5 -4.5h0m0.5 3.5h0m0.5 -0.5h0m2.5 -0.5h0m2 -2.5h0m1 0h0m0.5 4h0m1 -2h0m0.5 0h0m1 1h0m0.5 2h0m2.5 -4h0m3.5 3.5h0m1.5 -1.5h0m2 1h0m1.5 -4h0m1 0h0m-155 7.5h0m8 2.5h0m17.5 -3h0m2.5 2h0m2.5 -3h0m3.5 0.5h0m0 1.5h0m2.5 2h0m2.5 -3h0m6.5 0h0m2 1.5h0m0 -2.5h0m0.5 3h0m1 -2.5h0m1 0h0m0 2h0m1.5 -2.5h0m1 2.5h0m0 1.5h0m0.5 -3.5h0m1.5 4.5h0m0 0.5h0m2 -5h0m3.5 2h0m0 1.5h0m0.5 0.5h0m0 0.5h0m0.5 -4.5h0m0 2.5h0m0.5 -1.5h0m2.5 0.5h0m2.5 -2h0m0.5 3.5h0m0 -0.5h0m3.5 -1.5h0m1 -0.5h0m2.5 -1h0m1 0.5h0m1.5 4.5h0m1 -1.5h0m1 1h0m1 -5h0m1 1.5h0m0 -0.5h0m2.5 2h0m3 -0.5h0m3.5 2h0m2 -1h0m1 0h0m2 0h0m1.5 2.5h0m1.5 -5h0m6 2h0m1.5 -2.5h0m1.5 1h0m0.5 -1h0m1.5 1.5h0m0.5 4h0m2 -0.5h0m0.5 -0.5h0m0 -0.5h0m2 -2.5h0m1.5 3h0m1 -2h0m0 0h0m2 1h0m0 -2h0m2.5 1h0m2 -2.5h0m2 2h0m0 1h0m3 -0.5h0m0 -0.5h0m1.5 -1.5h0m0 0h0m4 3.5h0m0 -3.5h0m3.5 0h0m0.5 1h0m0.5 -2h0m1.5 1.5h0m2.5 -0.5h0m0.5 2h0m0 0.5h0m0.5 -0.5h0m0 1h0m0 -3.5h0m0 2.5h0m0.5 1h0m0 -1h0m1 -2h0m1 1h0m1 3h0m0.5 1h0m2 -6h0m2.5 3.5h0m2 -3.5h0m1 3h0m2 -0.5h0m-151.5 4h0m5.5 1.5h0m5.5 1.5h0m2 -1.5h0m3 2.5h0m0.5 -4h0m1 4h0m1 -2.5h0m2 -0.5h0m0.5 3.5h0m0 -2h0m0.5 -1h0m0 2.5h0m0.5 -4.5h0m2.5 2h0m0 -1h0m0.5 2.5h0m3.5 -2.5h0m1 0h0m1 1h0m3.5 2h0m0.5 -1.5h0m2.5 0.5h0m3.5 1.5h0m0.5 0.5h0m4 1h0m1.5 -4h0m1.5 1.5h0m1 -1.5h0m0.5 3.5h0m2 -4h0m0.5 -0.5h0m2.5 2.5h0m1 -2.5h0m2.5 2.5h0m2.5 -3h0m7 1h0m2 1.5h0m1.5 0h0m1.5 0.5h0m10 -3.5h0m3 2h0m0.5 1h0m0.5 2h0m2.5 -0.5h0m0 -1h0m0.5 2h0m0 0h0m1.5 -3h0m0 -1.5h0m0.5 1.5h0m5.5 -2h0m0.5 3h0m1 0h0m1 1.5h0m0.5 -5h0m2 2h0m0 3.5h0m0.5 -4.5h0m1 3.5h0m0.5 -1h0m0.5 -2h0m2.5 -1h0m0 4h0m1 1.5h0m1 -1h0m0 -2.5h0m4 -1h0m0.5 1h0m1 1.5h0m0.5 1h0m1 -1.5h0m0 2h0m3 -0.5h0m0.5 -3h0m2.5 -1.5h0m2.5 0.5h0m2.5 0h0m0.5 2h0m1 0h0m0 0.5h0m0.5 -0.5h0m0.5 2h0m0.5 -3h0m0 2.5h0m0.5 0h0m1.5 -3.5h0m1.5 -0.5h0m0 0.5h0m2.5 3h0m1.5 -1h0m1 -2.5h0m0 2.5h0m3 -1h0m1 -1.5h0m0.5 1h0m1 -0.5h0m3 4h0m0.5 0.5h0m1.5 -2h0m2.5 -2.5h0m-164 7.5h0m13.5 3.5h0m3.5 -1.5h0m3.5 -4h0m2.5 4h0m1 -2.5h0m3 -0.5h0m0 4.5h0m0 -2.5h0m3 1h0m4.5 -2.5h0m0.5 -1.5h0m0.5 4h0m0.5 -1h0m0 2h0m1 -5h0m1.5 2h0m0.5 0h0m0.5 3.5h0m0 -4h0m1 0h0m4.5 3.5h0m2 -0.5h0m0.5 0h0m0.5 -2h0m0.5 -2h0m1.5 1.5h0m0 2.5h0m2.5 -2h0m1.5 3h0m0 -2.5h0m1.5 -1h0m0.5 3h0m0 -5h0m1.5 4.5h0m3 0.5h0m1.5 -3h0m0.5 3h0m3 -2h0m2.5 -1h0m0.5 -0.5h0m0 2h0m1 1.5h0m1 -1.5h0m2 -2.5h0m0 -1h0m0 -0.5h0m1.5 3h0m0.5 -1h0m0.5 3h0m2 -4.5h0m2.5 2.5h0m1 -1h0m0.5 2.5h0m2.5 0.5h0m1 0.5h0m0 -5h0m0.5 1h0m0.5 1.5h0m4 -2h0m0.5 1.5h0m0 1.5h0m1.5 0.5h0m0.5 1h0m0.5 -1h0m9.5 -3.5h0m4 1.5h0m1 1.5h0m0.5 1h0m1 -3.5h0m0.5 0h0m0.5 -1.5h0m5.5 1h0m2 5h0m0.5 -1h0m0 -3.5h0m1 -0.5h0m1 0h0m0.5 1.5h0m1 2h0m0.5 -4.5h0m1 5.5h0m1.5 0.5h0m0.5 -1.5h0m1 -3.5h0m1.5 2h0m0.5 2.5h0m0 0.5h0m0.5 -2h0m0 0.5h0m3 0h0m4.5 -0.5h0m1 -2.5h0m1 1h0m0 0h0m0.5 1h0m2.5 2h0m3 -2h0m0.5 -1h0m3.5 -1.5h0m1.5 4h0m1.5 -0.5h0m0.5 1h0m2.5 0.5h0m0 -0.5h0m2 -0.5h0m0.5 0.5h0m0 -4h0m0.5 4.5h0m0 -5.5h0m0.5 2h0m1.5 1h0m3 1h0m4 -1h0m-170.5 8h0m1 -5h0m3.5 4.5h0m2 0.5h0m3.5 -1.5h0m3.5 1h0m0 0h0m1.5 -0.5h0m2 0h0m15 -1h0m0.5 0h0m0 2.5h0m1 -5h0m1 4.5h0m0.5 -5h0m0 1.5h0m3 2.5h0m0.5 0h0m5 -2h0m6 0.5h0m4.5 1h0m0.5 1.5h0m2 -2.5h0m2 2h0m0 -3h0m2.5 -1.5h0m0.5 5h0m2 -3.5h0m3.5 2h0m3 1.5h0m1 -4.5h0m2 2.5h0m1 -1.5h0m2 2h0m0.5 -2.5h0m1 2h0m0 1.5h0m0.5 -0.5h0m3 -4.5h0m2.5 0.5h0m2 4.5h0m0.5 -4h0m1 1h0m2.5 3.5h0m3 0h0m0.5 -4h0m0.5 4.5h0m1.5 -3.5h0m0.5 0h0m1.5 -0.5h0m1.5 0.5h0m1 3h0m0 -1.5h0m0 -2.5h0m1 0h0m1.5 0h0m0.5 -1h0m3.5 4.5h0m0.5 -3.5h0m2 4h0m2.5 -3h0m1 1.5h0m0.5 1.5h0m0.5 -0.5h0m0.5 0.5h0m3.5 -1.5h0m0.5 -2h0m0 3h0m8.5 -4.5h0m0.5 4h0m0 -3h0m3 -1.5h0m1.5 3.5h0m0.5 -2.5h0m2.5 1.5h0m0.5 3.5h0m0 -0.5h0m1.5 -2.5h0m1.5 0h0m2.5 0h0m1.5 1h0m2 -3.5h0m2.5 -0.5h0m0 5h0m2.5 -1.5h0m2 -1h0m0 -2h0m1 5.5h0m0.5 -4h0m3.5 -1.5h0m4 5h0m0 -3.5h0m1.5 2.5h0m2 1h0m1 -2h0m2 0h0m1 -1.5h0m1 4h0m0.5 -3.5h0m0.5 3.5h0m-169.5 0.5h0m0.5 4h0m6 -1.5h0m1.5 -2h0m7.5 2h0m11 -1.5h0m3.5 1h0m1.5 -1.5h0m0.5 0h0m1 -0.5h0m4.5 0h0m0.5 1.5h0m0.5 0h0m2 1.5h0m0 2h0m0 -2.5h0m3.5 0.5h0m1 1h0m0 -2.5h0m1 0h0m0 -0.5h0m2.5 0h0m1.5 2h0m1 2.5h0m0.5 0h0m2.5 -3h0m3 0.5h0m4 -1h0m3.5 0.5h0m4 -3h0m2 4.5h0m3.5 1h0m9 -5h0m1 2h0m2 2.5h0m0 -3h0m2.5 2h0m0 1.5h0m0 -4.5h0m2.5 2h0m1.5 0h0m1 -2h0m2.5 2.5h0m3 -2h0m1 -1h0m6 4.5h0m1.5 -2.5h0m0.5 3h0m1.5 0h0m0.5 -0.5h0m0.5 -4.5h0m0 0.5h0m0.5 1h0m1.5 -1h0m0.5 1.5h0m1 2h0m0.5 -3.5h0m1 1.5h0m2.5 -1h0m6 -0.5h0m0.5 3h0m0 -2h0m0.5 3.5h0m2 -1h0m2 -1h0m3.5 1h0m0 -1.5h0m3 2h0m1.5 -1.5h0m2 0h0m1 0h0m2.5 2h0m0.5 -3.5h0m0.5 3.5h0m0.5 -3h0m1.5 -1h0m3.5 0.5h0m0.5 0h0m3.5 -1.5h0m0.5 0.5h0m0.5 1h0m1 -2h0m1 2.5h0m2 3h0m2 0.5h0m1.5 -3h0m1 -1h0m0.5 0h0m0.5 2.5h0m0.5 1h0m0.5 -4h0m1 1.5h0m0 -2.5h0m1.5 0.5h0m0 1.5h0m0.5 -2h0m-171.5 5.5h0m27.5 5h0m4.5 1h0m0 -1h0m1 -1.5h0m0 0h0m2 0.5h0m3.5 -4h0m0 0.5h0m0.5 1h0m0.5 0h0m0 1.5h0m0.5 0.5h0m0 -0.5h0m0 -2h0m1 2h0m1.5 -1h0m1 1h0m1 -1h0m0 3.5h0m2.5 -5.5h0m0.5 5h0m0.5 0h0m1.5 0.5h0m2 -3h0m0.5 -2h0m1.5 1h0m1.5 2.5h0m1 -3.5h0m1 3h0m1.5 -3.5h0m0.5 3.5h0m0.5 -1.5h0m4 2.5h0m1.5 1.5h0m0 -2.5h0m2.5 -2.5h0m1 3h0m0 1h0m1.5 -1.5h0m3 -3h0m0.5 5h0m6 -4.5h0m0 0h0m1 1.5h0m1 0h0m1.5 0.5h0m0 0.5h0m2 -0.5h0m0 -3h0m0.5 1.5h0m4 4h0m2 -3h0m2 0h0m1 2.5h0m4.5 -2.5h0m1 3.5h0m2.5 -5h0m2 4.5h0m1.5 -1.5h0m0.5 -3h0m2.5 0.5h0m2 -1h0m1.5 0.5h0m0 1h0m2 3h0m2.5 0.5h0m1.5 -3.5h0m6 3h0m0.5 -2.5h0m2.5 -1.5h0m4.5 4h0m0 -3.5h0m1.5 2.5h0m0.5 1.5h0m0.5 -3h0m2.5 -1.5h0m1.5 3.5h0m4.5 1.5h0m0 -4h0m0.5 2.5h0m1.5 0.5h0m0.5 -0.5h0m4 -3.5h0m1 1h0m0.5 3.5h0m1 -2.5h0m3.5 0h0m0.5 -0.5h0m1 1.5h0m0 1h0m0.5 -1h0m1.5 1.5h0m1 -2.5h0m1 -1.5h0m0 3h0m2.5 -2h0m1 0h0m1.5 -0.5h0m0.5 2h0m0.5 1.5h0m1.5 -4h0m0.5 -0.5h0m1 3.5h0m0 1.5h0m1 -5h0m0 3h0m2 -2h0m0 -1.5h0m5 4.5h0m0 -2.5h0m0 -0.5h0m-180.5 9h0m2 0.5h0m1.5 -2.5h0m3 2h0m6 -3h0m2 2h0m9 -1h0m4 2.5h0m2 -4h0m2 3.5h0m1.5 -1h0m1 0.5h0m2 -2.5h0m1.5 -1.5h0m3 3.5h0m3 -3.5h0m1 5.5h0m0.5 -3.5h0m1 2.5h0m0.5 -3.5h0m0.5 4.5h0m1 -1.5h0m1 0h0m3 -1h0m0.5 -3h0m2 1.5h0m0.5 -1h0m8.5 0.5h0m0.5 2.5h0m2.5 -0.5h0m0 1.5h0m2.5 -4h0m0.5 1.5h0m1 -1h0m4.5 3h0m0.5 -3h0m0 2.5h0m0.5 -2.5h0m1.5 1.5h0m2.5 -3h0m0 4h0m2.5 0.5h0m3.5 -2h0m3.5 3.5h0m2.5 -4.5h0m2 3h0m1 -0.5h0m0 -2.5h0m1.5 2.5h0m4 0h0m4 1.5h0m5.5 -4h0m2 3h0m5.5 -3.5h0m2.5 5h0m1.5 0h0m7 -1.5h0m3 0h0m1 -4h0m9 5h0m0.5 -1h0m1 -0.5h0m2.5 -0.5h0m2 0h0m0.5 -2.5h0m1 0h0m3 2.5h0m2 1.5h0m0.5 -3.5h0m0.5 1h0m0.5 -1.5h0m2 -1h0m0.5 1.5h0m1.5 2.5h0m1.5 1.5h0m2 -1h0m2 -1.5h0m0 -1.5h0m0.5 3.5h0m1 -1h0m0 0h0m1 0.5h0m1 1h0m2.5 -1.5h0m1 -3.5h0m1 2h0m1 1.5h0m2.5 -3.5h0m3 0.5h0m0.5 -0.5h0m1 0.5h0m3 5h0m-183.5 3h0m1 2.5h0m0 -5.5h0m0.5 3h0m6.5 2.5h0m2 -2h0m3.5 0.5h0m6.5 -1h0m1 0.5h0m3 -2.5h0m1 4.5h0m1.5 -2.5h0m2 2h0m1.5 -1h0m3.5 -3.5h0m0.5 5h0m0.5 -2h0m1.5 -0.5h0m0 -1h0m1.5 0.5h0m0.5 -1.5h0m0.5 0.5h0m2.5 -1.5h0m0.5 2.5h0m0.5 -2h0m1 5.5h0m1 -3.5h0m0 2.5h0m2.5 -4.5h0m1 -0.5h0m0.5 3h0m2.5 0h0m2.5 3h0m1 -3h0m8.5 1.5h0m0 -1h0m0.5 -3h0m1.5 2.5h0m0 -0.5h0m1 1.5h0m3 0h0m0 -3h0m0 0h0m2 0h0m1.5 -1h0m1 4h0m0 -4h0m1.5 5h0m1 -1.5h0m2 1.5h0m1 -2h0m0 0.5h0m0.5 -2.5h0m1.5 5h0m0.5 -5.5h0m0.5 5.5h0m4 -2.5h0m1.5 -2h0m2.5 3h0m0.5 -2.5h0m3 -1h0m0.5 1h0m0.5 1.5h0m1 -1.5h0m0 -1h0m1.5 1h0m1 -1.5h0m0.5 1.5h0m1.5 3h0m2 -3h0m0.5 -1.5h0m0.5 4.5h0m1 -1.5h0m0.5 -2.5h0m3 2.5h0m0.5 -2h0m0.5 1h0m2.5 2.5h0m1 -3.5h0m2 0h0m2 2h0m0 -2.5h0m1.5 0.5h0m2 0h0m0 3.5h0m0 -1h0m3 -2.5h0m1 4h0m0 -0.5h0m1.5 -2.5h0m3.5 -1h0m0.5 1.5h0m4 2.5h0m0.5 -1.5h0m0.5 -1h0m1.5 -2h0m1.5 2h0m2 1h0m3 -3.5h0m1 -0.5h0m3.5 3.5h0m1 2.5h0m3 -5.5h0m0 0h0m4.5 1h0m1.5 -1h0m0.5 3h0m2 -2h0m2.5 3h0m2.5 1.5h0m6 0h0m1.5 -0.5h0m1 -3.5h0m1 1.5h0m1 -3.5h0m0 3.5h0m0.5 -0.5h0m0.5 -2h0m1 4h0m1.5 -3.5h0m0.5 2.5h0m3.5 -2.5h0m-186 7.5h0m1.5 2h0m2 1h0m8 -4h0m1 3.5h0m0.5 -1h0m3.5 -3.5h0m3 2.5h0m0.5 0.5h0m2.5 -3.5h0m2 2.5h0m2.5 0h0m1.5 2h0m1.5 0h0m2.5 -1h0m0 -0.5h0m6 0h0m2 -1.5h0m0 -1.5h0m4 4.5h0m0.5 -3h0m1 3.5h0m2.5 -5h0m0.5 -0.5h0m0 1h0m1 2h0m0 -0.5h0m0.5 -1.5h0m2 -1h0m0.5 2.5h0m4.5 -0.5h0m5 0h0m1.5 -1h0m1 -1h0m1.5 3h0m3 1h0m0.5 1.5h0m1 0h0m1 -3h0m0 0h0m4.5 2h0m0.5 -4.5h0m1 1h0m2 0.5h0m4 2h0m1.5 -0.5h0m3 -0.5h0m0.5 1h0m0 1.5h0m1 -1.5h0m3 -1h0m3 1.5h0m1 -1.5h0m0.5 2h0m0 1h0m2 -2h0m1.5 2.5h0m5 -1.5h0m1.5 -2h0m5.5 1h0m1.5 -2.5h0m7.5 -0.5h0m1 1.5h0m2 -1h0m4 2.5h0m4 -3.5h0m2 3h0m0.5 -0.5h0m1.5 1h0m0.5 0h0m2 -3h0m0.5 0h0m1.5 3.5h0m2.5 -3h0m0.5 3.5h0m3 -1h0m0.5 -1.5h0m0 0.5h0m1.5 1.5h0m1 -3.5h0m1.5 4.5h0m0 -0.5h0m0 0.5h0m0.5 -0.5h0m0.5 -2.5h0m2 1.5h0m1 -3h0m1 2h0m1.5 3.5h0m0 -4h0m0 0h0m0.5 3h0m2 -3h0m2 3h0m2 -1h0m0.5 0h0m2.5 -2.5h0m0 -1.5h0m1.5 5.5h0m0.5 -2h0m0.5 2.5h0m0.5 -0.5h0m1.5 -5h0m0.5 0h0m1 4h0m2.5 -4.5h0m1 5.5h0m3.5 -3h0m2.5 -2.5h0m0.5 2.5h0m-180 4.5h0m0.5 -1h0m2 3h0m2 -3h0m1.5 3h0m4.5 -0.5h0m0.5 2.5h0m4.5 -3.5h0m6.5 -1.5h0m1 0.5h0m1.5 2.5h0m0.5 -1.5h0m0 1h0m0 -0.5h0m1.5 4h0m0.5 -5h0m0 4h0m1.5 -3h0m3 -1h0m1 1.5h0m3.5 3.5h0m1 -3h0m0.5 -2h0m0.5 3.5h0m4.5 -4.5h0m1.5 0.5h0m3 2.5h0m1 -1.5h0m3 0.5h0m2 2h0m0.5 0h0m0.5 0.5h0m2.5 -0.5h0m3.5 -2h0m3.5 3h0m1 -2h0m1.5 -1h0m1.5 1.5h0m0 -3h0m1 0.5h0m0 0.5h0m1 -1h0m4 4.5h0m1.5 1h0m0.5 -1h0m0.5 -1.5h0m2 1.5h0m1.5 -0.5h0m0 -3h0m2.5 0.5h0m0 -1h0m0.5 3h0m1 0h0m3 -3.5h0m0 0h0m2 5h0m0.5 -3h0m0.5 2h0m2.5 1.5h0m0.5 -4h0m7.5 3h0m1 -2h0m2.5 0.5h0m0.5 -1h0m1 0.5h0m0.5 0h0m0 0h0m0.5 -1h0m1.5 3.5h0m1.5 -0.5h0m1 -4h0m0.5 4h0m0.5 -1.5h0m0.5 -1h0m0.5 1.5h0m0.5 1.5h0m0 -2h0m0.5 1.5h0m1.5 -5h0m9.5 5.5h0m1.5 -1h0m1.5 -0.5h0m1 -0.5h0m3 -1h0m0 -1h0m4 3.5h0m2.5 -4h0m2.5 -1h0m1 0h0m0.5 2.5h0m1 3h0m0 -1.5h0m0.5 2h0m3 -3h0m0.5 0.5h0m2 -2h0m0.5 1.5h0m2 1.5h0m5.5 -2h0m1 0.5h0m3.5 -2.5h0m1 0.5h0m5 -0.5h0m0.5 0.5h0m0.5 0.5h0m1.5 -1h0m2 0h0m0 -0.5h0m0.5 0h0m-163 6.5h0m0 2h0m1.5 -2h0m3 4.5h0m0.5 0h0m4.5 -3.5h0m0.5 0.5h0m0.5 1h0m1.5 0.5h0m1 -2.5h0m3.5 -0.5h0m3.5 3.5h0m3 0.5h0m0 1.5h0m0.5 -2h0m1 -2h0m0.5 1h0m1 -2h0m4 4h0m1.5 -2.5h0m2 -0.5h0m2.5 0.5h0m2.5 0h0m0.5 -2h0m0 1.5h0m1.5 -0.5h0m1 -0.5h0m0.5 -0.5h0m1 1.5h0m0.5 1h0m3.5 -1.5h0m0 2h0m1 -1.5h0m2 1h0m0.5 0h0m0 -2.5h0m0.5 4.5h0m1.5 -2h0m1 0.5h0m1.5 -3h0m0.5 3h0m1 2.5h0m0.5 -4.5h0m0.5 2.5h0m0.5 -4h0m5 4.5h0m0 -3h0m1 4.5h0m0.5 -2h0m3 -0.5h0m0.5 -3h0m0.5 4h0m0 -1.5h0m0 2.5h0m0.5 0.5h0m1.5 -2.5h0m2 2.5h0m0 -2.5h0m1 -0.5h0m0.5 -1h0m2.5 2.5h0m0.5 -4h0m0.5 4.5h0m0 0.5h0m0.5 -4h0m0.5 0.5h0m2 0.5h0m0 2h0m1.5 -4h0m0.5 -0.5h0m0.5 5.5h0m1 -5.5h0m1 3h0m1.5 0.5h0m2.5 0h0m2.5 1h0m0 -1h0m1 1h0m0.5 -1.5h0m3 -1h0m2.5 -0.5h0m0.5 -1h0m1.5 3.5h0m0.5 -2h0m1 3h0m0 0h0m1 -4h0m0 -0.5h0m3.5 2.5h0m0.5 -1.5h0m3 1h0m1 -0.5h0m0 2h0m0 -2.5h0m1 1h0m1.5 -1.5h0m1 0h0m4 2.5h0m4 -3h0m1.5 5h0m2 0h0m1.5 -0.5h0m1 -4.5h0m2.5 0.5h0m1.5 2.5h0m0 0h0m1.5 -1h0m1 2h0m1.5 -0.5h0m1 -1h0m0.5 -3h0m0 1.5h0m1.5 0.5h0m1 -1h0m1 1.5h0m2 -2.5h0m1 1.5h0m1 -1h0m-137 6h0m2.5 0h0m2.5 4h0m3 -3h0m3.5 1.5h0m4 3h0m1 -5h0m1 0h0m0.5 -0.5h0m0.5 4.5h0m2 -1h0m3.5 -3h0m1 2.5h0m1 -3.5h0m3 0.5h0m0 -0.5h0m2 2.5h0m0 -0.5h0m1 1h0m0.5 1h0m1 -0.5h0m2.5 2h0m5.5 -4h0m1.5 3h0m4.5 -2.5h0m3 0h0m1 3.5h0m4 -3.5h0m1 3.5h0m1.5 -1.5h0m0.5 2h0m1 -5h0m0 -1h0m1.5 0h0m3.5 4.5h0m4 -4h0m1 1.5h0m0.5 -0.5h0m3.5 3h0m1 -0.5h0m0.5 -1.5h0m1 -1h0m0.5 -1h0m1.5 1h0m1.5 -1.5h0m1.5 1.5h0m1 0.5h0m2 1h0m1 -0.5h0m1 -1.5h0m0.5 0.5h0m0 -1.5h0m0.5 3.5h0m1.5 2h0m0.5 0.5h0m0.5 -5h0m0 0.5h0m0.5 2h0m0.5 2.5h0m6 -2h0m2 1h0m8 -4.5h0m0.5 0h0m0.5 0h0m2.5 2h0m10 -0.5h0m1.5 -1.5h0m-110 8h0m2 -0.5h0m1.5 3.5h0m3 -3.5h0m0.5 3.5h0m3.5 -5h0m2 3.5h0m0 0h0m2 -3.5h0m1.5 1.5h0m1.5 0.5h0m1.5 1h0m1 -1.5h0m0.5 1h0m2 -1h0m1 0.5h0m6.5 -2h0m2 -0.5h0m0 5.5h0m1.5 -3.5h0m1.5 2h0m0.5 -1h0m0 -1h0m3.5 2h0m1 -0.5h0m0 0.5h0m5 -3h0m2.5 0.5h0m1.5 -1h0m1 1h0m0.5 2.5h0m1 0h0m0 -3.5h0m0.5 3h0m2 -1.5h0m3.5 4h0m0 -3h0m3.5 2h0m0.5 -4h0m0 3.5h0m0.5 -4.5h0m2 4.5h0m1 -4h0m0 0h0m2 5h0m1.5 -4.5h0m1 0h0m1.5 4h0m4.5 -2h0m0 -0.5h0m1 2h0m1.5 -1.5h0m7 0h0m5.5 -2.5h0m-82 8.5h0m4.5 -2h0m1 -1h0m0 5.5h0m0 -5h0m4.5 1h0m1.5 -1h0m1 2.5h0m1 -1.5h0m2.5 3h0m0.5 1h0m1 -2.5h0m3 1h0m2 1.5h0m0.5 -3h0m1.5 -2h0m2 1.5h0m0.5 1h0m0.5 2h0m2 -3h0m0.5 0.5h0m1.5 1.5h0m5.5 -0.5h0m0 0h0m1 -1.5h0m2 1.5h0m0.5 -3.5h0m0.5 1.5h0m4.5 4.5h0m0.5 -1h0m0.5 -3.5h0m0.5 1h0m1 -2h0m2.5 1h0m1 -1.5h0m0.5 1.5h0m5 4.5h0m4 -2.5h0m1 -0.5h0m1 -0.5h0m0.5 -0.5h0m3 -0.5h0m0.5 -1h0m-58 8h0m0.5 -0.5h0m3 2.5h0m6 -4h0m0 2.5h0m1 -2h0m2 -0.5h0m1 1h0m1 -1.5h0m2 0.5h0m0.5 3.5h0m0 -3.5h0m2 4h0m0 -4h0m1.5 3h0m2 -3h0m0 2.5h0m0 -2h0m0.5 4.5h0m2 -1h0m2.5 -0.5h0m1.5 0.5h0m2.5 0h0m0.5 0h0m0.5 0h0m0 -3h0m0.5 4.5h0m0 -4.5h0m1 -0.5h0m2 2.5h0m1.5 -3h0m1.5 4h0m2.5 -1.5h0m0.5 -1.5h0m3 0h0m-33.5 5h0m4 -0.5h0m5 0h0m4.5 1h0m0.5 0h0m4.5 -0.5h0"/></defs><use href="#q16" stroke-width="6" stroke-opacity=".5"/><use href="#q16" stroke-width="4.4"/></g><g fill="none" stroke="#80fffa" stroke-linecap="round"><path d="M1513.5 1631h0m11 0h0m6 0h0m-22.5 9.5h0m2.5 -5h0m6 0h0m2.5 5h0m3 -5h0m2.5 5h0m3 -5h0m3 5h0m2.5 -5h0m3 5h0m2.5 -5h0m3 5h0m3 -5h0m2.5 5h0m-47.5 5h0m11 0h0m6 0h0m5.5 0h0m5.5 0h0m11 0h0m6 0h0m5.5 0h0m5.5 0h0m-53 5h0m5.5 0h0m5.5 0h0m11 0h0m6 0h0m5.5 0h0m5.5 0h0m5.5 0h0m5.5 0h0m6 0h0m-59 4.5h0m5.5 0h0m5.5 0h0m6 0h0m5.5 0h0m5.5 0h0m5.5 0h0m5.5 0h0m6 0h0m5.5 0h0m5.5 0h0m5.5 0h0m-58.5 5h0m2.5 5h0m5.5 0h0m3 -5h0m5.5 0h0m3 5h0m2.5 -5h0m6 0h0m2.5 5h0m3 -5h0m2.5 5h0m3 -5h0m5.5 0h0m3 5h0m2.5 -5h0m3 5h0m3 -5h0m2.5 5h0m5.5 0h0m-53 4.5h0m5.5 0h0m5.5 0h0m11.5 0h0m5.5 0h0m5.5 0h0m5.5 0h0m11.5 0h0m5.5 0h0m-59 5h0m6 0h0m5.5 0h0m5.5 0h0m5.5 0h0m11.5 0h0m11 0h0m5.5 0h0m5.5 0h0m6 0h0m-59 5h0m5.5 0h0m5.5 0h0m6 0h0m5.5 0h0m5.5 0h0m5.5 0h0m5.5 0h0m6 0h0m5.5 0h0m5.5 0h0m5.5 0h0m-70 5h0m5.5 0h0m6 0h0m5.5 0h0m5.5 0h0m11 0h0m6 0h0m5.5 0h0m5.5 0h0m5.5 0h0m5.5 0h0m6 0h0m-67.5 9.5h0m3 -5h0m5.5 0h0m3 5h0m2.5 -5h0m3 5h0m5.5 0h0m3 -5h0m2.5 5h0m3 -5h0m2.5 5h0m3 -5h0m3 5h0m2.5 -5h0m3 5h0m2.5 -5h0m3 5h0m3 -5h0m2.5 5h0m3 -5h0m2.5 5h0m3 -5h0m3 5h0m2.5 -5h0m-72.5 10h0m5.5 0h0m5.5 0h0m5.5 0h0m5.5 0h0m6 0h0m5.5 0h0m5.5 0h0m11 0h0m6 0h0m5.5 0h0m5.5 0h0m-64.5 5h0m5.5 0h0m6 0h0m5.5 0h0m16.5 0h0m6 0h0m5.5 0h0m5.5 0h0m5.5 0h0m5.5 0h0m6 0h0m-64.5 4.5h0m5.5 0h0m5.5 0h0m5.5 0h0m6 0h0m16.5 0h0m5.5 0h0m6 0h0m11 0h0m-56 10h0m3 -5h0m2.5 5h0m5.5 0h0m3 -5h0m3 5h0m5.5 0h0m2.5 -5h0m6 0h0m2.5 5h0m3 -5h0m2.5 5h0m3 -5h0m3 5h0m2.5 -5h0m3 5h0m2.5 -5h0m3 5h0m3 -5h0m-56 10h0m5.5 0h0m5.5 0h0m5.5 0h0m5.5 0h0m11.5 0h0m5.5 0h0m5.5 0h0m5.5 0h0m-47.5 4.5h0m5.5 0h0m6 0h0m5.5 0h0m5.5 0h0m5.5 0h0m11.5 0h0m5.5 0h0m-36.5 5h0m11 0h0m6 0h0m5.5 0h0m5.5 0h0m5.5 0h0m5.5 0h0m-25 5h0m3 5h0m2.5 -5h0m3 5h0m2.5 -5h0m3 5h0m3 -5h0m2.5 5h0m3 -5h0m2.5 5h0m6 0h0m-25.5 4.5h0m5.5 0h0m6 0h0m5.5 0h0m5.5 0h0m-3 5h0" stroke-width="8.6"/><defs><path id="q17" d="M1510 1627.5h0m0 0.5h0m6 -3h0m0.5 1h0m3 -2.5h0m0.5 1.5h0m4.5 -0.5h0m0 2h0m1 1.5h0m3.5 -1.5h0m2.5 0.5h0m1 -2h0m1.5 3h0m1.5 -1.5h0m2 0h0m0.5 2.5h0m2 -0.5h0m-36.5 4.5h0m3 0.5h0m0 0h0m1.5 1h0m1.5 -4.5h0m1.5 1h0m2.5 -1.5h0m2 -0.5h0m3.5 5h0m1.5 -3h0m3.5 1h0m2 1.5h0m0 -3.5h0m0.5 0h0m0 2.5h0m1 -2h0m0 2.5h0m2 -0.5h0m0.5 -3h0m1.5 5h0m0 -2h0m2 1h0m2 0.5h0m1 -0.5h0m0.5 -3.5h0m2 -0.5h0m2 0h0m0.5 1h0m1 1h0m2.5 -0.5h0m6 3.5h0m-53 5.5h0m2.5 -1h0m8 0.5h0m2 -4.5h0m2.5 4.5h0m3 -1h0m0.5 -1.5h0m0.5 3.5h0m0 -2.5h0m1.5 -0.5h0m1.5 -1h0m1.5 2h0m0.5 -2h0m2.5 1.5h0m0.5 -0.5h0m0.5 0.5h0m0.5 -0.5h0m3.5 0.5h0m0.5 3h0m0.5 -2h0m0 2h0m0.5 -4h0m0.5 0h0m5 2.5h0m3 -3.5h0m0.5 4.5h0m0 -0.5h0m4.5 -2.5h0m0 -1.5h0m2.5 -1h0m2 4.5h0m1.5 -0.5h0m2.5 2h0m1 -0.5h0m-53.5 1h0m0.5 3h0m1 1h0m3.5 -4h0m5 5.5h0m0 -5.5h0m3.5 4h0m1 -3.5h0m4 4h0m0 -2.5h0m3.5 -1.5h0m0 1h0m1 0.5h0m2 0h0m0.5 -2h0m0 -0.5h0m2 6h0m3.5 -2h0m1.5 -3h0m0.5 4.5h0m3.5 -2.5h0m1 3h0m4 -5.5h0m0 4.5h0m1 -1h0m1.5 -4h0m3 2h0m0 4h0m3.5 -1h0m0 -1.5h0m1 -0.5h0m4 0h0m1 1.5h0m0 -3h0m0 1h0m0.5 0.5h0m2.5 2h0m1.5 0h0m-67.5 5.5h0m4.5 -2h0m0.5 0.5h0m1.5 2.5h0m1 -3h0m3.5 -0.5h0m1.5 2h0m1.5 1h0m0 -1.5h0m1 1h0m0 -4.5h0m2 4.5h0m9 -4.5h0m0 4h0m0.5 -2h0m1 1.5h0m2.5 0h0m0.5 -2.5h0m0.5 0h0m2.5 0.5h0m5 4.5h0m0 -2h0m1 -4h0m1.5 2.5h0m0.5 2.5h0m5.5 -0.5h0m3 -0.5h0m4 -3.5h0m0 1h0m0.5 3.5h0m4 0.5h0m4.5 -3h0m0.5 -2h0m3 0.5h0m2.5 0h0m-69 6h0m1 2h0m0.5 -0.5h0m1.5 1h0m3.5 -2h0m4 0.5h0m1 -0.5h0m1.5 2h0m0 0.5h0m2 -2.5h0m0 3.5h0m9 -1h0m1 -0.5h0m1 0.5h0m1 2h0m2.5 -3.5h0m0.5 1.5h0m0.5 -2h0m2 0.5h0m2 0.5h0m3 3h0m1 -1.5h0m0.5 -0.5h0m0 -3.5h0m0.5 0h0m0 3h0m4 -2h0m4 -1.5h0m0.5 1.5h0m3 -1h0m0 4h0m4.5 -1h0m0.5 0.5h0m1.5 1.5h0m0 -2.5h0m0.5 2h0m1.5 -2.5h0m1.5 3h0m0.5 -5h0m0 2.5h0m3 -1h0m1 1.5h0m0.5 1h0m1 -1h0m1.5 0.5h0m3.5 -3.5h0m1 5.5h0m0 -3h0m0 -2h0m0 -0.5h0m-74.5 6.5h0m6.5 1.5h0m1 2h0m0.5 1h0m0 -5h0m0.5 0.5h0m1 3.5h0m1 -1.5h0m2 -1.5h0m0 4h0m0.5 -5h0m0.5 2h0m5 0.5h0m4 2h0m3 1h0m2.5 -0.5h0m0 -4h0m0.5 0h0m1 3.5h0m1 0h0m1 -2.5h0m0 -2h0m1.5 3h0m2.5 -3h0m5 4h0m3 -4h0m2 2h0m2.5 2h0m0.5 -3.5h0m1.5 3h0m0.5 2h0m0.5 -0.5h0m1 -3.5h0m0.5 3h0m0.5 -4.5h0m0 0.5h0m7 0.5h0m5 1.5h0m0 2.5h0m3 -1.5h0m0.5 2h0m3.5 -6h0m4.5 3.5h0m0.5 1h0m0 -3.5h0m-64.5 8h0m2 1.5h0m5 -3.5h0m0.5 0h0m4 4h0m0 -2h0m1 -1h0m2.5 -1h0m2 1h0m0.5 3.5h0m0.5 -1h0m3.5 -2.5h0m2 -0.5h0m0.5 3h0m0.5 0h0m0 -3h0m2 1.5h0m1.5 -1h0m0.5 0.5h0m1.5 0.5h0m0.5 0.5h0m2.5 -1h0m2 -1h0m0.5 1h0m6.5 0h0m4 1h0m0.5 1h0m2 -0.5h0m3.5 -1.5h0m0 2.5h0m1 -5h0m5.5 5.5h0m2 -1h0m0.5 -3.5h0m1 1h0m1.5 -0.5h0m0.5 3h0m0 -3h0m1 -0.5h0m0 4.5h0m1 -2h0m0.5 -2.5h0m1.5 4h0m0 1h0m0.5 -3h0m1 0h0m0.5 1.5h0m-73.5 7.5h0m1 -6h0m1.5 6h0m1 0h0m0.5 -3h0m0.5 -1h0m2 2.5h0m6.5 0h0m3.5 0.5h0m0 -1h0m1 -2.5h0m1 0h0m3 3h0m1.5 -0.5h0m0.5 1h0m1 0.5h0m1 -1.5h0m2 1h0m0 -3h0m0.5 3.5h0m0.5 -4h0m3 0h0m2.5 3.5h0m1 -3h0m2 -1.5h0m1 3.5h0m0 1h0m1 1h0m0.5 -3h0m2 -0.5h0m1 2.5h0m1.5 -3.5h0m3.5 1h0m1 1h0m0.5 1h0m1 -2h0m3.5 -2.5h0m0.5 4.5h0m1.5 -1h0m1 0h0m0 -2h0m0.5 2h0m4 1h0m1 -1h0m6 2.5h0m0.5 -5h0m0 -0.5h0m0.5 4.5h0m0.5 -3.5h0m3 0h0m0 1h0m0.5 1.5h0m0.5 0.5h0m1 0h0m1.5 0.5h0m-76 3.5h0m0.5 3h0m0.5 -1.5h0m0 -2h0m0.5 0.5h0m0.5 -1.5h0m0.5 1h0m1.5 3h0m4.5 -2.5h0m1 3.5h0m2 -6h0m2.5 2.5h0m0.5 1h0m3.5 0.5h0m0.5 -2h0m1 2.5h0m1.5 -3.5h0m0.5 3.5h0m0.5 1h0m1.5 -0.5h0m1.5 -1.5h0m5.5 1.5h0m0.5 0.5h0m5 -2h0m12 -3h0m0.5 0h0m1 3.5h0m2.5 -0.5h0m2 -0.5h0m1 3h0m1 0h0m4.5 -3h0m0.5 1h0m0.5 -3h0m1.5 -0.5h0m2.5 1.5h0m0.5 1h0m1.5 0.5h0m3 2.5h0m1 -3h0m6.5 0h0m-79.5 6h0m4 2.5h0m2.5 0h0m0.5 -4.5h0m3 -0.5h0m2.5 0.5h0m1.5 2.5h0m3 1h0m1.5 -4h0m1 3h0m0 0h0m0 -2.5h0m1 3h0m2 2h0m1 -3h0m1 -2.5h0m1.5 5h0m7 0h0m2.5 -5h0m2 0.5h0m0.5 2.5h0m2 2.5h0m0 -3h0m0.5 2h0m2 -2h0m1 -0.5h0m0.5 0.5h0m2.5 -3h0m0.5 2h0m0.5 0.5h0m2.5 2.5h0m2.5 -5h0m2.5 3h0m0.5 -2.5h0m0.5 4.5h0m1.5 -3.5h0m0 0.5h0m1.5 2h0m2 0h0m1 0h0m0 1.5h0m3.5 -3h0m1 -2h0m2.5 5h0m0.5 -2.5h0m0.5 0h0m0 3h0m1.5 -1h0m2.5 -3h0m1.5 -1h0m-73 7.5h0m2 -2h0m0.5 2h0m0.5 2h0m2 0h0m1.5 0h0m2 -3h0m1 4.5h0m2 -3h0m0 -2.5h0m0.5 2.5h0m1.5 0h0m0.5 0h0m0 0.5h0m2.5 1.5h0m0 -5h0m0.5 2.5h0m2 0h0m3 0.5h0m0 2.5h0m0.5 0.5h0m1.5 -6h0m0.5 0h0m1.5 5.5h0m2 -4.5h0m0.5 -1h0m2 5.5h0m5 -0.5h0m0.5 -2.5h0m0.5 0.5h0m0.5 1.5h0m0 -4.5h0m3.5 1h0m0.5 3h0m0.5 -2h0m1 3h0m7 -4h0m1 3h0m1 1h0m0 -3.5h0m5 -0.5h0m0 1h0m0.5 1h0m0.5 0h0m5 0.5h0m6.5 2h0m0.5 -1.5h0m1.5 2h0m4 -3h0m1.5 0h0m-77.5 6.5h0m5.5 1.5h0m0.5 -1h0m2.5 -2h0m2 -0.5h0m0.5 -1.5h0m0.5 4h0m2 -1.5h0m1.5 0h0m0.5 2h0m1.5 -1.5h0m1 0.5h0m0 -3h0m3.5 2.5h0m0 -0.5h0m0 1h0m2.5 1.5h0m4 -4.5h0m2.5 4.5h0m0 0h0m1 -1h0m0 -3.5h0m0.5 0.5h0m1.5 2.5h0m1 0.5h0m1 -2h0m6.5 1h0m2.5 -2.5h0m3 1.5h0m1 -0.5h0m0 1h0m1 -1.5h0m1 1.5h0m3.5 -2.5h0m2.5 5.5h0m2 -4.5h0m3 0.5h0m0.5 0h0m0 -0.5h0m0 2.5h0m0.5 2h0m1.5 -4.5h0m1 1.5h0m0.5 0h0m2 -1h0m1 3.5h0m1 -1.5h0m1 1.5h0m1 -2.5h0m0 -2.5h0m2 4h0m0.5 1.5h0m0.5 -0.5h0m1.5 -4.5h0m-73.5 6h0m2 2.5h0m0.5 1h0m5.5 -3h0m3.5 -1h0m1 1.5h0m0.5 4.5h0m1 -4.5h0m2 -0.5h0m2.5 0h0m1 1.5h0m0 0h0m4 3.5h0m1 -0.5h0m2.5 -4h0m0 0.5h0m1.5 0h0m2.5 3h0m0 -3.5h0m1.5 -0.5h0m0.5 2.5h0m0.5 1h0m3 -4.5h0m3 6h0m1 -3h0m0.5 2.5h0m2 -3h0m1 2h0m1 -1.5h0m0.5 -1.5h0m2.5 2.5h0m3.5 -2h0m0 2h0m1 1.5h0m1 -4.5h0m0.5 2h0m1 -3h0m1 0.5h0m3 3.5h0m1 1h0m0.5 -3h0m2 1h0m2 -1.5h0m3 3h0m-69.5 1.5h0m0.5 0h0m1.5 5.5h0m1.5 -3h0m1 -2h0m4.5 1h0m2.5 0h0m0 2h0m0.5 2.5h0m2 -0.5h0m0.5 -0.5h0m0 -1.5h0m3.5 1.5h0m2 -3h0m1.5 0h0m1 4h0m2.5 -2.5h0m2.5 0.5h0m1 0.5h0m1 -2.5h0m0 -0.5h0m4.5 0h0m2.5 3h0m2.5 -0.5h0m3 -4h0m0.5 4.5h0m2 0.5h0m5.5 -3h0m3 -0.5h0m1 1h0m4.5 3.5h0m3 -2h0m4 0h0m2.5 -1h0m5.5 1h0m-65.5 3.5h0m2 2.5h0m1.5 -3.5h0m0.5 3.5h0m1 -4h0m0 1h0m1 3h0m0.5 -2.5h0m3 2h0m2 2.5h0m3 -3h0m6 -2h0m5 1h0m0.5 3h0m1.5 0h0m1.5 -0.5h0m1.5 -0.5h0m2 -1h0m6.5 1h0m0 -1.5h0m0.5 0.5h0m0 -3h0m2.5 4.5h0m1 -2h0m8 1h0m2 -2.5h0m1.5 -0.5h0m0.5 2h0m5.5 1h0m1.5 -3.5h0m0.5 1h0m1.5 4.5h0m0.5 -0.5h0m0.5 -3.5h0m-64 4.5h0m1 6h0m1.5 -3h0m2 -0.5h0m1 0h0m0.5 2h0m1.5 -1h0m2.5 1h0m1 1.5h0m1.5 -5h0m0 0.5h0m2.5 0h0m0.5 1.5h0m4.5 -2h0m0.5 3h0m1 0.5h0m2.5 0h0m0 1h0m0 -4h0m2 1.5h0m1.5 2h0m2 -3.5h0m4 2.5h0m2 -3.5h0m0.5 2.5h0m1 0h0m1.5 -1.5h0m2.5 1h0m4 0h0m1 2.5h0m5 0.5h0m3 -2.5h0m3.5 2h0m2 -4h0m-57 7h0m2 -1h0m1.5 5h0m2 -0.5h0m2 -4.5h0m0 4h0m1 -3h0m0 2.5h0m2.5 1h0m0.5 0h0m5 -2h0m1 -1.5h0m0.5 -1h0m0 -0.5h0m0 1h0m2 0h0m0.5 3h0m2 -0.5h0m0.5 1.5h0m6 -2h0m4 -3.5h0m3 5.5h0m1 -4.5h0m2 0h0m1.5 3.5h0m1 0h0m2 1.5h0m1 0h0m2 -5.5h0m1.5 3h0m0 0.5h0m4 1.5h0m3 -4h0m1 4h0m2.5 -1.5h0m2 2h0m-56 3h0m3.5 0h0m1.5 1h0m0.5 -3.5h0m1.5 0.5h0m2 0.5h0m0.5 -0.5h0m5 -0.5h0m0.5 2h0m0.5 -1h0m0 0h0m0.5 1h0m4 0h0m2.5 0.5h0m2 2.5h0m1 -3.5h0m0 0.5h0m0.5 1.5h0m3.5 1h0m1.5 -0.5h0m4 -2.5h0m1 0h0m0.5 4h0m0 -3h0m0.5 -0.5h0m4.5 -2h0m6 2h0m0 0h0m0 -1h0m1.5 1.5h0m2.5 0h0m0.5 -1.5h0m1 2h0m2.5 2h0m-42.5 1h0m4.5 2h0m1 -0.5h0m5 2h0m0 -2.5h0m2.5 1h0m0.5 -1.5h0m0.5 0h0m1 0.5h0m3.5 2.5h0m1 0h0m0.5 0.5h0m0 -1.5h0m0.5 2h0m4.5 -2h0m1.5 0.5h0m6 0h0m2 -3h0m1.5 -0.5h0m0.5 2h0m0.5 1.5h0m2 2h0m3 -2.5h0m2 0.5h0m2 0.5h0m-35.5 4.5h0m3.5 0h0m0.5 3h0m3 0h0m1.5 -3.5h0m2.5 1h0m3.5 2h0m0.5 -2h0m0.5 0.5h0m1.5 1.5h0m2 -4h0m3 3h0m0.5 -2.5h0m1 1h0m0.5 0h0m10 -1h0m2 1.5h0m0 2.5h0m-36 2.5h0m2 -0.5h0m2.5 1.5h0m0.5 1h0m0.5 -0.5h0m0 1h0m3.5 -4.5h0m2 4.5h0m6 -0.5h0m0.5 0h0m0.5 1.5h0m4 0h0m2 -1.5h0m1 1.5h0m1 -1.5h0m1 -2.5h0m2.5 3.5h0m3 -1h0m0 1h0m0.5 0h0m2 -4.5h0m-9.5 7h0m0 2h0m1.5 -2h0m0 1.5h0m7 -2.5h0m-7 7h0m0 -1.5h0"/></defs><use href="#q17" stroke-width="6" stroke-opacity=".5"/><use href="#q17" stroke-width="4.4"/></g><g fill="none" stroke="#ff6ad0" stroke-linecap="round"><defs><path id="q18" d="M1346.5 1461h0m16.5 -2.5h0m-24 3.5h0"/></defs><use href="#q18" stroke-width="10.4" stroke-opacity=".6"/><use href="#q18" stroke-width="8.4"/></g></g>
<text class="pl" x="233.9" y="1411.8" style="font-size:43.8px">e</text><text class="pl" x="1113.6" y="1411.5" style="font-size:42.3px">f</text>
<ellipse cx="674.4" cy="1583.1" rx="87.3" ry="81.5" fill="none" stroke="#111" stroke-width="2.1"/><ellipse cx="516.7" cy="1763" rx="88.9" ry="66.2" fill="none" stroke="#111" stroke-width="2.1"/><ellipse cx="780.1" cy="1760.4" rx="36" ry="82" fill="none" stroke="#111" stroke-width="2.1" transform="rotate(9 780.1 1760.4)"/><path d="M564.6 1507L604.3 1531.1" stroke="#111" stroke-width="2.1" fill="none"/><path d="M386.7 1789.5L427.8 1756" stroke="#111" stroke-width="2.1" fill="none"/><path d="M815.8 1727.5L867 1685.8" stroke="#111" stroke-width="2.1" fill="none"/><circle cx="599.4" cy="1480.6" r="22.8" fill="#fff" stroke="#111" stroke-width="1.8"/><text x="599.4" y="1490.3" text-anchor="middle" font-size="27">1</text><circle cx="371.9" cy="1753.6" r="22.8" fill="#fff" stroke="#111" stroke-width="1.8"/><text x="371.9" y="1763.3" text-anchor="middle" font-size="27">2</text><circle cx="871.7" cy="1729.4" r="22.8" fill="#fff" stroke="#111" stroke-width="1.8"/><text x="871.7" y="1739.1" text-anchor="middle" font-size="27">3</text>
<path d="M499 1464.4L543.4 1514A66.6 66.6 0 1 1 499 1397.8Z" fill="#ffd2d2" stroke="#ffd2d2" stroke-width=".4"/><path d="M499 1464.4V1397.8A66.6 66.6 0 0 1 543.4 1514Z" fill="#dce9f6"/><g fill="none" stroke="#000" stroke-width="3.2"><circle cx="472.6" cy="1477.4" r="14.8"/><path d="M472.6 1492.6V1508.6M465.1 1501.4H480"/></g><g fill="none" stroke="#000"><circle cx="529.4" cy="1444.9" r="8.7" stroke-width="1.9"/><path d="M535.5 1438.8L544 1431.1" stroke-width="1.9"/><path d="M538.8 1430.8H544.3V1436.3" stroke-width="1.9" stroke-linejoin="miter"/></g><path d="M333.2 1851.6L296.2 1907.2A66.8 66.8 0 0 1 333.2 1784.8Z" fill="#ffd2d2" stroke="#ffd2d2" stroke-width=".4"/><path d="M333.2 1851.6V1784.8A66.8 66.8 0 1 1 296.2 1907.2Z" fill="#dce9f6"/><g fill="none" stroke="#000" stroke-width="2.6"><circle cx="298.5" cy="1836.1" r="10.7"/><path d="M298.5 1846.3V1860.7M292.9 1854.6H304"/></g><g fill="none" stroke="#000"><circle cx="357.2" cy="1857.7" r="15.4" stroke-width="4.5"/><path d="M368.1 1846.8L382.6 1833" stroke-width="4.2"/><path d="M371.5 1832.3H383.3V1844.1" stroke-width="3.4" stroke-linejoin="miter"/></g><path d="M927.3 1632.5L865.9 1658.1A66.5 66.5 0 0 1 927.3 1566Z" fill="#ffd2d2" stroke="#ffd2d2" stroke-width=".4"/><path d="M927.3 1632.5V1566A66.5 66.5 0 1 1 865.9 1658.1Z" fill="#dce9f6"/><g fill="none" stroke="#000" stroke-width="2.5"><circle cx="899.6" cy="1607.2" r="10.9"/><path d="M899.6 1618.4V1629.6M893.7 1625H905.5"/></g><g fill="none" stroke="#000"><circle cx="951.5" cy="1639.5" r="15.5" stroke-width="3.7"/><path d="M962.4 1628.6L977 1614.9" stroke-width="3.6"/><path d="M966.2 1614.3H977.6V1625.7" stroke-width="3.2" stroke-linejoin="miter"/></g>
<ellipse cx="1418.7" cy="1548.9" rx="76.3" ry="72.3" fill="none" stroke="#111" stroke-width="2.1"/><ellipse cx="1371.2" cy="1704.3" rx="107" ry="76" fill="none" stroke="#111" stroke-width="2.1" transform="rotate(-25 1371.2 1704.3)"/><ellipse cx="1542" cy="1691.2" rx="52" ry="79" fill="none" stroke="#111" stroke-width="2.1" transform="rotate(-25 1542 1691.2)"/><path d="M1464.5 1489.1L1521.3 1468.5" stroke="#111" stroke-width="2.1" fill="none"/><path d="M1242.2 1813.1L1299.5 1777.8" stroke="#111" stroke-width="2.1" fill="none"/><path d="M1578 1645.7L1649.3 1679.7" stroke="#111" stroke-width="2.1" fill="none"/><circle cx="1484.9" cy="1446.1" r="22.8" fill="#fff" stroke="#111" stroke-width="1.8"/><text x="1484.9" y="1455.8" text-anchor="middle" font-size="27">1</text><circle cx="1277.1" cy="1837.4" r="22.8" fill="#fff" stroke="#111" stroke-width="1.8"/><text x="1277.1" y="1847.1" text-anchor="middle" font-size="27">2</text><circle cx="1651.9" cy="1634.6" r="22.8" fill="#fff" stroke="#111" stroke-width="1.8"/><text x="1651.9" y="1644.3" text-anchor="middle" font-size="27">3</text>
<path d="M1606.1 1452.4L1658.5 1495.1A67.6 67.6 0 1 1 1606.1 1384.8Z" fill="#ffd2d2" stroke="#ffd2d2" stroke-width=".4"/><path d="M1606.1 1452.4V1384.8A67.6 67.6 0 0 1 1658.5 1495.1Z" fill="#dce9f6"/><g fill="none" stroke="#000" stroke-width="3.8"><circle cx="1579.1" cy="1463.8" r="14.9"/><path d="M1579.1 1477.6V1497.8M1571.2 1490.6H1586.5"/></g><g fill="none" stroke="#000"><circle cx="1635.5" cy="1432.7" r="8.4" stroke-width="1.9"/><path d="M1641.4 1426.8L1650.4 1419" stroke-width="1.9"/><path d="M1645.2 1418.7H1650.8V1424.2" stroke-width="1.9" stroke-linejoin="miter"/></g><path d="M1159.4 1836.7L1170.5 1903.3A67.5 67.5 0 1 1 1159.4 1769.2Z" fill="#ffd2d2" stroke="#ffd2d2" stroke-width=".4"/><path d="M1159.4 1836.7V1769.2A67.5 67.5 0 0 1 1170.5 1903.3Z" fill="#dce9f6"/><g fill="none" stroke="#000" stroke-width="3"><circle cx="1130.2" cy="1834.9" r="11.4"/><path d="M1130.2 1845.3V1857.6M1124.7 1851.7H1136.3"/></g><g fill="none" stroke="#000"><circle cx="1187.1" cy="1832.8" r="11" stroke-width="3"/><path d="M1194.9 1825L1204 1815.6" stroke-width="2.8"/><path d="M1196.3 1815.1H1204.5V1823.3" stroke-width="2.6" stroke-linejoin="miter"/></g><path d="M1714.4 1734.4L1660.5 1775.4A67.7 67.7 0 0 1 1714.4 1666.7Z" fill="#ffd2d2" stroke="#ffd2d2" stroke-width=".4"/><path d="M1714.4 1734.4V1666.7A67.7 67.7 0 1 1 1660.5 1775.4Z" fill="#dce9f6"/><g fill="none" stroke="#000" stroke-width="2.8"><circle cx="1682.8" cy="1710.4" r="10.4"/><path d="M1682.8 1720.1V1733.4M1678.2 1728.3H1687.9"/></g><g fill="none" stroke="#000"><circle cx="1735.3" cy="1759.4" r="15.1" stroke-width="4.6"/><path d="M1746 1748.7L1759.4 1736.3" stroke-width="4"/><path d="M1748.1 1735.7H1760V1747.6" stroke-width="3.2" stroke-linejoin="miter"/></g>
</svg>
</body></html>
